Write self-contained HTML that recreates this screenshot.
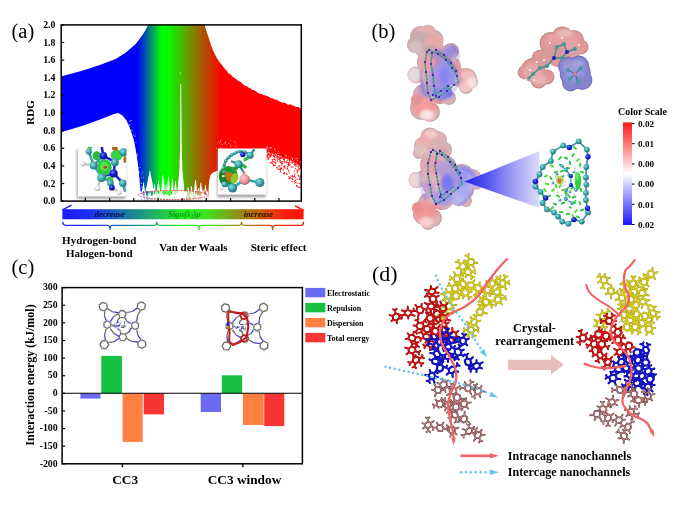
<!DOCTYPE html>
<html><head><meta charset="utf-8"><title>Figure</title>
<style>
html,body{margin:0;padding:0;background:#fff;}
body{width:680px;height:510px;overflow:hidden;font-family:"Liberation Serif",serif;}
svg{display:block;}
svg text{font-family:"Liberation Serif",serif;}
</style></head><body>
<svg width="680" height="510" viewBox="0 0 680 510">
<rect width="680" height="510" fill="#ffffff"/>
<g id="fig" filter="url(#b04)">
<defs>
<linearGradient id="gA" gradientUnits="userSpaceOnUse" x1="61" y1="0" x2="301" y2="0">
<stop offset="0" stop-color="#0000ff"/><stop offset="0.318" stop-color="#0000ff"/>
<stop offset="0.42" stop-color="#00ff00"/><stop offset="0.45" stop-color="#08f800"/>
<stop offset="0.56" stop-color="#8a7800"/><stop offset="0.67" stop-color="#ff0000"/><stop offset="1" stop-color="#ff0000"/>
</linearGradient>
<linearGradient id="gBar" gradientUnits="userSpaceOnUse" x1="62" y1="0" x2="304" y2="0">
<stop offset="0" stop-color="#1a1aff"/><stop offset="0.12" stop-color="#1a30f0"/>
<stop offset="0.5" stop-color="#22ee22"/><stop offset="0.6" stop-color="#40e020"/>
<stop offset="0.78" stop-color="#b07010"/><stop offset="0.92" stop-color="#ff2010"/><stop offset="1" stop-color="#ff1010"/>
</linearGradient>
<linearGradient id="gScale" x1="0" y1="0" x2="0" y2="1">
<stop offset="0" stop-color="#ff1818"/><stop offset="0.5" stop-color="#ffffff"/><stop offset="1" stop-color="#1818ff"/>
</linearGradient>
<linearGradient id="gCone" gradientUnits="userSpaceOnUse" x1="464" y1="0" x2="540" y2="0">
<stop offset="0" stop-color="#2020e8"/><stop offset="0.25" stop-color="#4848f0"/><stop offset="0.7" stop-color="#a8a8f6"/><stop offset="1" stop-color="#dcdcfb"/>
</linearGradient>
<radialGradient id="sT" cx="0.38" cy="0.35" r="0.7"><stop offset="0" stop-color="#8fe0e0"/><stop offset="0.5" stop-color="#3aa6aa"/><stop offset="1" stop-color="#1c6c74"/></radialGradient>
<radialGradient id="sB" cx="0.38" cy="0.35" r="0.7"><stop offset="0" stop-color="#6a78ff"/><stop offset="0.5" stop-color="#1020d8"/><stop offset="1" stop-color="#060a80"/></radialGradient>
<radialGradient id="sW" cx="0.38" cy="0.35" r="0.7"><stop offset="0" stop-color="#ffffff"/><stop offset="0.6" stop-color="#e4e4e4"/><stop offset="1" stop-color="#9a9a9a"/></radialGradient>
<radialGradient id="sP" cx="0.38" cy="0.35" r="0.7"><stop offset="0" stop-color="#ffd0d0"/><stop offset="0.6" stop-color="#e89098"/><stop offset="1" stop-color="#a85860"/></radialGradient>
<radialGradient id="sG" cx="0.4" cy="0.4" r="0.7"><stop offset="0" stop-color="#9cf08c"/><stop offset="0.6" stop-color="#2fc840"/><stop offset="1" stop-color="#1a8a30"/></radialGradient>
<filter id="b1" x="-20%" y="-20%" width="140%" height="140%"><feGaussianBlur stdDeviation="1"/></filter>
<filter id="b2" x="-20%" y="-20%" width="140%" height="140%"><feGaussianBlur stdDeviation="2.2"/></filter>
<filter id="b07" x="-20%" y="-20%" width="140%" height="140%"><feGaussianBlur stdDeviation="0.7"/></filter>
<filter id="b15" x="-20%" y="-20%" width="140%" height="140%"><feGaussianBlur stdDeviation="1.5"/></filter>
<filter id="b3" x="-30%" y="-30%" width="160%" height="160%"><feGaussianBlur stdDeviation="3.5"/></filter>
<filter id="b05" x="-10%" y="-10%" width="120%" height="120%"><feGaussianBlur stdDeviation="0.45"/></filter>
<filter id="sh" x="-20%" y="-20%" width="150%" height="150%"><feGaussianBlur stdDeviation="1.6"/></filter>
<clipPath id="cA"><rect x="61" y="24.5" width="240" height="177"/></clipPath>
</defs>
<text x="11.5" y="37.5" font-size="20.5" text-anchor="start" fill="#000" >(a)</text>
<g clip-path="url(#cA)">
<polygon points="61,76.6 82.9,70.4 100.5,64.8 115.6,59 125.6,52.8 135.7,44 143.2,33.9 148.5,24.5 204.5,24.5 204.9,25.9 205.3,27.3 205.8,28.8 206.2,30.2 206.6,31.6 207,32.5 207.4,34.2 207.8,34.8 208.2,36.5 208.6,37.3 209,38.5 209.4,40.1 209.8,41.8 210.2,42.1 210.6,43.5 211,45.2 211.5,46.8 212,47.6 212.5,48.6 213,50.6 213.5,50.7 214,52.9 214.5,53.5 215,54.6 215.6,55.5 216.2,56.8 216.9,58.4 217.5,58.6 218.1,60.1 218.8,61.2 219.4,61.8 220,63.1 220.8,63.4 221.6,64.4 222.4,65.5 223.2,67 224,67.7 224.8,68.5 225.6,69.8 226.4,70.5 227.2,71.3 228,72.9 228.9,73.5 229.8,73.7 230.7,74.8 231.6,75.5 232.5,76.7 233.4,77.3 234.3,77.5 235.2,79.1 236.1,78.8 237,79.9 238,81 239,80.9 240,82 241,82.1 242,83.6 243,84.4 244,84.8 245,85.9 246.1,85.8 247.2,86.8 248.2,87.3 249.3,87.9 250.4,88.3 251.5,89.4 252.6,90.1 253.7,90.1 254.8,90.9 255.8,90.8 256.9,92.2 258,92.7 259.1,93.6 260.3,93.9 261.4,93.7 262.5,94.4 263.7,95.2 264.8,94.9 266,96 267.1,96.1 268.2,96.5 269.4,97 270.5,98.3 271.7,98 272.9,98.5 274.1,99.1 275.3,100.1 276.5,99.6 277.7,100.5 278.8,101 280,101.8 281.2,102.2 282.4,102.7 283.6,102.4 284.8,103 286,103.3 287.3,104.4 288.5,104.9 289.8,104.3 291.1,104.8 292.3,105.3 293.6,105.7 294.9,106.4 296.1,106.9 297.4,107 298.7,107.1 299.9,108 301.2,108.5 301.2,166 290,160.5 280,156 267,151.5 255,152 240,156 228,163 219,170 213,172.5 210.5,175 209,182 208,201.5 208,201.5 206.7,191.5 205.7,185 205.2,185 204.2,191.5 203.6,191.5 203.2,189 202.8,189 202.4,191.5 202.2,191.5 201.1,182.4 200.6,182.4 199.4,191.5 199.1,191.5 198.6,188 198.1,188 197.6,191.5 197.1,191.5 195.8,179.8 195.2,179.8 193.9,191.5 192.4,191.5 191.8,186 191.2,186 190.6,191.5 189.3,191.5 188.4,187 187.9,187 187.1,191.5 176.8,191.5 175.8,181 175.3,181 174.3,191.5 173.7,191.5 172.6,178.5 172.1,178.5 170.9,191.5 169.9,191.5 168.7,176.5 168.2,176.5 166.9,191.5 166.9,191.5 166.2,184 165.8,184 165.1,191.5 165,191.5 163.2,175 162.8,175 161,191.5 160,191.5 158.7,180.4 158.2,180.4 156.8,191.5 155.5,191.5 154.8,184 154.2,184 153.5,191.5 154.1,191.5 150.1,171 149.6,171 145.6,191.5 145.1,191.5 143.8,183 143.2,183 141.9,191.5 140.5,191.5 140,186 138.8,172 137.4,160 135.7,149.4 133.8,140 131.6,133 129,126 126.5,120.6 122.5,115.5 118.2,113 114,114 100,119.5 85,125 72,129 61,132.2" fill="url(#gA)"/>
<rect x="140.5" y="191.5" width="67.5" height="10" fill="#fff"/>
<rect x="165.7" y="191.2" width="1.1" height="3.5" fill="url(#gA)" opacity="0.8"/>
<rect x="175.3" y="191.2" width="0.9" height="3.7" fill="url(#gA)" opacity="0.5"/>
<rect x="200.4" y="191.2" width="1" height="4.2" fill="url(#gA)" opacity="0.8"/>
<rect x="167.2" y="191.2" width="0.6" height="2.9" fill="url(#gA)" opacity="0.8"/>
<rect x="145.6" y="191.2" width="0.6" height="1.7" fill="url(#gA)" opacity="0.6"/>
<rect x="163.8" y="191.2" width="0.5" height="1.7" fill="url(#gA)" opacity="0.6"/>
<rect x="148.1" y="191.2" width="0.5" height="2.8" fill="url(#gA)" opacity="0.8"/>
<rect x="181.7" y="191.2" width="0.7" height="2" fill="url(#gA)" opacity="0.6"/>
<rect x="165.4" y="191.2" width="1" height="1.9" fill="url(#gA)" opacity="0.9"/>
<rect x="172" y="191.2" width="0.6" height="3.2" fill="url(#gA)" opacity="0.5"/>
<rect x="163.9" y="191.2" width="1" height="2.4" fill="url(#gA)" opacity="0.6"/>
<rect x="143" y="191.2" width="0.8" height="4.8" fill="url(#gA)" opacity="0.6"/>
<rect x="177.1" y="191.2" width="0.8" height="1.6" fill="url(#gA)" opacity="0.9"/>
<rect x="198" y="191.2" width="0.7" height="3.9" fill="url(#gA)" opacity="0.6"/>
<rect x="152.4" y="191.2" width="0.8" height="4.2" fill="url(#gA)" opacity="0.8"/>
<rect x="163.1" y="191.2" width="1" height="2.3" fill="url(#gA)" opacity="0.9"/>
<rect x="197.3" y="191.2" width="1" height="4.3" fill="url(#gA)" opacity="0.8"/>
<rect x="156.4" y="191.2" width="0.7" height="3.3" fill="url(#gA)" opacity="0.5"/>
<rect x="143.3" y="191.2" width="0.7" height="2.5" fill="url(#gA)" opacity="0.8"/>
<rect x="204.2" y="191.2" width="1.1" height="3.1" fill="url(#gA)" opacity="0.9"/>
<rect x="204.1" y="191.2" width="0.6" height="2.8" fill="url(#gA)" opacity="0.6"/>
<rect x="154.4" y="191.2" width="0.9" height="2.2" fill="url(#gA)" opacity="0.9"/>
<rect x="196.5" y="191.2" width="0.9" height="3.2" fill="url(#gA)" opacity="0.8"/>
<rect x="147.1" y="191.2" width="1" height="3.8" fill="url(#gA)" opacity="0.8"/>
<rect x="190.6" y="191.2" width="0.6" height="3.2" fill="url(#gA)" opacity="0.8"/>
<rect x="163.3" y="191.2" width="1.1" height="4.3" fill="url(#gA)" opacity="0.7"/>
<rect x="167.8" y="191.2" width="0.9" height="4.8" fill="url(#gA)" opacity="0.6"/>
<rect x="149.8" y="191.2" width="1" height="2" fill="url(#gA)" opacity="0.8"/>
<rect x="151.1" y="191.2" width="1.1" height="4.4" fill="url(#gA)" opacity="0.8"/>
<rect x="164.5" y="191.2" width="0.6" height="3.4" fill="url(#gA)" opacity="0.5"/>
<rect x="205.1" y="191.2" width="0.8" height="3.8" fill="url(#gA)" opacity="0.9"/>
<rect x="169.9" y="191.2" width="1" height="4.6" fill="url(#gA)" opacity="0.6"/>
<rect x="158" y="191.2" width="0.6" height="2.5" fill="url(#gA)" opacity="0.7"/>
<rect x="158.5" y="191.2" width="0.6" height="3" fill="url(#gA)" opacity="0.9"/>
<rect x="164.7" y="191.2" width="0.9" height="3.1" fill="url(#gA)" opacity="0.9"/>
<rect x="169.1" y="191.2" width="0.8" height="4.7" fill="url(#gA)" opacity="0.7"/>
<rect x="175.8" y="191.2" width="0.8" height="1.6" fill="url(#gA)" opacity="0.6"/>
<rect x="141.8" y="191.2" width="0.6" height="4.3" fill="url(#gA)" opacity="0.7"/>
<rect x="189" y="191.2" width="0.7" height="3.4" fill="url(#gA)" opacity="0.7"/>
<rect x="177.9" y="191.2" width="0.6" height="4.2" fill="url(#gA)" opacity="0.7"/>
<rect x="157.8" y="191.2" width="1" height="2.5" fill="url(#gA)" opacity="0.7"/>
<rect x="178.3" y="191.2" width="1" height="4.2" fill="url(#gA)" opacity="0.7"/>
<rect x="181.6" y="191.2" width="0.8" height="3.3" fill="url(#gA)" opacity="0.8"/>
<rect x="171.1" y="191.2" width="0.8" height="3.4" fill="url(#gA)" opacity="0.9"/>
<rect x="187.3" y="191.2" width="1.1" height="4.6" fill="url(#gA)" opacity="0.6"/>
<rect x="178.1" y="191.2" width="1" height="4.8" fill="url(#gA)" opacity="0.6"/>
<rect x="149.5" y="191.2" width="0.5" height="3" fill="url(#gA)" opacity="0.6"/>
<rect x="146.3" y="191.2" width="1" height="3.8" fill="url(#gA)" opacity="0.9"/>
<rect x="151.6" y="191.2" width="0.9" height="4" fill="url(#gA)" opacity="0.6"/>
<rect x="199.3" y="191.2" width="0.6" height="4.9" fill="url(#gA)" opacity="0.9"/>
<rect x="167.6" y="191.2" width="1.1" height="3.2" fill="url(#gA)" opacity="0.8"/>
<rect x="152.1" y="191.2" width="0.8" height="3" fill="url(#gA)" opacity="0.6"/>
<rect x="154.3" y="191.2" width="0.9" height="2.6" fill="url(#gA)" opacity="0.5"/>
<rect x="177.8" y="191.2" width="0.5" height="3" fill="url(#gA)" opacity="0.6"/>
<rect x="182.4" y="191.2" width="0.5" height="3.3" fill="url(#gA)" opacity="0.9"/>
<rect x="193.1" y="191.2" width="0.6" height="4.9" fill="url(#gA)" opacity="0.6"/>
<rect x="144.1" y="191.2" width="0.7" height="4.2" fill="url(#gA)" opacity="0.6"/>
<rect x="169.2" y="191.2" width="1" height="4.7" fill="url(#gA)" opacity="0.6"/>
<rect x="151.3" y="191.2" width="0.8" height="4.7" fill="url(#gA)" opacity="0.8"/>
<rect x="147.4" y="191.2" width="0.9" height="1.7" fill="url(#gA)" opacity="0.7"/>
<rect x="146.2" y="191.2" width="0.9" height="4.8" fill="url(#gA)" opacity="0.8"/>
<rect x="147" y="191.2" width="0.5" height="4.5" fill="url(#gA)" opacity="0.8"/>
<rect x="171.2" y="191.2" width="0.8" height="2.7" fill="url(#gA)" opacity="0.9"/>
<rect x="159" y="191.2" width="0.8" height="2" fill="url(#gA)" opacity="0.6"/>
<rect x="148.7" y="191.2" width="0.5" height="2.1" fill="url(#gA)" opacity="0.6"/>
<rect x="161.9" y="191.2" width="1" height="2.6" fill="url(#gA)" opacity="0.6"/>
<rect x="174.3" y="191.2" width="0.7" height="2.1" fill="url(#gA)" opacity="0.5"/>
<rect x="157.9" y="191.2" width="0.9" height="1.6" fill="url(#gA)" opacity="0.7"/>
<rect x="153.9" y="191.2" width="1.1" height="3.2" fill="url(#gA)" opacity="0.5"/>
<rect x="195.1" y="191.2" width="0.8" height="3" fill="url(#gA)" opacity="0.8"/>
<rect x="167.2" y="197.5" width="0.6" height="4" fill="url(#gA)" opacity="0.45"/>
<rect x="186.5" y="194.6" width="0.6" height="6.9" fill="url(#gA)" opacity="0.45"/>
<rect x="163.9" y="195.5" width="0.6" height="6" fill="url(#gA)" opacity="0.45"/>
<rect x="187.8" y="196.7" width="0.6" height="4.8" fill="url(#gA)" opacity="0.45"/>
<rect x="168" y="198.4" width="0.6" height="3.1" fill="url(#gA)" opacity="0.45"/>
<rect x="145.1" y="199.7" width="0.6" height="1.8" fill="url(#gA)" opacity="0.45"/>
<rect x="146.1" y="196.1" width="0.6" height="5.4" fill="url(#gA)" opacity="0.45"/>
<rect x="158.2" y="199.5" width="0.6" height="2" fill="url(#gA)" opacity="0.45"/>
<rect x="147" y="195.5" width="0.6" height="6" fill="url(#gA)" opacity="0.45"/>
<rect x="198.5" y="196.5" width="0.6" height="5" fill="url(#gA)" opacity="0.45"/>
<rect x="160" y="199" width="0.6" height="2.5" fill="url(#gA)" opacity="0.45"/>
<rect x="160.7" y="197.7" width="0.6" height="3.8" fill="url(#gA)" opacity="0.45"/>
<rect x="151.8" y="197.8" width="0.6" height="3.7" fill="url(#gA)" opacity="0.45"/>
<rect x="158.7" y="194.7" width="0.6" height="6.8" fill="url(#gA)" opacity="0.45"/>
<rect x="205.2" y="197.2" width="0.6" height="4.3" fill="url(#gA)" opacity="0.45"/>
<rect x="157.5" y="194.7" width="0.6" height="6.8" fill="url(#gA)" opacity="0.45"/>
<rect x="161.8" y="198.4" width="0.6" height="3.1" fill="url(#gA)" opacity="0.45"/>
<rect x="141.6" y="198.2" width="0.6" height="3.3" fill="url(#gA)" opacity="0.45"/>
<rect x="172.6" y="197.5" width="0.6" height="4" fill="url(#gA)" opacity="0.45"/>
<rect x="154.7" y="197.5" width="0.6" height="4" fill="url(#gA)" opacity="0.45"/>
<rect x="141.8" y="198.9" width="0.6" height="2.6" fill="url(#gA)" opacity="0.45"/>
<rect x="147.4" y="198.1" width="0.6" height="3.4" fill="url(#gA)" opacity="0.45"/>
<rect x="144.2" y="200.4" width="0.6" height="1.1" fill="url(#gA)" opacity="0.45"/>
<rect x="161.4" y="199.1" width="0.6" height="2.4" fill="url(#gA)" opacity="0.45"/>
<rect x="179.9" y="197.3" width="0.6" height="4.2" fill="url(#gA)" opacity="0.45"/>
<rect x="190.7" y="196.6" width="0.6" height="4.9" fill="url(#gA)" opacity="0.45"/>
<rect x="188.4" y="195.2" width="0.6" height="6.3" fill="url(#gA)" opacity="0.45"/>
<rect x="167" y="198.5" width="0.6" height="3" fill="url(#gA)" opacity="0.45"/>
<rect x="206" y="199.6" width="0.6" height="1.9" fill="url(#gA)" opacity="0.45"/>
<rect x="188.9" y="196.6" width="0.6" height="4.9" fill="url(#gA)" opacity="0.45"/>
<rect x="144.4" y="195.5" width="0.6" height="6" fill="url(#gA)" opacity="0.45"/>
<rect x="199.9" y="196.7" width="0.6" height="4.8" fill="url(#gA)" opacity="0.45"/>
<rect x="189.6" y="195.6" width="0.6" height="5.9" fill="url(#gA)" opacity="0.45"/>
<rect x="150.6" y="197.4" width="0.6" height="4.1" fill="url(#gA)" opacity="0.45"/>
<rect x="174.5" y="195.5" width="0.6" height="6" fill="url(#gA)" opacity="0.45"/>
<rect x="194.2" y="195.5" width="0.6" height="6" fill="url(#gA)" opacity="0.45"/>
<rect x="179.8" y="195.1" width="0.6" height="6.4" fill="url(#gA)" opacity="0.45"/>
<rect x="186.2" y="196.3" width="0.6" height="5.2" fill="url(#gA)" opacity="0.45"/>
<rect x="156.6" y="200.3" width="0.6" height="1.2" fill="url(#gA)" opacity="0.45"/>
<rect x="150.2" y="198.3" width="0.6" height="3.2" fill="url(#gA)" opacity="0.45"/>
<rect x="148.4" y="195.5" width="0.6" height="6" fill="url(#gA)" opacity="0.45"/>
<rect x="178.1" y="196.7" width="0.6" height="4.8" fill="url(#gA)" opacity="0.45"/>
<rect x="182.5" y="196.4" width="0.6" height="5.1" fill="url(#gA)" opacity="0.45"/>
<rect x="173.5" y="200.5" width="0.6" height="1" fill="url(#gA)" opacity="0.45"/>
<rect x="193.7" y="196" width="0.6" height="5.5" fill="url(#gA)" opacity="0.45"/>
<polygon points="180.4,84 181.2,84 181.5,120 181.8,150 182.4,170 184.3,190 185.4,201.5 176.4,201.5 177.5,190 179.4,170 180,150 180.2,120" fill="#fff"/>
<rect x="180.45" y="72" width="0.5" height="3" fill="#fff" opacity="0.7"/>
<rect x="136.7" y="155.2" width="0.8" height="0.8" fill="#fff" opacity="0.85"/>
<rect x="136.6" y="166.2" width="0.8" height="0.8" fill="#fff" opacity="0.85"/>
<rect x="138.6" y="171.6" width="0.8" height="0.8" fill="#fff" opacity="0.85"/>
<rect x="129.4" y="125.2" width="0.8" height="0.8" fill="#fff" opacity="0.85"/>
<rect x="138.2" y="171.1" width="0.8" height="0.8" fill="#fff" opacity="0.85"/>
<rect x="142.2" y="171.8" width="0.8" height="0.8" fill="#fff" opacity="0.85"/>
<rect x="135.8" y="154.6" width="0.8" height="0.8" fill="#fff" opacity="0.85"/>
<rect x="137.1" y="153.5" width="0.8" height="0.8" fill="#fff" opacity="0.85"/>
<rect x="140.8" y="173.7" width="0.8" height="0.8" fill="#fff" opacity="0.85"/>
<rect x="136.4" y="165" width="0.8" height="0.8" fill="#fff" opacity="0.85"/>
<rect x="130.3" y="130.3" width="0.8" height="0.8" fill="#fff" opacity="0.85"/>
<rect x="138.9" y="172" width="0.8" height="0.8" fill="#fff" opacity="0.85"/>
<rect x="135" y="159.7" width="0.8" height="0.8" fill="#fff" opacity="0.85"/>
<rect x="129.2" y="124.2" width="0.8" height="0.8" fill="#fff" opacity="0.85"/>
<rect x="139.9" y="167" width="0.8" height="0.8" fill="#fff" opacity="0.85"/>
<rect x="137.9" y="167.3" width="0.8" height="0.8" fill="#fff" opacity="0.85"/>
<rect x="136.6" y="156.2" width="0.8" height="0.8" fill="#fff" opacity="0.85"/>
<rect x="134.1" y="152.6" width="0.8" height="0.8" fill="#fff" opacity="0.85"/>
<rect x="140.5" y="182.6" width="0.8" height="0.8" fill="#fff" opacity="0.85"/>
<rect x="145.4" y="188.5" width="0.8" height="0.8" fill="#fff" opacity="0.85"/>
<rect x="129.5" y="121.2" width="0.8" height="0.8" fill="#fff" opacity="0.85"/>
<rect x="143.3" y="177.4" width="0.8" height="0.8" fill="#fff" opacity="0.85"/>
<rect x="134.6" y="151.5" width="0.8" height="0.8" fill="#fff" opacity="0.85"/>
<rect x="134.7" y="134.7" width="0.8" height="0.8" fill="#fff" opacity="0.85"/>
<rect x="132.9" y="134.7" width="0.8" height="0.8" fill="#fff" opacity="0.85"/>
<rect x="131.6" y="129.9" width="0.8" height="0.8" fill="#fff" opacity="0.85"/>
<rect x="141" y="186.7" width="0.8" height="0.8" fill="#fff" opacity="0.85"/>
<rect x="141" y="177.4" width="0.8" height="0.8" fill="#fff" opacity="0.85"/>
<rect x="142.9" y="182.1" width="0.8" height="0.8" fill="#fff" opacity="0.85"/>
<rect x="134.7" y="136.2" width="0.8" height="0.8" fill="#fff" opacity="0.85"/>
<rect x="133.9" y="154" width="0.8" height="0.8" fill="#fff" opacity="0.85"/>
<rect x="129.5" y="120.3" width="0.8" height="0.8" fill="#fff" opacity="0.85"/>
<rect x="134.8" y="151.6" width="0.8" height="0.8" fill="#fff" opacity="0.85"/>
<rect x="130.7" y="129.8" width="0.8" height="0.8" fill="#fff" opacity="0.85"/>
<rect x="135.6" y="142.1" width="0.8" height="0.8" fill="#fff" opacity="0.85"/>
<rect x="130.8" y="120.1" width="0.8" height="0.8" fill="#fff" opacity="0.85"/>
<rect x="139.3" y="178.7" width="0.8" height="0.8" fill="#fff" opacity="0.85"/>
<rect x="143.5" y="184.8" width="0.8" height="0.8" fill="#fff" opacity="0.85"/>
<rect x="141.1" y="183.1" width="0.8" height="0.8" fill="#fff" opacity="0.85"/>
<rect x="134.2" y="146.1" width="0.8" height="0.8" fill="#fff" opacity="0.85"/>
<rect x="236" y="145.9" width="0.8" height="0.8" fill="#fff" opacity="0.85"/>
<rect x="221.9" y="144.3" width="0.8" height="0.8" fill="#fff" opacity="0.85"/>
<rect x="220.1" y="140.5" width="0.8" height="0.8" fill="#fff" opacity="0.85"/>
<rect x="216.2" y="148.3" width="0.8" height="0.8" fill="#fff" opacity="0.85"/>
<rect x="220.3" y="149.4" width="0.8" height="0.8" fill="#fff" opacity="0.85"/>
<rect x="219.5" y="142.7" width="0.8" height="0.8" fill="#fff" opacity="0.85"/>
<rect x="225.2" y="141.9" width="0.8" height="0.8" fill="#fff" opacity="0.85"/>
<rect x="222.2" y="149.6" width="0.8" height="0.8" fill="#fff" opacity="0.85"/>
<rect x="233.5" y="148.1" width="0.8" height="0.8" fill="#fff" opacity="0.85"/>
<rect x="227.9" y="149.1" width="0.8" height="0.8" fill="#fff" opacity="0.85"/>
<rect x="234.7" y="145.5" width="0.8" height="0.8" fill="#fff" opacity="0.85"/>
<rect x="229.8" y="140.5" width="0.8" height="0.8" fill="#fff" opacity="0.85"/>
<rect x="230.1" y="144.5" width="0.8" height="0.8" fill="#fff" opacity="0.85"/>
<rect x="230.6" y="146.4" width="0.8" height="0.8" fill="#fff" opacity="0.85"/>
<rect x="220.3" y="140.5" width="0.8" height="0.8" fill="#fff" opacity="0.85"/>
<rect x="234.4" y="141.3" width="0.8" height="0.8" fill="#fff" opacity="0.85"/>
<rect x="224.4" y="143.4" width="0.8" height="0.8" fill="#fff" opacity="0.85"/>
<rect x="220.6" y="147.4" width="0.8" height="0.8" fill="#fff" opacity="0.85"/>
<rect x="235.5" y="142.6" width="0.8" height="0.8" fill="#fff" opacity="0.85"/>
<rect x="228.4" y="143" width="0.8" height="0.8" fill="#fff" opacity="0.85"/>
<rect x="226.3" y="143.9" width="0.8" height="0.8" fill="#fff" opacity="0.85"/>
<rect x="217.7" y="141.6" width="0.8" height="0.8" fill="#fff" opacity="0.85"/>
<rect x="218.6" y="149.1" width="0.8" height="0.8" fill="#fff" opacity="0.85"/>
<rect x="224.9" y="142.2" width="0.8" height="0.8" fill="#fff" opacity="0.85"/>
<rect x="297.7" y="186.6" width="1.1" height="1.1" fill="#ff0000"/>
<rect x="281.7" y="156.8" width="1.1" height="1.1" fill="#ff0000"/>
<rect x="272.7" y="152.4" width="1.1" height="1.1" fill="#ff0000"/>
<rect x="278" y="154.6" width="1.1" height="1.1" fill="#ff0000"/>
<rect x="274.4" y="154.7" width="1.1" height="1.1" fill="#ff0000"/>
<rect x="285.9" y="173.5" width="1.1" height="1.1" fill="#ff0000"/>
<rect x="292.2" y="166.4" width="1.1" height="1.1" fill="#ff0000"/>
<rect x="280.5" y="161.9" width="1.1" height="1.1" fill="#ff0000"/>
<rect x="279.2" y="158.1" width="1.1" height="1.1" fill="#ff0000"/>
<rect x="268.2" y="151.8" width="1.1" height="1.1" fill="#ff0000"/>
<rect x="299.9" y="164.7" width="1.1" height="1.1" fill="#ff0000"/>
<rect x="283.6" y="165.9" width="1.1" height="1.1" fill="#ff0000"/>
<rect x="296.2" y="164.5" width="1.1" height="1.1" fill="#ff0000"/>
<rect x="275.5" y="155.1" width="1.1" height="1.1" fill="#ff0000"/>
<rect x="280" y="160.2" width="1.1" height="1.1" fill="#ff0000"/>
<rect x="299.4" y="183" width="1.1" height="1.1" fill="#ff0000"/>
<rect x="296.6" y="162" width="1.1" height="1.1" fill="#ff0000"/>
<rect x="267.1" y="156.1" width="1.1" height="1.1" fill="#ff0000"/>
<rect x="297.3" y="170.7" width="1.1" height="1.1" fill="#ff0000"/>
<rect x="286.6" y="157.7" width="1.1" height="1.1" fill="#ff0000"/>
<rect x="279.7" y="169.4" width="1.1" height="1.1" fill="#ff0000"/>
<rect x="294.9" y="179.7" width="1.1" height="1.1" fill="#ff0000"/>
<rect x="300" y="167" width="1.1" height="1.1" fill="#ff0000"/>
<rect x="269.8" y="151.5" width="1.1" height="1.1" fill="#ff0000"/>
<rect x="284.3" y="167.4" width="1.1" height="1.1" fill="#ff0000"/>
<rect x="299" y="178.6" width="1.1" height="1.1" fill="#ff0000"/>
<rect x="288.7" y="172.5" width="1.1" height="1.1" fill="#ff0000"/>
<rect x="282" y="163.3" width="1.1" height="1.1" fill="#ff0000"/>
<rect x="267.4" y="157.2" width="1.1" height="1.1" fill="#ff0000"/>
<rect x="274.1" y="164.7" width="1.1" height="1.1" fill="#ff0000"/>
<rect x="288.6" y="162.4" width="1.1" height="1.1" fill="#ff0000"/>
<rect x="270.5" y="152.7" width="1.1" height="1.1" fill="#ff0000"/>
<rect x="288.3" y="170.6" width="1.1" height="1.1" fill="#ff0000"/>
<rect x="269.9" y="151" width="1.1" height="1.1" fill="#ff0000"/>
<rect x="284.4" y="165.4" width="1.1" height="1.1" fill="#ff0000"/>
<rect x="279.6" y="156.8" width="1.1" height="1.1" fill="#ff0000"/>
<rect x="287" y="157.9" width="1.1" height="1.1" fill="#ff0000"/>
<rect x="276.6" y="158.5" width="1.1" height="1.1" fill="#ff0000"/>
<rect x="299.6" y="176.8" width="1.1" height="1.1" fill="#ff0000"/>
<rect x="296.9" y="170.5" width="1.1" height="1.1" fill="#ff0000"/>
<rect x="274.2" y="154.5" width="1.1" height="1.1" fill="#ff0000"/>
<rect x="299.6" y="178.6" width="1.1" height="1.1" fill="#ff0000"/>
<rect x="276.8" y="153.7" width="1.1" height="1.1" fill="#ff0000"/>
<rect x="283.4" y="166.7" width="1.1" height="1.1" fill="#ff0000"/>
<rect x="280.7" y="157.7" width="1.1" height="1.1" fill="#ff0000"/>
<rect x="289.4" y="177.3" width="1.1" height="1.1" fill="#ff0000"/>
<rect x="273.9" y="152.5" width="1.1" height="1.1" fill="#ff0000"/>
<rect x="277.8" y="158.6" width="1.1" height="1.1" fill="#ff0000"/>
<rect x="289.9" y="161.3" width="1.1" height="1.1" fill="#ff0000"/>
<rect x="293.9" y="175.6" width="1.1" height="1.1" fill="#ff0000"/>
<rect x="283.7" y="158.5" width="1.1" height="1.1" fill="#ff0000"/>
<rect x="299.9" y="168.3" width="1.1" height="1.1" fill="#ff0000"/>
<rect x="294.7" y="164.1" width="1.1" height="1.1" fill="#ff0000"/>
<rect x="273.8" y="161.5" width="1.1" height="1.1" fill="#ff0000"/>
<rect x="276.3" y="167.1" width="1.1" height="1.1" fill="#ff0000"/>
<rect x="283.4" y="158.1" width="1.1" height="1.1" fill="#ff0000"/>
<rect x="273.8" y="156.3" width="1.1" height="1.1" fill="#ff0000"/>
<rect x="289.3" y="177.9" width="1.1" height="1.1" fill="#ff0000"/>
<rect x="271.1" y="154.6" width="1.1" height="1.1" fill="#ff0000"/>
<rect x="273.5" y="165.1" width="1.1" height="1.1" fill="#ff0000"/>
<rect x="271" y="151.4" width="1.1" height="1.1" fill="#ff0000"/>
<rect x="268.1" y="152.9" width="1.1" height="1.1" fill="#ff0000"/>
<rect x="297.4" y="182.6" width="1.1" height="1.1" fill="#ff0000"/>
<rect x="291.6" y="181.3" width="1.1" height="1.1" fill="#ff0000"/>
<rect x="298.6" y="168" width="1.1" height="1.1" fill="#ff0000"/>
<rect x="272.5" y="163.6" width="1.1" height="1.1" fill="#ff0000"/>
<rect x="292.1" y="160.2" width="1.1" height="1.1" fill="#ff0000"/>
<rect x="289.3" y="164.1" width="1.1" height="1.1" fill="#ff0000"/>
<rect x="279.1" y="158" width="1.1" height="1.1" fill="#ff0000"/>
<rect x="271.9" y="151.6" width="1.1" height="1.1" fill="#ff0000"/>
<rect x="275.8" y="156.5" width="1.1" height="1.1" fill="#ff0000"/>
<rect x="299.4" y="164.5" width="1.1" height="1.1" fill="#ff0000"/>
<rect x="299.7" y="166" width="1.1" height="1.1" fill="#ff0000"/>
<rect x="278.5" y="166.2" width="1.1" height="1.1" fill="#ff0000"/>
<rect x="294.8" y="168.3" width="1.1" height="1.1" fill="#ff0000"/>
<rect x="267.7" y="153.6" width="1.1" height="1.1" fill="#ff0000"/>
<rect x="279" y="168.7" width="1.1" height="1.1" fill="#ff0000"/>
<rect x="272.8" y="155.1" width="1.1" height="1.1" fill="#ff0000"/>
<rect x="297.4" y="162.4" width="1.1" height="1.1" fill="#ff0000"/>
<rect x="280.4" y="167.4" width="1.1" height="1.1" fill="#ff0000"/>
<rect x="292.8" y="160.6" width="1.1" height="1.1" fill="#ff0000"/>
<rect x="267.2" y="149.8" width="1.1" height="1.1" fill="#ff0000"/>
<rect x="298.2" y="166.3" width="1.1" height="1.1" fill="#ff0000"/>
<rect x="292.2" y="178.8" width="1.1" height="1.1" fill="#ff0000"/>
<rect x="277.9" y="156.5" width="1.1" height="1.1" fill="#ff0000"/>
<rect x="299.5" y="175.9" width="1.1" height="1.1" fill="#ff0000"/>
<rect x="275.2" y="161.8" width="1.1" height="1.1" fill="#ff0000"/>
<rect x="277.1" y="156.2" width="1.1" height="1.1" fill="#ff0000"/>
<rect x="266.1" y="155.9" width="1.1" height="1.1" fill="#ff0000"/>
<rect x="298.1" y="175.5" width="1.1" height="1.1" fill="#ff0000"/>
<rect x="299" y="163.1" width="1.1" height="1.1" fill="#ff0000"/>
<rect x="274.2" y="157.3" width="1.1" height="1.1" fill="#ff0000"/>
<rect x="299.5" y="186.6" width="1.1" height="1.1" fill="#ff0000"/>
<rect x="279.5" y="157.1" width="1.1" height="1.1" fill="#ff0000"/>
<rect x="281" y="161.6" width="1.1" height="1.1" fill="#ff0000"/>
<rect x="298.5" y="165" width="1.1" height="1.1" fill="#ff0000"/>
<rect x="294.1" y="175.7" width="1.1" height="1.1" fill="#ff0000"/>
<rect x="294.8" y="177.2" width="1.1" height="1.1" fill="#ff0000"/>
<rect x="287.3" y="162.1" width="1.1" height="1.1" fill="#ff0000"/>
<rect x="277.2" y="157.4" width="1.1" height="1.1" fill="#ff0000"/>
<rect x="293.4" y="161.2" width="1.1" height="1.1" fill="#ff0000"/>
<rect x="272.9" y="160.8" width="1.1" height="1.1" fill="#ff0000"/>
<rect x="274.7" y="153" width="1.1" height="1.1" fill="#ff0000"/>
<rect x="267.2" y="154.2" width="1.1" height="1.1" fill="#ff0000"/>
<rect x="277.4" y="168.6" width="1.1" height="1.1" fill="#ff0000"/>
<rect x="296.9" y="185.6" width="1.1" height="1.1" fill="#ff0000"/>
<rect x="275.3" y="153.4" width="1.1" height="1.1" fill="#ff0000"/>
<rect x="269.4" y="154.8" width="1.1" height="1.1" fill="#ff0000"/>
<rect x="290.8" y="166.4" width="1.1" height="1.1" fill="#ff0000"/>
<rect x="274.2" y="156.5" width="1.1" height="1.1" fill="#ff0000"/>
<rect x="287.7" y="169.6" width="1.1" height="1.1" fill="#ff0000"/>
<rect x="292.2" y="177.3" width="1.1" height="1.1" fill="#ff0000"/>
<rect x="289.3" y="159.9" width="1.1" height="1.1" fill="#ff0000"/>
<rect x="295.4" y="165.6" width="1.1" height="1.1" fill="#ff0000"/>
<rect x="285.8" y="162.2" width="1.1" height="1.1" fill="#ff0000"/>
<rect x="291.8" y="162.2" width="1.1" height="1.1" fill="#ff0000"/>
<rect x="274.7" y="154.7" width="1.1" height="1.1" fill="#ff0000"/>
<rect x="271.4" y="161.8" width="1.1" height="1.1" fill="#ff0000"/>
<rect x="286.2" y="161.6" width="1.1" height="1.1" fill="#ff0000"/>
<rect x="279.9" y="171" width="1.1" height="1.1" fill="#ff0000"/>
<rect x="283.8" y="158.9" width="1.1" height="1.1" fill="#ff0000"/>
<rect x="294.3" y="173.5" width="1.1" height="1.1" fill="#ff0000"/>
<rect x="300.7" y="164.7" width="1.1" height="1.1" fill="#ff0000"/>
<rect x="282.6" y="169.3" width="1.1" height="1.1" fill="#ff0000"/>
<rect x="295.4" y="181.9" width="1.1" height="1.1" fill="#ff0000"/>
<rect x="267.4" y="151.6" width="1.1" height="1.1" fill="#ff0000"/>
<rect x="270.2" y="152" width="1.1" height="1.1" fill="#ff0000"/>
<rect x="300.1" y="175.3" width="1.1" height="1.1" fill="#ff0000"/>
<rect x="298.6" y="168.9" width="1.1" height="1.1" fill="#ff0000"/>
<rect x="296.3" y="169.5" width="1.1" height="1.1" fill="#ff0000"/>
<rect x="275.1" y="162.8" width="1.1" height="1.1" fill="#ff0000"/>
<rect x="299.1" y="164.1" width="1.1" height="1.1" fill="#ff0000"/>
<rect x="286.9" y="167.8" width="1.1" height="1.1" fill="#ff0000"/>
<rect x="273.6" y="155.6" width="1.1" height="1.1" fill="#ff0000"/>
<rect x="270.9" y="152.5" width="1.1" height="1.1" fill="#ff0000"/>
<rect x="274.9" y="159.7" width="1.1" height="1.1" fill="#ff0000"/>
<rect x="288.8" y="160.8" width="1.1" height="1.1" fill="#ff0000"/>
<rect x="266.4" y="151.4" width="1.1" height="1.1" fill="#ff0000"/>
<rect x="289.7" y="161" width="1.1" height="1.1" fill="#ff0000"/>
<rect x="276.9" y="155.3" width="1.1" height="1.1" fill="#ff0000"/>
<rect x="293.8" y="170.5" width="1.1" height="1.1" fill="#ff0000"/>
<rect x="268.2" y="150.5" width="1.1" height="1.1" fill="#ff0000"/>
<rect x="279.8" y="161.9" width="1.1" height="1.1" fill="#ff0000"/>
<rect x="288.4" y="159.2" width="1.1" height="1.1" fill="#ff0000"/>
<rect x="271.7" y="159.1" width="1.1" height="1.1" fill="#ff0000"/>
<rect x="280.3" y="157.9" width="1.1" height="1.1" fill="#ff0000"/>
<rect x="276.8" y="167.5" width="1.1" height="1.1" fill="#ff0000"/>
<rect x="276.9" y="160.4" width="1.1" height="1.1" fill="#ff0000"/>
<rect x="278.5" y="158.9" width="1.1" height="1.1" fill="#ff0000"/>
<rect x="296.2" y="185.3" width="1.1" height="1.1" fill="#ff0000"/>
<rect x="278.7" y="156" width="1.1" height="1.1" fill="#ff0000"/>
<rect x="291.5" y="162.1" width="1.1" height="1.1" fill="#ff0000"/>
<rect x="266.2" y="157.9" width="1.1" height="1.1" fill="#ff0000"/>
<rect x="280.8" y="167.9" width="1.1" height="1.1" fill="#ff0000"/>
<rect x="280.2" y="168.8" width="1.1" height="1.1" fill="#ff0000"/>
<rect x="282.1" y="157.2" width="1.1" height="1.1" fill="#ff0000"/>
<rect x="266.5" y="153.7" width="1.1" height="1.1" fill="#ff0000"/>
<rect x="288.4" y="176.1" width="1.1" height="1.1" fill="#ff0000"/>
<rect x="269.1" y="156.3" width="1.1" height="1.1" fill="#ff0000"/>
<rect x="279" y="160.6" width="1.1" height="1.1" fill="#ff0000"/>
<rect x="271.1" y="153.3" width="1.1" height="1.1" fill="#ff0000"/>
<rect x="284.2" y="173.1" width="1.1" height="1.1" fill="#ff0000"/>
<rect x="269.8" y="155" width="1.1" height="1.1" fill="#ff0000"/>
<rect x="294.2" y="182.5" width="1.1" height="1.1" fill="#ff0000"/>
<rect x="272.9" y="152.7" width="1.1" height="1.1" fill="#ff0000"/>
<rect x="299" y="186.9" width="1.1" height="1.1" fill="#ff0000"/>
<rect x="282.9" y="156.5" width="1.1" height="1.1" fill="#ff0000"/>
<rect x="298.4" y="169.2" width="1.1" height="1.1" fill="#ff0000"/>
<rect x="297.6" y="174.8" width="1.1" height="1.1" fill="#ff0000"/>
<rect x="294.9" y="163" width="1.1" height="1.1" fill="#ff0000"/>
<rect x="293.5" y="163.4" width="1.1" height="1.1" fill="#ff0000"/>
<rect x="280.2" y="168" width="1.1" height="1.1" fill="#ff0000"/>
<rect x="295" y="163.4" width="1.1" height="1.1" fill="#ff0000"/>
<rect x="273.6" y="156" width="1.1" height="1.1" fill="#ff0000"/>
<rect x="284.1" y="161.4" width="1.1" height="1.1" fill="#ff0000"/>
<rect x="270.3" y="152.6" width="1.1" height="1.1" fill="#ff0000"/>
<rect x="291.4" y="178.1" width="1.1" height="1.1" fill="#ff0000"/>
<rect x="267.4" y="154.4" width="1.1" height="1.1" fill="#ff0000"/>
<rect x="292.5" y="160.4" width="1.1" height="1.1" fill="#ff0000"/>
<rect x="295.3" y="162.6" width="1.1" height="1.1" fill="#ff0000"/>
<rect x="287" y="166.3" width="1.1" height="1.1" fill="#ff0000"/>
<rect x="287.9" y="162.1" width="1.1" height="1.1" fill="#ff0000"/>
<rect x="280.7" y="163.1" width="1.1" height="1.1" fill="#ff0000"/>
<rect x="280.9" y="164.7" width="1.1" height="1.1" fill="#ff0000"/>
<rect x="281.6" y="161" width="1.1" height="1.1" fill="#ff0000"/>
<rect x="266.8" y="154.7" width="1.1" height="1.1" fill="#ff0000"/>
<rect x="283.1" y="158.6" width="1.1" height="1.1" fill="#ff0000"/>
<rect x="292.7" y="175.9" width="1.1" height="1.1" fill="#ff0000"/>
<rect x="282" y="157.4" width="1.1" height="1.1" fill="#ff0000"/>
<rect x="282.6" y="156.8" width="1.1" height="1.1" fill="#ff0000"/>
<rect x="270.5" y="154.7" width="1.1" height="1.1" fill="#ff0000"/>
<rect x="269.2" y="154.1" width="1.1" height="1.1" fill="#ff0000"/>
<rect x="283.9" y="156.8" width="1.1" height="1.1" fill="#ff0000"/>
<rect x="288.3" y="159" width="1.1" height="1.1" fill="#ff0000"/>
<rect x="291.7" y="175" width="1.1" height="1.1" fill="#ff0000"/>
<rect x="283.9" y="156.9" width="1.1" height="1.1" fill="#ff0000"/>
<rect x="283.6" y="161.1" width="1.1" height="1.1" fill="#ff0000"/>
<rect x="299.3" y="164.6" width="1.1" height="1.1" fill="#ff0000"/>
<rect x="296" y="185.1" width="1.1" height="1.1" fill="#ff0000"/>
<rect x="291.6" y="176" width="1.1" height="1.1" fill="#ff0000"/>
<rect x="272.8" y="164.6" width="1.1" height="1.1" fill="#ff0000"/>
<rect x="283.2" y="173" width="1.1" height="1.1" fill="#ff0000"/>
<rect x="298.1" y="164.5" width="1.1" height="1.1" fill="#ff0000"/>
<rect x="293.6" y="180.9" width="1.1" height="1.1" fill="#ff0000"/>
<rect x="268.3" y="152.6" width="1.1" height="1.1" fill="#ff0000"/>
<rect x="292.5" y="161.9" width="1.1" height="1.1" fill="#ff0000"/>
<rect x="297.4" y="166.2" width="1.1" height="1.1" fill="#ff0000"/>
<rect x="294.5" y="162.6" width="1.1" height="1.1" fill="#ff0000"/>
<rect x="283.6" y="172.4" width="1.1" height="1.1" fill="#ff0000"/>
<rect x="273.3" y="154.2" width="1.1" height="1.1" fill="#ff0000"/>
<rect x="283.7" y="160.1" width="1.1" height="1.1" fill="#ff0000"/>
<rect x="267.3" y="150.6" width="1.1" height="1.1" fill="#ff0000"/>
<rect x="271.6" y="162.9" width="1.1" height="1.1" fill="#ff0000"/>
<rect x="289.8" y="176.8" width="1.1" height="1.1" fill="#ff0000"/>
<rect x="271.9" y="160.6" width="1.1" height="1.1" fill="#ff0000"/>
<rect x="270" y="155.6" width="1.1" height="1.1" fill="#ff0000"/>
<rect x="288.3" y="163.2" width="1.1" height="1.1" fill="#ff0000"/>
<rect x="296.6" y="172.3" width="1.1" height="1.1" fill="#ff0000"/>
<rect x="286.3" y="173.7" width="1.1" height="1.1" fill="#ff0000"/>
<rect x="269.7" y="162.2" width="1.1" height="1.1" fill="#ff0000"/>
<rect x="288" y="163.7" width="1.1" height="1.1" fill="#ff0000"/>
<rect x="293.9" y="164.3" width="1.1" height="1.1" fill="#ff0000"/>
<rect x="300.7" y="175.5" width="1.1" height="1.1" fill="#ff0000"/>
<rect x="278.6" y="165.1" width="1.1" height="1.1" fill="#ff0000"/>
<rect x="281.5" y="157.1" width="1.1" height="1.1" fill="#ff0000"/>
<rect x="292" y="160.3" width="1.1" height="1.1" fill="#ff0000"/>
<rect x="294.7" y="164.5" width="1.1" height="1.1" fill="#ff0000"/>
<rect x="288.4" y="178.1" width="1.1" height="1.1" fill="#ff0000"/>
<rect x="286.5" y="168.5" width="1.1" height="1.1" fill="#ff0000"/>
<rect x="276.9" y="153.7" width="1.1" height="1.1" fill="#ff0000"/>
<rect x="267.2" y="150.3" width="1.1" height="1.1" fill="#ff0000"/>
<rect x="287.6" y="164.2" width="1.1" height="1.1" fill="#ff0000"/>
<rect x="283.9" y="172.1" width="1.1" height="1.1" fill="#ff0000"/>
<rect x="270.6" y="152.5" width="1.1" height="1.1" fill="#ff0000"/>
<rect x="288.9" y="158.8" width="1.1" height="1.1" fill="#ff0000"/>
<rect x="266.1" y="151.5" width="1.1" height="1.1" fill="#ff0000"/>
<rect x="269.7" y="153.4" width="1.1" height="1.1" fill="#ff0000"/>
<rect x="273.8" y="158.7" width="1.1" height="1.1" fill="#ff0000"/>
<rect x="286.6" y="159.8" width="1.1" height="1.1" fill="#ff0000"/>
<rect x="287.8" y="165.2" width="1.1" height="1.1" fill="#ff0000"/>
<rect x="270.7" y="162.1" width="1.1" height="1.1" fill="#ff0000"/>
<rect x="274.5" y="153.6" width="1.1" height="1.1" fill="#ff0000"/>
<rect x="269.4" y="156.6" width="1.1" height="1.1" fill="#ff0000"/>
<rect x="296.5" y="178.7" width="1.1" height="1.1" fill="#ff0000"/>
<rect x="280.1" y="157.5" width="1.1" height="1.1" fill="#ff0000"/>
<rect x="266.4" y="154.8" width="1.1" height="1.1" fill="#ff0000"/>
<rect x="285.7" y="161.7" width="1.1" height="1.1" fill="#ff0000"/>
<rect x="288.6" y="165" width="1.1" height="1.1" fill="#ff0000"/>
<rect x="298.8" y="178.9" width="1.1" height="1.1" fill="#ff0000"/>
<rect x="274.7" y="164.8" width="1.1" height="1.1" fill="#ff0000"/>
<rect x="267.5" y="154.1" width="1.1" height="1.1" fill="#ff0000"/>
<rect x="280.2" y="157.2" width="1.1" height="1.1" fill="#ff0000"/>
<rect x="268" y="157.6" width="1.1" height="1.1" fill="#ff0000"/>
<rect x="266.4" y="153.7" width="1.1" height="1.1" fill="#ff0000"/>
<rect x="298.9" y="164.5" width="1.1" height="1.1" fill="#ff0000"/>
<rect x="273" y="158.6" width="1.1" height="1.1" fill="#ff0000"/>
<rect x="283.7" y="166.2" width="1.1" height="1.1" fill="#ff0000"/>
<rect x="294.5" y="163" width="1.1" height="1.1" fill="#ff0000"/>
<rect x="276.8" y="156.4" width="1.1" height="1.1" fill="#ff0000"/>
<rect x="267.7" y="158.9" width="1.1" height="1.1" fill="#ff0000"/>
<rect x="293.4" y="161.6" width="0.8" height="0.8" fill="#fff" opacity="0.8"/>
<rect x="266.2" y="151.1" width="0.8" height="0.8" fill="#fff" opacity="0.8"/>
<rect x="292.1" y="159.3" width="0.8" height="0.8" fill="#fff" opacity="0.8"/>
<rect x="292" y="159.2" width="0.8" height="0.8" fill="#fff" opacity="0.8"/>
<rect x="273.9" y="149.1" width="0.8" height="0.8" fill="#fff" opacity="0.8"/>
<rect x="274.1" y="148.8" width="0.8" height="0.8" fill="#fff" opacity="0.8"/>
<rect x="277.7" y="155.3" width="0.8" height="0.8" fill="#fff" opacity="0.8"/>
<rect x="290.3" y="161.2" width="0.8" height="0.8" fill="#fff" opacity="0.8"/>
<rect x="290.9" y="157.4" width="0.8" height="0.8" fill="#fff" opacity="0.8"/>
<rect x="285.4" y="156.3" width="0.8" height="0.8" fill="#fff" opacity="0.8"/>
<rect x="293.6" y="160.3" width="0.8" height="0.8" fill="#fff" opacity="0.8"/>
<rect x="275.3" y="153.5" width="0.8" height="0.8" fill="#fff" opacity="0.8"/>
<rect x="299.8" y="160.8" width="0.8" height="0.8" fill="#fff" opacity="0.8"/>
<rect x="296.8" y="158.1" width="0.8" height="0.8" fill="#fff" opacity="0.8"/>
<rect x="275.1" y="150.6" width="0.8" height="0.8" fill="#fff" opacity="0.8"/>
<rect x="292" y="162.6" width="0.8" height="0.8" fill="#fff" opacity="0.8"/>
<rect x="292.1" y="158.3" width="0.8" height="0.8" fill="#fff" opacity="0.8"/>
<rect x="296.8" y="160.3" width="0.8" height="0.8" fill="#fff" opacity="0.8"/>
<rect x="274.4" y="154.9" width="0.8" height="0.8" fill="#fff" opacity="0.8"/>
<rect x="288.1" y="159.2" width="0.8" height="0.8" fill="#fff" opacity="0.8"/>
<rect x="289.3" y="161.7" width="0.8" height="0.8" fill="#fff" opacity="0.8"/>
<rect x="282.4" y="157.9" width="0.8" height="0.8" fill="#fff" opacity="0.8"/>
<rect x="290.4" y="161.3" width="0.8" height="0.8" fill="#fff" opacity="0.8"/>
<rect x="281.3" y="156.6" width="0.8" height="0.8" fill="#fff" opacity="0.8"/>
<rect x="286" y="155.6" width="0.8" height="0.8" fill="#fff" opacity="0.8"/>
<rect x="273.4" y="152.6" width="0.8" height="0.8" fill="#fff" opacity="0.8"/>
<rect x="268.7" y="152.6" width="0.8" height="0.8" fill="#fff" opacity="0.8"/>
<rect x="271.1" y="147.4" width="0.8" height="0.8" fill="#fff" opacity="0.8"/>
<rect x="269.7" y="153.2" width="0.8" height="0.8" fill="#fff" opacity="0.8"/>
<rect x="278.1" y="151.1" width="0.8" height="0.8" fill="#fff" opacity="0.8"/>
<rect x="267" y="145.8" width="0.8" height="0.8" fill="#fff" opacity="0.8"/>
<rect x="290.2" y="159.7" width="0.8" height="0.8" fill="#fff" opacity="0.8"/>
<rect x="290.4" y="160.5" width="0.8" height="0.8" fill="#fff" opacity="0.8"/>
<rect x="268.3" y="150.2" width="0.8" height="0.8" fill="#fff" opacity="0.8"/>
<rect x="278.7" y="156.1" width="0.8" height="0.8" fill="#fff" opacity="0.8"/>
<rect x="294.7" y="163.4" width="0.8" height="0.8" fill="#fff" opacity="0.8"/>
<rect x="268.3" y="152.1" width="0.8" height="0.8" fill="#fff" opacity="0.8"/>
<rect x="298" y="165.1" width="0.8" height="0.8" fill="#fff" opacity="0.8"/>
<rect x="269.7" y="148.1" width="0.8" height="0.8" fill="#fff" opacity="0.8"/>
<rect x="269.9" y="147" width="0.8" height="0.8" fill="#fff" opacity="0.8"/>
<rect x="295.7" y="163.2" width="0.8" height="0.8" fill="#fff" opacity="0.8"/>
<rect x="288.2" y="160.2" width="0.8" height="0.8" fill="#fff" opacity="0.8"/>
<rect x="288.1" y="156.4" width="0.8" height="0.8" fill="#fff" opacity="0.8"/>
<rect x="269.5" y="147.2" width="0.8" height="0.8" fill="#fff" opacity="0.8"/>
<rect x="292.5" y="157.6" width="0.8" height="0.8" fill="#fff" opacity="0.8"/>
<rect x="277.2" y="152.7" width="0.8" height="0.8" fill="#fff" opacity="0.8"/>
<rect x="266.7" y="147.2" width="0.8" height="0.8" fill="#fff" opacity="0.8"/>
<rect x="275.9" y="154.2" width="0.8" height="0.8" fill="#fff" opacity="0.8"/>
<rect x="278.9" y="152.7" width="0.8" height="0.8" fill="#fff" opacity="0.8"/>
<rect x="299.7" y="162.8" width="0.8" height="0.8" fill="#fff" opacity="0.8"/>
<rect x="295.8" y="161.9" width="0.8" height="0.8" fill="#fff" opacity="0.8"/>
<rect x="267.1" y="148.4" width="0.8" height="0.8" fill="#fff" opacity="0.8"/>
<rect x="281.3" y="156.9" width="0.8" height="0.8" fill="#fff" opacity="0.8"/>
<rect x="278.1" y="155.1" width="0.8" height="0.8" fill="#fff" opacity="0.8"/>
<rect x="284.8" y="154.5" width="0.8" height="0.8" fill="#fff" opacity="0.8"/>
<rect x="296.2" y="158.4" width="0.8" height="0.8" fill="#fff" opacity="0.8"/>
<rect x="294.7" y="158.3" width="0.8" height="0.8" fill="#fff" opacity="0.8"/>
<rect x="266" y="146.5" width="0.8" height="0.8" fill="#fff" opacity="0.8"/>
<rect x="292.7" y="163.1" width="0.8" height="0.8" fill="#fff" opacity="0.8"/>
<rect x="266.2" y="148.6" width="0.8" height="0.8" fill="#fff" opacity="0.8"/>
</g>
<ellipse cx="173" cy="195" rx="34.4" ry="4.6" fill="none" stroke="#f03048" stroke-width="1" stroke-dasharray="1.8 1.1"/>
<rect x="77" y="149" width="48.6" height="49.6" fill="#8a8a8a" filter="url(#sh)" opacity="0.85"/>
<rect x="77.9" y="146.7" width="48.6" height="49.8" fill="#fdfdfd"/>
<svg x="77.9" y="146.7" width="48.6" height="49.8" viewBox="0 0 48.6 49.8" overflow="hidden"><g filter="url(#b05)">
<line x1="10.9" y1="4.9" x2="15.8" y2="18.8" stroke="#3aa6aa" stroke-width="2.6" stroke-linecap="round"/>
<line x1="15.8" y1="18.8" x2="4.9" y2="17" stroke="#c8c8c8" stroke-width="2.6" stroke-linecap="round"/>
<line x1="15.8" y1="18.8" x2="23.7" y2="29.8" stroke="#3aa6aa" stroke-width="2.6" stroke-linecap="round"/>
<line x1="23.7" y1="29.8" x2="19.4" y2="41.3" stroke="#c8c8c8" stroke-width="2.6" stroke-linecap="round"/>
<line x1="23.7" y1="29.8" x2="35.8" y2="26.7" stroke="#1828d8" stroke-width="2.6" stroke-linecap="round"/>
<line x1="35.8" y1="26.7" x2="37" y2="15.2" stroke="#1828d8" stroke-width="2.6" stroke-linecap="round"/>
<line x1="37" y1="15.2" x2="25.5" y2="9.1" stroke="#1828d8" stroke-width="2.6" stroke-linecap="round"/>
<line x1="25.5" y1="9.1" x2="15.8" y2="18.8" stroke="#3aa6aa" stroke-width="2.6" stroke-linecap="round"/>
<line x1="37" y1="15.2" x2="45.6" y2="5.5" stroke="#3aa6aa" stroke-width="2.6" stroke-linecap="round"/>
<line x1="35.8" y1="26.7" x2="45" y2="36.5" stroke="#1828d8" stroke-width="2.6" stroke-linecap="round"/>
<line x1="32.2" y1="35.2" x2="34" y2="40.7" stroke="#1828d8" stroke-width="2.6" stroke-linecap="round"/>
<line x1="34" y1="40.7" x2="41.3" y2="45.6" stroke="#c8c8c8" stroke-width="2.6" stroke-linecap="round"/>
<line x1="23.7" y1="29.8" x2="32.2" y2="35.2" stroke="#3aa6aa" stroke-width="2.6" stroke-linecap="round"/>
<line x1="25.5" y1="9.1" x2="24" y2="1" stroke="#1828d8" stroke-width="2.6" stroke-linecap="round"/>
<line x1="45" y1="36.5" x2="47" y2="44" stroke="#3aa6aa" stroke-width="2.6" stroke-linecap="round"/>
<ellipse cx="18.8" cy="9.1" rx="4.2" ry="4.6" fill="#2fb838"/>
<ellipse cx="38.9" cy="8.5" rx="6.2" ry="5.4" fill="#38d048"/>
<ellipse cx="37" cy="1.8" rx="3" ry="2" fill="#a86a18"/>
<ellipse cx="47" cy="12.8" rx="1.6" ry="3.4" fill="#b87818"/>
<ellipse cx="26.7" cy="20.7" rx="7.2" ry="8.2" fill="#30c83c"/>
<ellipse cx="26.2" cy="19.5" rx="4" ry="4.6" fill="#58e050"/>
<ellipse cx="27.4" cy="20.6" rx="1.7" ry="1.4" fill="#c0401c"/>
<ellipse cx="32.2" cy="32.2" rx="3.2" ry="2.6" fill="#40cc48"/>
<ellipse cx="12" cy="1" rx="2.4" ry="1.2" fill="#48c048"/>
<circle cx="10.9" cy="4.9" r="3.1" fill="url(#sT)"/>
<circle cx="15.8" cy="18.8" r="4" fill="url(#sT)"/>
<circle cx="23.7" cy="31" r="4.4" fill="url(#sT)"/>
<circle cx="37" cy="15.6" r="3.9" fill="url(#sT)"/>
<circle cx="45.6" cy="5.5" r="4" fill="url(#sT)"/>
<circle cx="32.6" cy="36.2" r="3.3" fill="url(#sT)"/>
<circle cx="45" cy="36.5" r="3.8" fill="url(#sT)"/>
<circle cx="25.5" cy="9.1" r="3.8" fill="url(#sB)"/>
<circle cx="35.8" cy="26.7" r="4" fill="url(#sB)"/>
<circle cx="34" cy="41" r="2.9" fill="url(#sB)"/>
<circle cx="4.9" cy="17" r="2.5" fill="url(#sW)"/>
<circle cx="19.4" cy="41.3" r="2.9" fill="url(#sW)"/>
<circle cx="41.3" cy="45.6" r="2.6" fill="url(#sW)"/>
</g></svg>
<rect x="217.4" y="150.5" width="48.6" height="46.6" fill="#8a8a8a" filter="url(#sh)" opacity="0.85"/>
<rect x="217.9" y="148.5" width="48.6" height="46.2" fill="#fdfdfd"/>
<svg x="217.9" y="148.5" width="48.6" height="46.2" viewBox="0 0 48.6 46.2" overflow="hidden"><g filter="url(#b05)">
<line x1="32.2" y1="6.7" x2="27" y2="3.4" stroke="#2f8f96" stroke-width="2.4" stroke-linecap="round"/>
<line x1="27" y1="3.4" x2="21.3" y2="3" stroke="#2f8f96" stroke-width="2.4" stroke-linecap="round"/>
<line x1="21.3" y1="3" x2="17" y2="4.6" stroke="#2f8f96" stroke-width="2.4" stroke-linecap="round"/>
<line x1="17" y1="4.6" x2="14" y2="6.2" stroke="#2f8f96" stroke-width="2.4" stroke-linecap="round"/>
<line x1="14" y1="6.2" x2="10.6" y2="9" stroke="#2f8f96" stroke-width="2.4" stroke-linecap="round"/>
<line x1="10.6" y1="9" x2="7.9" y2="12.2" stroke="#2f8f96" stroke-width="2.4" stroke-linecap="round"/>
<line x1="7.9" y1="12.2" x2="6.4" y2="16" stroke="#2f8f96" stroke-width="2.4" stroke-linecap="round"/>
<line x1="6.4" y1="16" x2="5.5" y2="19.6" stroke="#2f8f96" stroke-width="2.4" stroke-linecap="round"/>
<line x1="5.5" y1="19.6" x2="6.2" y2="23.5" stroke="#2f8f96" stroke-width="2.4" stroke-linecap="round"/>
<line x1="32.2" y1="6.7" x2="36" y2="1.5" stroke="#2f8f96" stroke-width="2.2" stroke-linecap="round"/>
<line x1="20.7" y1="15.8" x2="14" y2="13" stroke="#2f8f96" stroke-width="2.2" stroke-linecap="round"/>
<line x1="20.7" y1="15.8" x2="26" y2="24" stroke="#2f8f96" stroke-width="2.2" stroke-linecap="round"/>
<line x1="26.7" y1="31" x2="26" y2="24" stroke="#d08890" stroke-width="2.4" stroke-linecap="round"/>
<line x1="26.7" y1="31" x2="41.9" y2="34" stroke="#3aa6aa" stroke-width="2.8" stroke-linecap="round"/>
<line x1="26.7" y1="31" x2="14.6" y2="39.5" stroke="#3aa6aa" stroke-width="2.8" stroke-linecap="round"/>
<line x1="14.6" y1="39.5" x2="6.7" y2="35.8" stroke="#3aa6aa" stroke-width="2.4" stroke-linecap="round"/>
<ellipse cx="10.3" cy="27" rx="9.5" ry="9.5" fill="#1e9a30"/>
<ellipse cx="6" cy="30" rx="4.5" ry="6" fill="#168028"/>
<polygon points="6,22 16,25 12,34 8,30" fill="#c07418"/>
<ellipse cx="16.5" cy="30" rx="3.6" ry="5.5" fill="#8cc828" transform="rotate(20 16.5 30)"/>
<ellipse cx="5.4" cy="27.6" rx="1.6" ry="1.2" fill="#e8f0a0"/>
<ellipse cx="28.5" cy="10.3" rx="3.4" ry="1.8" fill="#38c040" transform="rotate(-35 28.5 10.3)"/>
<ellipse cx="26.1" cy="17.6" rx="3.2" ry="1.8" fill="#30b838" transform="rotate(30 26.1 17.6)"/>
<ellipse cx="17" cy="20" rx="3" ry="2" fill="#2a9a38"/>
<circle cx="27" cy="3.4" r="1.7" fill="url(#sT)"/>
<circle cx="21.3" cy="3" r="1.7" fill="url(#sT)"/>
<circle cx="17" cy="4.6" r="1.7" fill="url(#sT)"/>
<circle cx="14" cy="6.2" r="1.7" fill="url(#sT)"/>
<circle cx="10.6" cy="9" r="1.7" fill="url(#sT)"/>
<circle cx="7.9" cy="12.2" r="1.7" fill="url(#sT)"/>
<circle cx="6.4" cy="16" r="1.7" fill="url(#sT)"/>
<circle cx="5.5" cy="19.6" r="1.7" fill="url(#sT)"/>
<circle cx="6.2" cy="23.5" r="1.7" fill="url(#sT)"/>
<circle cx="24.9" cy="6.1" r="2.7" fill="url(#sB)"/>
<circle cx="32.2" cy="6.7" r="3.5" fill="url(#sT)"/>
<circle cx="20.7" cy="15.8" r="4" fill="url(#sT)"/>
<circle cx="26.7" cy="31" r="5.4" fill="url(#sP)"/>
<circle cx="41.9" cy="34" r="4.6" fill="url(#sT)"/>
<circle cx="14.6" cy="39.5" r="4.6" fill="url(#sT)"/>
<circle cx="6.7" cy="35.8" r="3" fill="url(#sT)"/>
<circle cx="3.6" cy="40" r="2" fill="url(#sW)"/>
</g></svg>
<rect x="61.2" y="24.9" width="240.1" height="176.2" fill="none" stroke="#000" stroke-width="1.5"/>
<line x1="61.2" y1="24.9" x2="64.2" y2="24.9" stroke="#000" stroke-width="1.2"/>
<text x="55.4" y="27.9" font-size="9.8" font-weight="bold" text-anchor="end" fill="#000" >2.0</text>
<line x1="61.2" y1="42.5" x2="64.2" y2="42.5" stroke="#000" stroke-width="1.2"/>
<text x="55.4" y="45.5" font-size="9.8" font-weight="bold" text-anchor="end" fill="#000" >1.8</text>
<line x1="61.2" y1="60.1" x2="64.2" y2="60.1" stroke="#000" stroke-width="1.2"/>
<text x="55.4" y="63.1" font-size="9.8" font-weight="bold" text-anchor="end" fill="#000" >1.6</text>
<line x1="61.2" y1="77.8" x2="64.2" y2="77.8" stroke="#000" stroke-width="1.2"/>
<text x="55.4" y="80.8" font-size="9.8" font-weight="bold" text-anchor="end" fill="#000" >1.4</text>
<line x1="61.2" y1="95.4" x2="64.2" y2="95.4" stroke="#000" stroke-width="1.2"/>
<text x="55.4" y="98.4" font-size="9.8" font-weight="bold" text-anchor="end" fill="#000" >1.2</text>
<line x1="61.2" y1="113" x2="64.2" y2="113" stroke="#000" stroke-width="1.2"/>
<text x="55.4" y="116" font-size="9.8" font-weight="bold" text-anchor="end" fill="#000" >1.0</text>
<line x1="61.2" y1="130.6" x2="64.2" y2="130.6" stroke="#000" stroke-width="1.2"/>
<text x="55.4" y="133.6" font-size="9.8" font-weight="bold" text-anchor="end" fill="#000" >0.8</text>
<line x1="61.2" y1="148.2" x2="64.2" y2="148.2" stroke="#000" stroke-width="1.2"/>
<text x="55.4" y="151.2" font-size="9.8" font-weight="bold" text-anchor="end" fill="#000" >0.6</text>
<line x1="61.2" y1="165.9" x2="64.2" y2="165.9" stroke="#000" stroke-width="1.2"/>
<text x="55.4" y="168.9" font-size="9.8" font-weight="bold" text-anchor="end" fill="#000" >0.4</text>
<line x1="61.2" y1="183.5" x2="64.2" y2="183.5" stroke="#000" stroke-width="1.2"/>
<text x="55.4" y="186.5" font-size="9.8" font-weight="bold" text-anchor="end" fill="#000" >0.2</text>
<line x1="61.2" y1="201.1" x2="64.2" y2="201.1" stroke="#000" stroke-width="1.2"/>
<text x="55.4" y="204.1" font-size="9.8" font-weight="bold" text-anchor="end" fill="#000" >0.0</text>
<line x1="85.4" y1="201.1" x2="85.4" y2="198.1" stroke="#000" stroke-width="1.2"/>
<line x1="109.6" y1="201.1" x2="109.6" y2="198.1" stroke="#000" stroke-width="1.2"/>
<line x1="133.8" y1="201.1" x2="133.8" y2="198.1" stroke="#000" stroke-width="1.2"/>
<line x1="158" y1="201.1" x2="158" y2="198.1" stroke="#000" stroke-width="1.2"/>
<line x1="182.2" y1="201.1" x2="182.2" y2="198.1" stroke="#000" stroke-width="1.2"/>
<line x1="206.4" y1="201.1" x2="206.4" y2="198.1" stroke="#000" stroke-width="1.2"/>
<line x1="230.6" y1="201.1" x2="230.6" y2="198.1" stroke="#000" stroke-width="1.2"/>
<line x1="254.8" y1="201.1" x2="254.8" y2="198.1" stroke="#000" stroke-width="1.2"/>
<line x1="279" y1="201.1" x2="279" y2="198.1" stroke="#000" stroke-width="1.2"/>
<text transform="translate(33.5 112.5) rotate(-90)" font-size="11" font-weight="bold" text-anchor="middle">RDG</text>
<rect x="62.4" y="209.2" width="241.2" height="10.1" fill="url(#gBar)"/>
<line x1="63" y1="209.6" x2="71" y2="205.4" stroke="#1a1aff" stroke-width="1.5" stroke-linecap="round"/>
<line x1="303.2" y1="210.2" x2="295.5" y2="206" stroke="#ff1a10" stroke-width="1.5" stroke-linecap="round"/>
<text x="109.8" y="216.8" font-size="8.5" font-weight="bold" font-style="italic" text-anchor="middle" fill="#0a0a58" >decrease</text>
<text x="184.3" y="216.8" font-size="8.5" font-weight="bold" font-style="italic" text-anchor="middle" fill="#0c9c0c" >Sign(λ<tspan font-size="5.5" dy="1.2">2</tspan><tspan dy="-1.2">)ρ</tspan></text>
<text x="258.4" y="216.8" font-size="8.5" font-weight="bold" font-style="italic" text-anchor="middle" fill="#2a1400" >increase</text>
<path d="M62.8 221.7 Q62.8 225.4 66.3 225.4 L107.5 225.4 Q110 225.4 110 229.9 Q110 225.4 112.5 225.4 L153.3 225.4 Q156.8 225.4 156.8 221.7" fill="none" stroke="url(#gBar)" stroke-width="1.25"/>
<path d="M156.8 221.7 Q156.8 225.4 160.3 225.4 L196.5 225.4 Q199 225.4 199 229.9 Q199 225.4 201.5 225.4 L238 225.4 Q241.5 225.4 241.5 221.7" fill="none" stroke="url(#gBar)" stroke-width="1.25"/>
<path d="M241.5 221.7 Q241.5 225.4 245 225.4 L270.1 225.4 Q272.6 225.4 272.6 229.9 Q272.6 225.4 275.1 225.4 L300.1 225.4 Q303.6 225.4 303.6 221.7" fill="none" stroke="url(#gBar)" stroke-width="1.25"/>
<text x="99.3" y="244.3" font-size="11" font-weight="bold" text-anchor="middle" fill="#000" >Hydrogen-bond</text>
<text x="99.3" y="256.7" font-size="11" font-weight="bold" text-anchor="middle" fill="#000" >Halogen-bond</text>
<text x="193.4" y="250.6" font-size="11" font-weight="bold" text-anchor="middle" fill="#000" >Van der Waals</text>
<text x="278.6" y="250.6" font-size="11" font-weight="bold" text-anchor="middle" fill="#000" >Steric effect</text>
<text x="371.5" y="38.3" font-size="20.5" text-anchor="start" fill="#000" >(b)</text>
<clipPath id="sc1">
<circle cx="421" cy="37" r="11"/>
<circle cx="428" cy="33" r="8"/>
<circle cx="433" cy="40" r="10.5"/>
<circle cx="415" cy="45" r="8"/>
<circle cx="424" cy="48" r="10"/>
<circle cx="436" cy="49" r="8"/>
<circle cx="430" cy="62" r="13"/>
<circle cx="442" cy="58" r="12"/>
<circle cx="451" cy="51" r="8"/>
<circle cx="448" cy="68" r="13"/>
<circle cx="416" cy="75" r="8.5"/>
<circle cx="436" cy="78" r="16"/>
<circle cx="455" cy="76" r="10"/>
<circle cx="466" cy="79" r="11"/>
<circle cx="471.5" cy="82" r="6.5"/>
<circle cx="466" cy="87" r="7"/>
<circle cx="424" cy="95" r="11"/>
<circle cx="440" cy="92" r="12"/>
<circle cx="449" cy="98" r="7"/>
<circle cx="422" cy="108" r="12"/>
<circle cx="430" cy="112" r="10"/>
<circle cx="417" cy="100" r="6"/>
</clipPath>
<g filter="url(#b07)">
<g>
<circle cx="421" cy="37" r="11" fill="#c4a4a8"/>
<circle cx="428" cy="33" r="8" fill="#c4a4a8"/>
<circle cx="433" cy="40" r="10.5" fill="#c4a4a8"/>
<circle cx="415" cy="45" r="8" fill="#c4a4a8"/>
<circle cx="424" cy="48" r="10" fill="#c4a4a8"/>
<circle cx="436" cy="49" r="8" fill="#c4a4a8"/>
<circle cx="430" cy="62" r="13" fill="#c4a4a8"/>
<circle cx="442" cy="58" r="12" fill="#c4a4a8"/>
<circle cx="451" cy="51" r="8" fill="#c4a4a8"/>
<circle cx="448" cy="68" r="13" fill="#c4a4a8"/>
<circle cx="416" cy="75" r="8.5" fill="#c4a4a8"/>
<circle cx="436" cy="78" r="16" fill="#c4a4a8"/>
<circle cx="455" cy="76" r="10" fill="#c4a4a8"/>
<circle cx="466" cy="79" r="11" fill="#c4a4a8"/>
<circle cx="471.5" cy="82" r="6.5" fill="#c4a4a8"/>
<circle cx="466" cy="87" r="7" fill="#c4a4a8"/>
<circle cx="424" cy="95" r="11" fill="#c4a4a8"/>
<circle cx="440" cy="92" r="12" fill="#c4a4a8"/>
<circle cx="449" cy="98" r="7" fill="#c4a4a8"/>
<circle cx="422" cy="108" r="12" fill="#c4a4a8"/>
<circle cx="430" cy="112" r="10" fill="#c4a4a8"/>
<circle cx="417" cy="100" r="6" fill="#c4a4a8"/>
</g>
<g clip-path="url(#sc1)">
<circle cx="421" cy="37" r="9.8" fill="#dcb0b6"/>
<circle cx="428" cy="33" r="6.8" fill="#dcb0b6"/>
<circle cx="433" cy="40" r="9.3" fill="#dcb0b6"/>
<circle cx="415" cy="45" r="6.8" fill="#dcb0b6"/>
<circle cx="424" cy="48" r="8.8" fill="#dcb0b6"/>
<circle cx="436" cy="49" r="6.8" fill="#dcb0b6"/>
<circle cx="430" cy="62" r="11.8" fill="#dcb0b6"/>
<circle cx="442" cy="58" r="10.8" fill="#dcb0b6"/>
<circle cx="451" cy="51" r="6.8" fill="#dcb0b6"/>
<circle cx="448" cy="68" r="11.8" fill="#dcb0b6"/>
<circle cx="416" cy="75" r="7.3" fill="#dcb0b6"/>
<circle cx="436" cy="78" r="14.8" fill="#dcb0b6"/>
<circle cx="455" cy="76" r="8.8" fill="#dcb0b6"/>
<circle cx="466" cy="79" r="9.8" fill="#dcb0b6"/>
<circle cx="471.5" cy="82" r="5.3" fill="#dcb0b6"/>
<circle cx="466" cy="87" r="5.8" fill="#dcb0b6"/>
<circle cx="424" cy="95" r="9.8" fill="#dcb0b6"/>
<circle cx="440" cy="92" r="10.8" fill="#dcb0b6"/>
<circle cx="449" cy="98" r="5.8" fill="#dcb0b6"/>
<circle cx="422" cy="108" r="10.8" fill="#dcb0b6"/>
<circle cx="430" cy="112" r="8.8" fill="#dcb0b6"/>
<circle cx="417" cy="100" r="4.8" fill="#dcb0b6"/>
<g filter="url(#b15)">
<ellipse cx="421" cy="38" rx="12" ry="9" fill="#c6acaa" opacity="1"/>
<ellipse cx="433" cy="42" rx="8" ry="8" fill="#eba8aa" opacity="1"/>
<ellipse cx="416" cy="48" rx="7" ry="8" fill="#d2bebc" opacity="1"/>
<ellipse cx="427" cy="29" rx="8" ry="4" fill="#e6b0b0" opacity="1"/>
<ellipse cx="430" cy="50" rx="7" ry="5" fill="#c8a4a8" opacity="1"/>
<ellipse cx="440" cy="58" rx="12" ry="9" fill="#b48cc4" opacity="1"/>
<ellipse cx="451" cy="51" rx="7" ry="6" fill="#9c8cdc" opacity="1"/>
<ellipse cx="429" cy="64" rx="7" ry="8" fill="#e6a0a8" opacity="1"/>
<ellipse cx="448" cy="74" rx="10" ry="14" fill="#9494ee" opacity="1"/>
<ellipse cx="437" cy="78" rx="8" ry="14" fill="#a894e0" opacity="1"/>
<ellipse cx="444" cy="76" rx="5" ry="9" fill="#8484f4" opacity="1"/>
<ellipse cx="466" cy="79" rx="10" ry="9" fill="#f2bcbc" opacity="1"/>
<ellipse cx="472" cy="83" rx="5" ry="6" fill="#f8e2e2" opacity="1"/>
<ellipse cx="458" cy="67" rx="6" ry="6" fill="#e69aa4" opacity="1"/>
<ellipse cx="464" cy="88" rx="6" ry="4" fill="#f0c8c8" opacity="1"/>
<ellipse cx="414" cy="75" rx="7" ry="8" fill="#e6dada" opacity="1"/>
<ellipse cx="425" cy="90" rx="7" ry="9" fill="#ba9ac8" opacity="1"/>
<ellipse cx="441" cy="93" rx="10" ry="7" fill="#9490ea" opacity="1"/>
<ellipse cx="449" cy="92" rx="5" ry="6" fill="#8484ec" opacity="1"/>
<ellipse cx="423" cy="107" rx="11" ry="10" fill="#f29c9c" opacity="1"/>
<ellipse cx="427" cy="115" rx="7" ry="5" fill="#fae4e4" opacity="1"/>
<ellipse cx="416" cy="100" rx="6" ry="6" fill="#e89298" opacity="1"/>
<ellipse cx="436" cy="104" rx="6" ry="6" fill="#e8969c" opacity="1"/>
</g></g></g>
<g filter="url(#b1)" opacity="0.55" fill="none" stroke="#6458c0" stroke-width="1.6">
<path d="M439 54 Q456 62 461 80 Q452 96 438 101"/><path d="M452 45 Q460 52 458 62"/><path d="M421 70 Q420 84 426 96"/>
</g>
<g opacity="0.85">
<line x1="427" y1="52" x2="426.3" y2="55.3" stroke="#5a6a78" stroke-width="0.9" stroke-linecap="round"/>
<line x1="426.3" y1="55.3" x2="425.7" y2="58.7" stroke="#5a6a78" stroke-width="0.9" stroke-linecap="round"/>
<line x1="425.7" y1="58.7" x2="425" y2="62" stroke="#5a6a78" stroke-width="0.9" stroke-linecap="round"/>
<line x1="425" y1="62" x2="425.3" y2="65.3" stroke="#5a6a78" stroke-width="0.9" stroke-linecap="round"/>
<line x1="425.3" y1="65.3" x2="425.7" y2="68.7" stroke="#5a6a78" stroke-width="0.9" stroke-linecap="round"/>
<line x1="425.7" y1="68.7" x2="426" y2="72" stroke="#5a6a78" stroke-width="0.9" stroke-linecap="round"/>
<line x1="426" y1="72" x2="426.3" y2="75.7" stroke="#5a6a78" stroke-width="0.9" stroke-linecap="round"/>
<line x1="426.3" y1="75.7" x2="426.7" y2="79.3" stroke="#5a6a78" stroke-width="0.9" stroke-linecap="round"/>
<line x1="426.7" y1="79.3" x2="427" y2="83" stroke="#5a6a78" stroke-width="0.9" stroke-linecap="round"/>
<line x1="427" y1="83" x2="427.3" y2="86.3" stroke="#5a6a78" stroke-width="0.9" stroke-linecap="round"/>
<line x1="427.3" y1="86.3" x2="427.7" y2="89.7" stroke="#5a6a78" stroke-width="0.9" stroke-linecap="round"/>
<line x1="427.7" y1="89.7" x2="428" y2="93" stroke="#5a6a78" stroke-width="0.9" stroke-linecap="round"/>
<line x1="428" y1="93" x2="429.5" y2="96.5" stroke="#5a6a78" stroke-width="0.9" stroke-linecap="round"/>
<line x1="429.5" y1="96.5" x2="431" y2="100" stroke="#5a6a78" stroke-width="0.9" stroke-linecap="round"/>
<circle cx="427" cy="52" r="1.15" fill="#2a1aa0"/>
<circle cx="426.3" cy="55.3" r="1.15" fill="#3f9f8f"/>
<circle cx="425.7" cy="58.7" r="1.15" fill="#3f9f8f"/>
<circle cx="425" cy="62" r="1.15" fill="#2a1aa0"/>
<circle cx="425.3" cy="65.3" r="1.15" fill="#3f9f8f"/>
<circle cx="425.7" cy="68.7" r="1.15" fill="#3f9f8f"/>
<circle cx="426" cy="72" r="1.15" fill="#2a1aa0"/>
<circle cx="426.3" cy="75.7" r="1.15" fill="#3f9f8f"/>
<circle cx="426.7" cy="79.3" r="1.15" fill="#3f9f8f"/>
<circle cx="427" cy="83" r="1.15" fill="#2a1aa0"/>
<circle cx="427.3" cy="86.3" r="1.15" fill="#3f9f8f"/>
<circle cx="427.7" cy="89.7" r="1.15" fill="#3f9f8f"/>
<circle cx="428" cy="93" r="1.15" fill="#2a1aa0"/>
<circle cx="429.5" cy="96.5" r="1.15" fill="#3f9f8f"/>
<circle cx="431" cy="100" r="1.15" fill="#3f9f8f"/>
<line x1="432" y1="53" x2="431.7" y2="56.7" stroke="#5a6a78" stroke-width="0.9" stroke-linecap="round"/>
<line x1="431.7" y1="56.7" x2="431.3" y2="60.3" stroke="#5a6a78" stroke-width="0.9" stroke-linecap="round"/>
<line x1="431.3" y1="60.3" x2="431" y2="64" stroke="#5a6a78" stroke-width="0.9" stroke-linecap="round"/>
<line x1="431" y1="64" x2="431.7" y2="67.7" stroke="#5a6a78" stroke-width="0.9" stroke-linecap="round"/>
<line x1="431.7" y1="67.7" x2="432.3" y2="71.3" stroke="#5a6a78" stroke-width="0.9" stroke-linecap="round"/>
<line x1="432.3" y1="71.3" x2="433" y2="75" stroke="#5a6a78" stroke-width="0.9" stroke-linecap="round"/>
<line x1="433" y1="75" x2="433.3" y2="78.7" stroke="#5a6a78" stroke-width="0.9" stroke-linecap="round"/>
<line x1="433.3" y1="78.7" x2="433.7" y2="82.3" stroke="#5a6a78" stroke-width="0.9" stroke-linecap="round"/>
<line x1="433.7" y1="82.3" x2="434" y2="86" stroke="#5a6a78" stroke-width="0.9" stroke-linecap="round"/>
<line x1="434" y1="86" x2="434.7" y2="89.3" stroke="#5a6a78" stroke-width="0.9" stroke-linecap="round"/>
<line x1="434.7" y1="89.3" x2="435.3" y2="92.7" stroke="#5a6a78" stroke-width="0.9" stroke-linecap="round"/>
<line x1="435.3" y1="92.7" x2="436" y2="96" stroke="#5a6a78" stroke-width="0.9" stroke-linecap="round"/>
<circle cx="432" cy="53" r="1.15" fill="#2a1aa0"/>
<circle cx="431.7" cy="56.7" r="1.15" fill="#3f9f8f"/>
<circle cx="431.3" cy="60.3" r="1.15" fill="#3f9f8f"/>
<circle cx="431" cy="64" r="1.15" fill="#2a1aa0"/>
<circle cx="431.7" cy="67.7" r="1.15" fill="#3f9f8f"/>
<circle cx="432.3" cy="71.3" r="1.15" fill="#3f9f8f"/>
<circle cx="433" cy="75" r="1.15" fill="#2a1aa0"/>
<circle cx="433.3" cy="78.7" r="1.15" fill="#3f9f8f"/>
<circle cx="433.7" cy="82.3" r="1.15" fill="#3f9f8f"/>
<circle cx="434" cy="86" r="1.15" fill="#2a1aa0"/>
<circle cx="434.7" cy="89.3" r="1.15" fill="#3f9f8f"/>
<circle cx="435.3" cy="92.7" r="1.15" fill="#3f9f8f"/>
<circle cx="436" cy="96" r="1.15" fill="#2a1aa0"/>
<line x1="429" y1="50" x2="432" y2="51.3" stroke="#5a6a78" stroke-width="0.9" stroke-linecap="round"/>
<line x1="432" y1="51.3" x2="435" y2="52.7" stroke="#5a6a78" stroke-width="0.9" stroke-linecap="round"/>
<line x1="435" y1="52.7" x2="438" y2="54" stroke="#5a6a78" stroke-width="0.9" stroke-linecap="round"/>
<line x1="438" y1="54" x2="440.7" y2="56" stroke="#5a6a78" stroke-width="0.9" stroke-linecap="round"/>
<line x1="440.7" y1="56" x2="443.3" y2="58" stroke="#5a6a78" stroke-width="0.9" stroke-linecap="round"/>
<line x1="443.3" y1="58" x2="446" y2="60" stroke="#5a6a78" stroke-width="0.9" stroke-linecap="round"/>
<line x1="446" y1="60" x2="448" y2="62.7" stroke="#5a6a78" stroke-width="0.9" stroke-linecap="round"/>
<line x1="448" y1="62.7" x2="450" y2="65.3" stroke="#5a6a78" stroke-width="0.9" stroke-linecap="round"/>
<line x1="450" y1="65.3" x2="452" y2="68" stroke="#5a6a78" stroke-width="0.9" stroke-linecap="round"/>
<line x1="452" y1="68" x2="453.7" y2="70.7" stroke="#5a6a78" stroke-width="0.9" stroke-linecap="round"/>
<line x1="453.7" y1="70.7" x2="455.3" y2="73.3" stroke="#5a6a78" stroke-width="0.9" stroke-linecap="round"/>
<line x1="455.3" y1="73.3" x2="457" y2="76" stroke="#5a6a78" stroke-width="0.9" stroke-linecap="round"/>
<line x1="457" y1="76" x2="457.5" y2="79" stroke="#5a6a78" stroke-width="0.9" stroke-linecap="round"/>
<line x1="457.5" y1="79" x2="458" y2="82" stroke="#5a6a78" stroke-width="0.9" stroke-linecap="round"/>
<circle cx="429" cy="50" r="1.15" fill="#2a1aa0"/>
<circle cx="432" cy="51.3" r="1.15" fill="#3f9f8f"/>
<circle cx="435" cy="52.7" r="1.15" fill="#3f9f8f"/>
<circle cx="438" cy="54" r="1.15" fill="#2a1aa0"/>
<circle cx="440.7" cy="56" r="1.15" fill="#3f9f8f"/>
<circle cx="443.3" cy="58" r="1.15" fill="#3f9f8f"/>
<circle cx="446" cy="60" r="1.15" fill="#2a1aa0"/>
<circle cx="448" cy="62.7" r="1.15" fill="#3f9f8f"/>
<circle cx="450" cy="65.3" r="1.15" fill="#3f9f8f"/>
<circle cx="452" cy="68" r="1.15" fill="#2a1aa0"/>
<circle cx="453.7" cy="70.7" r="1.15" fill="#3f9f8f"/>
<circle cx="455.3" cy="73.3" r="1.15" fill="#3f9f8f"/>
<circle cx="457" cy="76" r="1.15" fill="#2a1aa0"/>
<circle cx="457.5" cy="79" r="1.15" fill="#3f9f8f"/>
<circle cx="458" cy="82" r="1.15" fill="#3f9f8f"/>
<line x1="436" y1="50" x2="438.7" y2="51.7" stroke="#5a6a78" stroke-width="0.9" stroke-linecap="round"/>
<line x1="438.7" y1="51.7" x2="441.3" y2="53.3" stroke="#5a6a78" stroke-width="0.9" stroke-linecap="round"/>
<line x1="441.3" y1="53.3" x2="444" y2="55" stroke="#5a6a78" stroke-width="0.9" stroke-linecap="round"/>
<line x1="444" y1="55" x2="446.3" y2="57.7" stroke="#5a6a78" stroke-width="0.9" stroke-linecap="round"/>
<line x1="446.3" y1="57.7" x2="448.7" y2="60.3" stroke="#5a6a78" stroke-width="0.9" stroke-linecap="round"/>
<line x1="448.7" y1="60.3" x2="451" y2="63" stroke="#5a6a78" stroke-width="0.9" stroke-linecap="round"/>
<line x1="451" y1="63" x2="452.7" y2="65.7" stroke="#5a6a78" stroke-width="0.9" stroke-linecap="round"/>
<line x1="452.7" y1="65.7" x2="454.3" y2="68.3" stroke="#5a6a78" stroke-width="0.9" stroke-linecap="round"/>
<line x1="454.3" y1="68.3" x2="456" y2="71" stroke="#5a6a78" stroke-width="0.9" stroke-linecap="round"/>
<circle cx="436" cy="50" r="1.15" fill="#2a1aa0"/>
<circle cx="438.7" cy="51.7" r="1.15" fill="#3f9f8f"/>
<circle cx="441.3" cy="53.3" r="1.15" fill="#3f9f8f"/>
<circle cx="444" cy="55" r="1.15" fill="#2a1aa0"/>
<circle cx="446.3" cy="57.7" r="1.15" fill="#3f9f8f"/>
<circle cx="448.7" cy="60.3" r="1.15" fill="#3f9f8f"/>
<circle cx="451" cy="63" r="1.15" fill="#2a1aa0"/>
<circle cx="452.7" cy="65.7" r="1.15" fill="#3f9f8f"/>
<circle cx="454.3" cy="68.3" r="1.15" fill="#3f9f8f"/>
<circle cx="456" cy="71" r="1.15" fill="#2a1aa0"/>
<line x1="431" y1="100" x2="433.7" y2="99" stroke="#5a6a78" stroke-width="0.9" stroke-linecap="round"/>
<line x1="433.7" y1="99" x2="436.3" y2="98" stroke="#5a6a78" stroke-width="0.9" stroke-linecap="round"/>
<line x1="436.3" y1="98" x2="439" y2="97" stroke="#5a6a78" stroke-width="0.9" stroke-linecap="round"/>
<line x1="439" y1="97" x2="441.7" y2="95" stroke="#5a6a78" stroke-width="0.9" stroke-linecap="round"/>
<line x1="441.7" y1="95" x2="444.3" y2="93" stroke="#5a6a78" stroke-width="0.9" stroke-linecap="round"/>
<line x1="444.3" y1="93" x2="447" y2="91" stroke="#5a6a78" stroke-width="0.9" stroke-linecap="round"/>
<line x1="447" y1="91" x2="449.3" y2="89" stroke="#5a6a78" stroke-width="0.9" stroke-linecap="round"/>
<line x1="449.3" y1="89" x2="451.7" y2="87" stroke="#5a6a78" stroke-width="0.9" stroke-linecap="round"/>
<line x1="451.7" y1="87" x2="454" y2="85" stroke="#5a6a78" stroke-width="0.9" stroke-linecap="round"/>
<line x1="454" y1="85" x2="458" y2="82" stroke="#5a6a78" stroke-width="0.9" stroke-linecap="round"/>
<circle cx="431" cy="100" r="1.15" fill="#2a1aa0"/>
<circle cx="433.7" cy="99" r="1.15" fill="#3f9f8f"/>
<circle cx="436.3" cy="98" r="1.15" fill="#3f9f8f"/>
<circle cx="439" cy="97" r="1.15" fill="#2a1aa0"/>
<circle cx="441.7" cy="95" r="1.15" fill="#3f9f8f"/>
<circle cx="444.3" cy="93" r="1.15" fill="#3f9f8f"/>
<circle cx="447" cy="91" r="1.15" fill="#2a1aa0"/>
<circle cx="449.3" cy="89" r="1.15" fill="#3f9f8f"/>
<circle cx="451.7" cy="87" r="1.15" fill="#3f9f8f"/>
<circle cx="454" cy="85" r="1.15" fill="#2a1aa0"/>
<circle cx="458" cy="82" r="1.15" fill="#3f9f8f"/>
<line x1="433" y1="95" x2="435.7" y2="93.7" stroke="#5a6a78" stroke-width="0.9" stroke-linecap="round"/>
<line x1="435.7" y1="93.7" x2="438.3" y2="92.3" stroke="#5a6a78" stroke-width="0.9" stroke-linecap="round"/>
<line x1="438.3" y1="92.3" x2="441" y2="91" stroke="#5a6a78" stroke-width="0.9" stroke-linecap="round"/>
<line x1="441" y1="91" x2="443.3" y2="89.3" stroke="#5a6a78" stroke-width="0.9" stroke-linecap="round"/>
<line x1="443.3" y1="89.3" x2="445.7" y2="87.7" stroke="#5a6a78" stroke-width="0.9" stroke-linecap="round"/>
<line x1="445.7" y1="87.7" x2="448" y2="86" stroke="#5a6a78" stroke-width="0.9" stroke-linecap="round"/>
<circle cx="433" cy="95" r="1.15" fill="#2a1aa0"/>
<circle cx="435.7" cy="93.7" r="1.15" fill="#3f9f8f"/>
<circle cx="438.3" cy="92.3" r="1.15" fill="#3f9f8f"/>
<circle cx="441" cy="91" r="1.15" fill="#2a1aa0"/>
<circle cx="443.3" cy="89.3" r="1.15" fill="#3f9f8f"/>
<circle cx="445.7" cy="87.7" r="1.15" fill="#3f9f8f"/>
<circle cx="448" cy="86" r="1.15" fill="#2a1aa0"/>
</g>
<clipPath id="sc2">
<circle cx="550.6" cy="43" r="11"/>
<circle cx="562.4" cy="37.5" r="11"/>
<circle cx="574" cy="40" r="10"/>
<circle cx="581" cy="47" r="7.5"/>
<circle cx="541.2" cy="59.4" r="10"/>
<circle cx="533" cy="70" r="12"/>
<circle cx="524.7" cy="72.4" r="7"/>
<circle cx="538.8" cy="80.6" r="8"/>
<circle cx="547" cy="77" r="7.5"/>
<circle cx="558.8" cy="55" r="12"/>
<circle cx="570.6" cy="53" r="9"/>
</clipPath>
<g filter="url(#b07)">
<g>
<circle cx="550.6" cy="43" r="11" fill="#c48c8c"/>
<circle cx="562.4" cy="37.5" r="11" fill="#c48c8c"/>
<circle cx="574" cy="40" r="10" fill="#c48c8c"/>
<circle cx="581" cy="47" r="7.5" fill="#c48c8c"/>
<circle cx="541.2" cy="59.4" r="10" fill="#c48c8c"/>
<circle cx="533" cy="70" r="12" fill="#c48c8c"/>
<circle cx="524.7" cy="72.4" r="7" fill="#c48c8c"/>
<circle cx="538.8" cy="80.6" r="8" fill="#c48c8c"/>
<circle cx="547" cy="77" r="7.5" fill="#c48c8c"/>
<circle cx="558.8" cy="55" r="12" fill="#c48c8c"/>
<circle cx="570.6" cy="53" r="9" fill="#c48c8c"/>
</g>
<g clip-path="url(#sc2)">
<circle cx="550.6" cy="43" r="9.8" fill="#e09898"/>
<circle cx="562.4" cy="37.5" r="9.8" fill="#e09898"/>
<circle cx="574" cy="40" r="8.8" fill="#e09898"/>
<circle cx="581" cy="47" r="6.3" fill="#e09898"/>
<circle cx="541.2" cy="59.4" r="8.8" fill="#e09898"/>
<circle cx="533" cy="70" r="10.8" fill="#e09898"/>
<circle cx="524.7" cy="72.4" r="5.8" fill="#e09898"/>
<circle cx="538.8" cy="80.6" r="6.8" fill="#e09898"/>
<circle cx="547" cy="77" r="6.3" fill="#e09898"/>
<circle cx="558.8" cy="55" r="10.8" fill="#e09898"/>
<circle cx="570.6" cy="53" r="7.8" fill="#e09898"/>
<g filter="url(#b15)">
<ellipse cx="562" cy="42" rx="16" ry="10" fill="#e8a0a0" opacity="1"/>
<ellipse cx="545" cy="62" rx="10" ry="9" fill="#d99a9a" opacity="1"/>
<ellipse cx="533" cy="72" rx="10" ry="9" fill="#e4a8a8" opacity="1"/>
<ellipse cx="556" cy="50" rx="8" ry="7" fill="#d49a9e" opacity="1"/>
<ellipse cx="572" cy="52" rx="8" ry="6" fill="#d8a4aa" opacity="1"/>
<ellipse cx="540" cy="80" rx="7" ry="5" fill="#e8b4b4" opacity="1"/>
<ellipse cx="565" cy="33" rx="8" ry="4" fill="#eab8b8" opacity="1"/>
</g></g></g>
<clipPath id="sc3">
<circle cx="575.3" cy="73.5" r="15.5"/>
<circle cx="582.4" cy="80" r="10"/>
<circle cx="568" cy="66.5" r="10"/>
<circle cx="579" cy="65.5" r="10"/>
<circle cx="570.6" cy="83" r="8.5"/>
</clipPath>
<g filter="url(#b07)">
<g>
<circle cx="575.3" cy="73.5" r="15.5" fill="#7474b8"/>
<circle cx="582.4" cy="80" r="10" fill="#7474b8"/>
<circle cx="568" cy="66.5" r="10" fill="#7474b8"/>
<circle cx="579" cy="65.5" r="10" fill="#7474b8"/>
<circle cx="570.6" cy="83" r="8.5" fill="#7474b8"/>
</g>
<g clip-path="url(#sc3)">
<circle cx="575.3" cy="73.5" r="14.3" fill="#8686d0"/>
<circle cx="582.4" cy="80" r="8.8" fill="#8686d0"/>
<circle cx="568" cy="66.5" r="8.8" fill="#8686d0"/>
<circle cx="579" cy="65.5" r="8.8" fill="#8686d0"/>
<circle cx="570.6" cy="83" r="7.3" fill="#8686d0"/>
<g filter="url(#b15)">
<ellipse cx="575" cy="73" rx="10" ry="10" fill="#9696e0" opacity="1"/>
<ellipse cx="582" cy="82" rx="7" ry="6" fill="#8484ca" opacity="1"/>
<ellipse cx="569" cy="66" rx="7" ry="6" fill="#9c96d6" opacity="1"/>
<ellipse cx="578" cy="64" rx="6" ry="4" fill="#a4a0dc" opacity="1"/>
</g></g></g>
<g filter="url(#b05)">
<line x1="547" y1="66" x2="554" y2="58" stroke="#4a8a8a" stroke-width="1.4" stroke-linecap="round"/>
<line x1="554" y1="58" x2="557" y2="47" stroke="#4a8a8a" stroke-width="1.4" stroke-linecap="round"/>
<line x1="557" y1="47" x2="564" y2="44" stroke="#4a8a8a" stroke-width="1.4" stroke-linecap="round"/>
<line x1="564" y1="44" x2="567" y2="52" stroke="#4a8a8a" stroke-width="1.4" stroke-linecap="round"/>
<line x1="567" y1="52" x2="562" y2="58" stroke="#4a8a8a" stroke-width="1.4" stroke-linecap="round"/>
<line x1="562" y1="58" x2="554" y2="58" stroke="#4a8a8a" stroke-width="1.4" stroke-linecap="round"/>
<line x1="567" y1="52" x2="575" y2="49" stroke="#4a8a8a" stroke-width="1.4" stroke-linecap="round"/>
<line x1="547" y1="66" x2="540" y2="68" stroke="#4a8a8a" stroke-width="1.4" stroke-linecap="round"/>
<line x1="540" y1="68" x2="533" y2="74" stroke="#4a8a8a" stroke-width="1.4" stroke-linecap="round"/>
<line x1="533" y1="74" x2="529" y2="78" stroke="#4a8a8a" stroke-width="1.4" stroke-linecap="round"/>
<circle cx="547" cy="66" r="2.0" fill="#3f9a9a"/>
<circle cx="554" cy="58" r="2.1" fill="#2020c0"/>
<circle cx="557" cy="47" r="2.0" fill="#3f9a9a"/>
<circle cx="564" cy="44" r="2.0" fill="#3f9a9a"/>
<circle cx="567" cy="52" r="2.1" fill="#2020c0"/>
<circle cx="562" cy="58" r="2.0" fill="#3f9a9a"/>
<circle cx="575" cy="49" r="2.0" fill="#3f9a9a"/>
<circle cx="540" cy="68" r="2.0" fill="#3f9a9a"/>
<circle cx="533" cy="74" r="2.0" fill="#3f9a9a"/>
<circle cx="529" cy="78" r="1.7" fill="#3f9a9a"/>
<circle cx="550" cy="43" r="1.1" fill="#f4f4f4"/>
<circle cx="562" cy="38" r="1.1" fill="#f4f4f4"/>
<circle cx="579" cy="45" r="1.1" fill="#f4f4f4"/>
<circle cx="544" cy="60" r="1.1" fill="#f4f4f4"/>
<circle cx="537" cy="62" r="1.1" fill="#f4f4f4"/>
<circle cx="530" cy="70" r="1.1" fill="#f4f4f4"/>
<circle cx="526" cy="80" r="1.1" fill="#f4f4f4"/>
<circle cx="534" cy="80" r="1.1" fill="#f4f4f4"/>
<line x1="575" y1="74" x2="568" y2="70" stroke="#3a7c90" stroke-width="1.2" stroke-linecap="round"/>
<circle cx="568" cy="70" r="1.9" fill="#3f9aa8"/>
<line x1="575" y1="74" x2="581" y2="68" stroke="#3a7c90" stroke-width="1.2" stroke-linecap="round"/>
<circle cx="581" cy="68" r="1.9" fill="#3f9aa8"/>
<line x1="575" y1="74" x2="578" y2="82" stroke="#3a7c90" stroke-width="1.2" stroke-linecap="round"/>
<circle cx="578" cy="82" r="1.9" fill="#3f9aa8"/>
<line x1="575" y1="74" x2="570" y2="79" stroke="#3a7c90" stroke-width="1.2" stroke-linecap="round"/>
<circle cx="570" cy="79" r="1.9" fill="#3f9aa8"/>
<circle cx="575" cy="74" r="2" fill="#c88098"/>
</g>
<clipPath id="sc4">
<circle cx="423" cy="146" r="9"/>
<circle cx="430" cy="137" r="9.5"/>
<circle cx="438" cy="140" r="9"/>
<circle cx="444" cy="150" r="8"/>
<circle cx="433" cy="150" r="10"/>
<circle cx="419" cy="153" r="6"/>
<circle cx="432" cy="165" r="12"/>
<circle cx="444" cy="168" r="13"/>
<circle cx="416.5" cy="180" r="8"/>
<circle cx="425" cy="178" r="9"/>
<circle cx="437" cy="183" r="15"/>
<circle cx="450" cy="180" r="12"/>
<circle cx="462" cy="176" r="12"/>
<circle cx="472" cy="179" r="10"/>
<circle cx="477" cy="183" r="6.5"/>
<circle cx="465" cy="190" r="9"/>
<circle cx="458" cy="197" r="9"/>
<circle cx="466" cy="201" r="6"/>
<circle cx="442" cy="198" r="12"/>
<circle cx="428" cy="203" r="10"/>
<circle cx="424" cy="214" r="11"/>
<circle cx="433" cy="218" r="9"/>
<circle cx="428" cy="223" r="7"/>
<circle cx="418" cy="208" r="6"/>
</clipPath>
<g filter="url(#b07)">
<g>
<circle cx="423" cy="146" r="9" fill="#c4a4a8"/>
<circle cx="430" cy="137" r="9.5" fill="#c4a4a8"/>
<circle cx="438" cy="140" r="9" fill="#c4a4a8"/>
<circle cx="444" cy="150" r="8" fill="#c4a4a8"/>
<circle cx="433" cy="150" r="10" fill="#c4a4a8"/>
<circle cx="419" cy="153" r="6" fill="#c4a4a8"/>
<circle cx="432" cy="165" r="12" fill="#c4a4a8"/>
<circle cx="444" cy="168" r="13" fill="#c4a4a8"/>
<circle cx="416.5" cy="180" r="8" fill="#c4a4a8"/>
<circle cx="425" cy="178" r="9" fill="#c4a4a8"/>
<circle cx="437" cy="183" r="15" fill="#c4a4a8"/>
<circle cx="450" cy="180" r="12" fill="#c4a4a8"/>
<circle cx="462" cy="176" r="12" fill="#c4a4a8"/>
<circle cx="472" cy="179" r="10" fill="#c4a4a8"/>
<circle cx="477" cy="183" r="6.5" fill="#c4a4a8"/>
<circle cx="465" cy="190" r="9" fill="#c4a4a8"/>
<circle cx="458" cy="197" r="9" fill="#c4a4a8"/>
<circle cx="466" cy="201" r="6" fill="#c4a4a8"/>
<circle cx="442" cy="198" r="12" fill="#c4a4a8"/>
<circle cx="428" cy="203" r="10" fill="#c4a4a8"/>
<circle cx="424" cy="214" r="11" fill="#c4a4a8"/>
<circle cx="433" cy="218" r="9" fill="#c4a4a8"/>
<circle cx="428" cy="223" r="7" fill="#c4a4a8"/>
<circle cx="418" cy="208" r="6" fill="#c4a4a8"/>
</g>
<g clip-path="url(#sc4)">
<circle cx="423" cy="146" r="7.8" fill="#e0b2b8"/>
<circle cx="430" cy="137" r="8.3" fill="#e0b2b8"/>
<circle cx="438" cy="140" r="7.8" fill="#e0b2b8"/>
<circle cx="444" cy="150" r="6.8" fill="#e0b2b8"/>
<circle cx="433" cy="150" r="8.8" fill="#e0b2b8"/>
<circle cx="419" cy="153" r="4.8" fill="#e0b2b8"/>
<circle cx="432" cy="165" r="10.8" fill="#e0b2b8"/>
<circle cx="444" cy="168" r="11.8" fill="#e0b2b8"/>
<circle cx="416.5" cy="180" r="6.8" fill="#e0b2b8"/>
<circle cx="425" cy="178" r="7.8" fill="#e0b2b8"/>
<circle cx="437" cy="183" r="13.8" fill="#e0b2b8"/>
<circle cx="450" cy="180" r="10.8" fill="#e0b2b8"/>
<circle cx="462" cy="176" r="10.8" fill="#e0b2b8"/>
<circle cx="472" cy="179" r="8.8" fill="#e0b2b8"/>
<circle cx="477" cy="183" r="5.3" fill="#e0b2b8"/>
<circle cx="465" cy="190" r="7.8" fill="#e0b2b8"/>
<circle cx="458" cy="197" r="7.8" fill="#e0b2b8"/>
<circle cx="466" cy="201" r="4.8" fill="#e0b2b8"/>
<circle cx="442" cy="198" r="10.8" fill="#e0b2b8"/>
<circle cx="428" cy="203" r="8.8" fill="#e0b2b8"/>
<circle cx="424" cy="214" r="9.8" fill="#e0b2b8"/>
<circle cx="433" cy="218" r="7.8" fill="#e0b2b8"/>
<circle cx="428" cy="223" r="5.8" fill="#e0b2b8"/>
<circle cx="418" cy="208" r="4.8" fill="#e0b2b8"/>
<g filter="url(#b15)">
<ellipse cx="427" cy="140" rx="12" ry="8" fill="#eeacac" opacity="1"/>
<ellipse cx="438" cy="146" rx="8" ry="8" fill="#d6b2b2" opacity="1"/>
<ellipse cx="421" cy="150" rx="7" ry="6" fill="#e0c0be" opacity="1"/>
<ellipse cx="431" cy="134" rx="6" ry="4" fill="#f4cccc" opacity="1"/>
<ellipse cx="443" cy="152" rx="5" ry="5" fill="#d0a8ac" opacity="1"/>
<ellipse cx="433" cy="165" rx="11" ry="9" fill="#e4a2ae" opacity="1"/>
<ellipse cx="445" cy="169" rx="9" ry="9" fill="#b49cd6" opacity="1"/>
<ellipse cx="464" cy="177" rx="11" ry="11" fill="#9c9cf2" opacity="1"/>
<ellipse cx="473" cy="182" rx="6" ry="7" fill="#b4b0f4" opacity="1"/>
<ellipse cx="455" cy="181" rx="8" ry="11" fill="#a494e2" opacity="1"/>
<ellipse cx="447" cy="183" rx="6" ry="9" fill="#7878ee" opacity="1"/>
<ellipse cx="463" cy="193" rx="8" ry="8" fill="#aaaaf4" opacity="1"/>
<ellipse cx="458" cy="200" rx="7" ry="6" fill="#b4b4f2" opacity="1"/>
<ellipse cx="415" cy="180" rx="7" ry="8" fill="#ead8d8" opacity="1"/>
<ellipse cx="427" cy="190" rx="8" ry="9" fill="#c4a0cc" opacity="1"/>
<ellipse cx="443" cy="198" rx="10" ry="8" fill="#a49ae6" opacity="1"/>
<ellipse cx="424" cy="212" rx="11" ry="11" fill="#f29696" opacity="1"/>
<ellipse cx="426" cy="222" rx="7" ry="5" fill="#fad0d0" opacity="1"/>
<ellipse cx="417" cy="207" rx="6" ry="6" fill="#e88e94" opacity="1"/>
<ellipse cx="436" cy="209" rx="6" ry="6" fill="#e8969c" opacity="1"/>
</g></g></g>
<g filter="url(#b1)" opacity="0.5" fill="none" stroke="#6458c0" stroke-width="1.5">
<path d="M452 166 Q468 166 476 178"/><path d="M474 188 Q470 200 458 206"/><path d="M421 172 Q419 188 426 200"/>
</g>
<g opacity="0.9">
<line x1="431" y1="152" x2="430" y2="155.7" stroke="#5a6a78" stroke-width="0.9" stroke-linecap="round"/>
<line x1="430" y1="155.7" x2="429" y2="159.3" stroke="#5a6a78" stroke-width="0.9" stroke-linecap="round"/>
<line x1="429" y1="159.3" x2="428" y2="163" stroke="#5a6a78" stroke-width="0.9" stroke-linecap="round"/>
<line x1="428" y1="163" x2="428" y2="166.7" stroke="#5a6a78" stroke-width="0.9" stroke-linecap="round"/>
<line x1="428" y1="166.7" x2="428" y2="170.3" stroke="#5a6a78" stroke-width="0.9" stroke-linecap="round"/>
<line x1="428" y1="170.3" x2="428" y2="174" stroke="#5a6a78" stroke-width="0.9" stroke-linecap="round"/>
<line x1="428" y1="174" x2="428.7" y2="177.7" stroke="#5a6a78" stroke-width="0.9" stroke-linecap="round"/>
<line x1="428.7" y1="177.7" x2="429.3" y2="181.3" stroke="#5a6a78" stroke-width="0.9" stroke-linecap="round"/>
<line x1="429.3" y1="181.3" x2="430" y2="185" stroke="#5a6a78" stroke-width="0.9" stroke-linecap="round"/>
<line x1="430" y1="185" x2="430.7" y2="188.7" stroke="#5a6a78" stroke-width="0.9" stroke-linecap="round"/>
<line x1="430.7" y1="188.7" x2="431.3" y2="192.3" stroke="#5a6a78" stroke-width="0.9" stroke-linecap="round"/>
<line x1="431.3" y1="192.3" x2="432" y2="196" stroke="#5a6a78" stroke-width="0.9" stroke-linecap="round"/>
<line x1="432" y1="196" x2="433.3" y2="198.7" stroke="#5a6a78" stroke-width="0.9" stroke-linecap="round"/>
<line x1="433.3" y1="198.7" x2="434.7" y2="201.3" stroke="#5a6a78" stroke-width="0.9" stroke-linecap="round"/>
<line x1="434.7" y1="201.3" x2="436" y2="204" stroke="#5a6a78" stroke-width="0.9" stroke-linecap="round"/>
<circle cx="431" cy="152" r="1.15" fill="#2a1aa0"/>
<circle cx="430" cy="155.7" r="1.15" fill="#3f9f9f"/>
<circle cx="429" cy="159.3" r="1.15" fill="#3f9f9f"/>
<circle cx="428" cy="163" r="1.15" fill="#2a1aa0"/>
<circle cx="428" cy="166.7" r="1.15" fill="#3f9f9f"/>
<circle cx="428" cy="170.3" r="1.15" fill="#3f9f9f"/>
<circle cx="428" cy="174" r="1.15" fill="#2a1aa0"/>
<circle cx="428.7" cy="177.7" r="1.15" fill="#3f9f9f"/>
<circle cx="429.3" cy="181.3" r="1.15" fill="#3f9f9f"/>
<circle cx="430" cy="185" r="1.15" fill="#2a1aa0"/>
<circle cx="430.7" cy="188.7" r="1.15" fill="#3f9f9f"/>
<circle cx="431.3" cy="192.3" r="1.15" fill="#3f9f9f"/>
<circle cx="432" cy="196" r="1.15" fill="#2a1aa0"/>
<circle cx="433.3" cy="198.7" r="1.15" fill="#3f9f9f"/>
<circle cx="434.7" cy="201.3" r="1.15" fill="#3f9f9f"/>
<circle cx="436" cy="204" r="1.15" fill="#2a1aa0"/>
<line x1="437" y1="154" x2="436.5" y2="157" stroke="#5a6a78" stroke-width="0.9" stroke-linecap="round"/>
<line x1="436.5" y1="157" x2="436" y2="160" stroke="#5a6a78" stroke-width="0.9" stroke-linecap="round"/>
<line x1="436" y1="160" x2="435.5" y2="163" stroke="#5a6a78" stroke-width="0.9" stroke-linecap="round"/>
<line x1="435.5" y1="163" x2="435" y2="166" stroke="#5a6a78" stroke-width="0.9" stroke-linecap="round"/>
<line x1="435" y1="166" x2="435.7" y2="169.7" stroke="#5a6a78" stroke-width="0.9" stroke-linecap="round"/>
<line x1="435.7" y1="169.7" x2="436.3" y2="173.3" stroke="#5a6a78" stroke-width="0.9" stroke-linecap="round"/>
<line x1="436.3" y1="173.3" x2="437" y2="177" stroke="#5a6a78" stroke-width="0.9" stroke-linecap="round"/>
<line x1="437" y1="177" x2="437.7" y2="180.7" stroke="#5a6a78" stroke-width="0.9" stroke-linecap="round"/>
<line x1="437.7" y1="180.7" x2="438.3" y2="184.3" stroke="#5a6a78" stroke-width="0.9" stroke-linecap="round"/>
<line x1="438.3" y1="184.3" x2="439" y2="188" stroke="#5a6a78" stroke-width="0.9" stroke-linecap="round"/>
<line x1="439" y1="188" x2="440" y2="191.3" stroke="#5a6a78" stroke-width="0.9" stroke-linecap="round"/>
<line x1="440" y1="191.3" x2="441" y2="194.7" stroke="#5a6a78" stroke-width="0.9" stroke-linecap="round"/>
<line x1="441" y1="194.7" x2="442" y2="198" stroke="#5a6a78" stroke-width="0.9" stroke-linecap="round"/>
<circle cx="437" cy="154" r="1.15" fill="#2a1aa0"/>
<circle cx="436.5" cy="157" r="1.15" fill="#3f9f9f"/>
<circle cx="436" cy="160" r="1.15" fill="#3f9f9f"/>
<circle cx="435.5" cy="163" r="1.15" fill="#2a1aa0"/>
<circle cx="435" cy="166" r="1.15" fill="#3f9f9f"/>
<circle cx="435.7" cy="169.7" r="1.15" fill="#3f9f9f"/>
<circle cx="436.3" cy="173.3" r="1.15" fill="#2a1aa0"/>
<circle cx="437" cy="177" r="1.15" fill="#3f9f9f"/>
<circle cx="437.7" cy="180.7" r="1.15" fill="#3f9f9f"/>
<circle cx="438.3" cy="184.3" r="1.15" fill="#2a1aa0"/>
<circle cx="439" cy="188" r="1.15" fill="#3f9f9f"/>
<circle cx="440" cy="191.3" r="1.15" fill="#3f9f9f"/>
<circle cx="441" cy="194.7" r="1.15" fill="#2a1aa0"/>
<circle cx="442" cy="198" r="1.15" fill="#3f9f9f"/>
<line x1="433" y1="150" x2="436" y2="151.7" stroke="#5a6a78" stroke-width="0.9" stroke-linecap="round"/>
<line x1="436" y1="151.7" x2="439" y2="153.3" stroke="#5a6a78" stroke-width="0.9" stroke-linecap="round"/>
<line x1="439" y1="153.3" x2="442" y2="155" stroke="#5a6a78" stroke-width="0.9" stroke-linecap="round"/>
<line x1="442" y1="155" x2="444.7" y2="157.3" stroke="#5a6a78" stroke-width="0.9" stroke-linecap="round"/>
<line x1="444.7" y1="157.3" x2="447.3" y2="159.7" stroke="#5a6a78" stroke-width="0.9" stroke-linecap="round"/>
<line x1="447.3" y1="159.7" x2="450" y2="162" stroke="#5a6a78" stroke-width="0.9" stroke-linecap="round"/>
<line x1="450" y1="162" x2="452" y2="164.7" stroke="#5a6a78" stroke-width="0.9" stroke-linecap="round"/>
<line x1="452" y1="164.7" x2="454" y2="167.3" stroke="#5a6a78" stroke-width="0.9" stroke-linecap="round"/>
<line x1="454" y1="167.3" x2="456" y2="170" stroke="#5a6a78" stroke-width="0.9" stroke-linecap="round"/>
<line x1="456" y1="170" x2="457.7" y2="172.7" stroke="#5a6a78" stroke-width="0.9" stroke-linecap="round"/>
<line x1="457.7" y1="172.7" x2="459.3" y2="175.3" stroke="#5a6a78" stroke-width="0.9" stroke-linecap="round"/>
<line x1="459.3" y1="175.3" x2="461" y2="178" stroke="#5a6a78" stroke-width="0.9" stroke-linecap="round"/>
<line x1="461" y1="178" x2="461.5" y2="181" stroke="#5a6a78" stroke-width="0.9" stroke-linecap="round"/>
<line x1="461.5" y1="181" x2="462" y2="184" stroke="#5a6a78" stroke-width="0.9" stroke-linecap="round"/>
<circle cx="433" cy="150" r="1.15" fill="#2a1aa0"/>
<circle cx="436" cy="151.7" r="1.15" fill="#3f9f9f"/>
<circle cx="439" cy="153.3" r="1.15" fill="#3f9f9f"/>
<circle cx="442" cy="155" r="1.15" fill="#2a1aa0"/>
<circle cx="444.7" cy="157.3" r="1.15" fill="#3f9f9f"/>
<circle cx="447.3" cy="159.7" r="1.15" fill="#3f9f9f"/>
<circle cx="450" cy="162" r="1.15" fill="#2a1aa0"/>
<circle cx="452" cy="164.7" r="1.15" fill="#3f9f9f"/>
<circle cx="454" cy="167.3" r="1.15" fill="#3f9f9f"/>
<circle cx="456" cy="170" r="1.15" fill="#2a1aa0"/>
<circle cx="457.7" cy="172.7" r="1.15" fill="#3f9f9f"/>
<circle cx="459.3" cy="175.3" r="1.15" fill="#3f9f9f"/>
<circle cx="461" cy="178" r="1.15" fill="#2a1aa0"/>
<circle cx="461.5" cy="181" r="1.15" fill="#3f9f9f"/>
<circle cx="462" cy="184" r="1.15" fill="#3f9f9f"/>
<line x1="440" y1="151" x2="442.7" y2="153" stroke="#5a6a78" stroke-width="0.9" stroke-linecap="round"/>
<line x1="442.7" y1="153" x2="445.3" y2="155" stroke="#5a6a78" stroke-width="0.9" stroke-linecap="round"/>
<line x1="445.3" y1="155" x2="448" y2="157" stroke="#5a6a78" stroke-width="0.9" stroke-linecap="round"/>
<line x1="448" y1="157" x2="450.3" y2="159.7" stroke="#5a6a78" stroke-width="0.9" stroke-linecap="round"/>
<line x1="450.3" y1="159.7" x2="452.7" y2="162.3" stroke="#5a6a78" stroke-width="0.9" stroke-linecap="round"/>
<line x1="452.7" y1="162.3" x2="455" y2="165" stroke="#5a6a78" stroke-width="0.9" stroke-linecap="round"/>
<line x1="455" y1="165" x2="456.7" y2="167.7" stroke="#5a6a78" stroke-width="0.9" stroke-linecap="round"/>
<line x1="456.7" y1="167.7" x2="458.3" y2="170.3" stroke="#5a6a78" stroke-width="0.9" stroke-linecap="round"/>
<line x1="458.3" y1="170.3" x2="460" y2="173" stroke="#5a6a78" stroke-width="0.9" stroke-linecap="round"/>
<circle cx="440" cy="151" r="1.15" fill="#2a1aa0"/>
<circle cx="442.7" cy="153" r="1.15" fill="#3f9f9f"/>
<circle cx="445.3" cy="155" r="1.15" fill="#3f9f9f"/>
<circle cx="448" cy="157" r="1.15" fill="#2a1aa0"/>
<circle cx="450.3" cy="159.7" r="1.15" fill="#3f9f9f"/>
<circle cx="452.7" cy="162.3" r="1.15" fill="#3f9f9f"/>
<circle cx="455" cy="165" r="1.15" fill="#2a1aa0"/>
<circle cx="456.7" cy="167.7" r="1.15" fill="#3f9f9f"/>
<circle cx="458.3" cy="170.3" r="1.15" fill="#3f9f9f"/>
<circle cx="460" cy="173" r="1.15" fill="#2a1aa0"/>
<line x1="436" y1="204" x2="438.7" y2="202.7" stroke="#5a6a78" stroke-width="0.9" stroke-linecap="round"/>
<line x1="438.7" y1="202.7" x2="441.3" y2="201.3" stroke="#5a6a78" stroke-width="0.9" stroke-linecap="round"/>
<line x1="441.3" y1="201.3" x2="444" y2="200" stroke="#5a6a78" stroke-width="0.9" stroke-linecap="round"/>
<line x1="444" y1="200" x2="446.3" y2="198" stroke="#5a6a78" stroke-width="0.9" stroke-linecap="round"/>
<line x1="446.3" y1="198" x2="448.7" y2="196" stroke="#5a6a78" stroke-width="0.9" stroke-linecap="round"/>
<line x1="448.7" y1="196" x2="451" y2="194" stroke="#5a6a78" stroke-width="0.9" stroke-linecap="round"/>
<line x1="451" y1="194" x2="453.3" y2="192" stroke="#5a6a78" stroke-width="0.9" stroke-linecap="round"/>
<line x1="453.3" y1="192" x2="455.7" y2="190" stroke="#5a6a78" stroke-width="0.9" stroke-linecap="round"/>
<line x1="455.7" y1="190" x2="458" y2="188" stroke="#5a6a78" stroke-width="0.9" stroke-linecap="round"/>
<line x1="458" y1="188" x2="460" y2="186" stroke="#5a6a78" stroke-width="0.9" stroke-linecap="round"/>
<line x1="460" y1="186" x2="462" y2="184" stroke="#5a6a78" stroke-width="0.9" stroke-linecap="round"/>
<circle cx="436" cy="204" r="1.15" fill="#2a1aa0"/>
<circle cx="438.7" cy="202.7" r="1.15" fill="#3f9f9f"/>
<circle cx="441.3" cy="201.3" r="1.15" fill="#3f9f9f"/>
<circle cx="444" cy="200" r="1.15" fill="#2a1aa0"/>
<circle cx="446.3" cy="198" r="1.15" fill="#3f9f9f"/>
<circle cx="448.7" cy="196" r="1.15" fill="#3f9f9f"/>
<circle cx="451" cy="194" r="1.15" fill="#2a1aa0"/>
<circle cx="453.3" cy="192" r="1.15" fill="#3f9f9f"/>
<circle cx="455.7" cy="190" r="1.15" fill="#3f9f9f"/>
<circle cx="458" cy="188" r="1.15" fill="#2a1aa0"/>
<circle cx="460" cy="186" r="1.15" fill="#3f9f9f"/>
<circle cx="462" cy="184" r="1.15" fill="#3f9f9f"/>
<line x1="440" y1="197" x2="442.3" y2="195.3" stroke="#5a6a78" stroke-width="0.9" stroke-linecap="round"/>
<line x1="442.3" y1="195.3" x2="444.7" y2="193.7" stroke="#5a6a78" stroke-width="0.9" stroke-linecap="round"/>
<line x1="444.7" y1="193.7" x2="447" y2="192" stroke="#5a6a78" stroke-width="0.9" stroke-linecap="round"/>
<line x1="447" y1="192" x2="450" y2="189.5" stroke="#5a6a78" stroke-width="0.9" stroke-linecap="round"/>
<line x1="450" y1="189.5" x2="453" y2="187" stroke="#5a6a78" stroke-width="0.9" stroke-linecap="round"/>
<circle cx="440" cy="197" r="1.15" fill="#2a1aa0"/>
<circle cx="442.3" cy="195.3" r="1.15" fill="#3f9f9f"/>
<circle cx="444.7" cy="193.7" r="1.15" fill="#3f9f9f"/>
<circle cx="447" cy="192" r="1.15" fill="#2a1aa0"/>
<circle cx="450" cy="189.5" r="1.15" fill="#3f9f9f"/>
<circle cx="453" cy="187" r="1.15" fill="#3f9f9f"/>
</g>
<polygon points="464.5,181.5 539.5,151 539.5,208" fill="url(#gCone)" filter="url(#b05)"/>
<g filter="url(#b05)">
<line x1="578.7" y1="141.3" x2="569.4" y2="147.5" stroke="#2f8f96" stroke-width="1.6" stroke-linecap="round"/>
<line x1="569.4" y1="147.5" x2="563.2" y2="145.4" stroke="#2f8f96" stroke-width="1.6" stroke-linecap="round"/>
<line x1="563.2" y1="145.4" x2="553" y2="151.6" stroke="#2f8f96" stroke-width="1.6" stroke-linecap="round"/>
<line x1="553" y1="151.6" x2="550.9" y2="160.9" stroke="#2f8f96" stroke-width="1.6" stroke-linecap="round"/>
<line x1="550.9" y1="160.9" x2="542.7" y2="167" stroke="#2f8f96" stroke-width="1.6" stroke-linecap="round"/>
<line x1="542.7" y1="167" x2="539.6" y2="174.3" stroke="#2f8f96" stroke-width="1.6" stroke-linecap="round"/>
<line x1="539.6" y1="174.3" x2="535.4" y2="181.5" stroke="#2f8f96" stroke-width="1.6" stroke-linecap="round"/>
<line x1="535.4" y1="181.5" x2="535.4" y2="186.6" stroke="#2f8f96" stroke-width="1.6" stroke-linecap="round"/>
<line x1="535.4" y1="186.6" x2="540.6" y2="191.8" stroke="#2f8f96" stroke-width="1.6" stroke-linecap="round"/>
<line x1="540.6" y1="191.8" x2="545.7" y2="198" stroke="#2f8f96" stroke-width="1.6" stroke-linecap="round"/>
<line x1="545.7" y1="198" x2="542.6" y2="203" stroke="#2f8f96" stroke-width="1.6" stroke-linecap="round"/>
<line x1="542.6" y1="203" x2="546.8" y2="209.3" stroke="#2f8f96" stroke-width="1.6" stroke-linecap="round"/>
<line x1="546.8" y1="209.3" x2="554" y2="212.4" stroke="#2f8f96" stroke-width="1.6" stroke-linecap="round"/>
<line x1="554" y1="212.4" x2="558" y2="216.5" stroke="#2f8f96" stroke-width="1.6" stroke-linecap="round"/>
<line x1="558" y1="216.5" x2="562.2" y2="221.6" stroke="#2f8f96" stroke-width="1.6" stroke-linecap="round"/>
<line x1="562.2" y1="221.6" x2="568.4" y2="223.7" stroke="#2f8f96" stroke-width="1.6" stroke-linecap="round"/>
<line x1="568.4" y1="223.7" x2="574" y2="219.6" stroke="#2f8f96" stroke-width="1.6" stroke-linecap="round"/>
<line x1="574" y1="219.6" x2="581.8" y2="221.6" stroke="#2f8f96" stroke-width="1.6" stroke-linecap="round"/>
<line x1="581.8" y1="221.6" x2="588" y2="212.4" stroke="#2f8f96" stroke-width="1.6" stroke-linecap="round"/>
<line x1="588" y1="212.4" x2="587.5" y2="208.3" stroke="#2f8f96" stroke-width="1.6" stroke-linecap="round"/>
<line x1="587.5" y1="208.3" x2="585.9" y2="200" stroke="#2f8f96" stroke-width="1.6" stroke-linecap="round"/>
<line x1="585.9" y1="200" x2="585.9" y2="192.8" stroke="#2f8f96" stroke-width="1.6" stroke-linecap="round"/>
<line x1="585.9" y1="192.8" x2="586.3" y2="184.6" stroke="#2f8f96" stroke-width="1.6" stroke-linecap="round"/>
<line x1="586.3" y1="184.6" x2="585.9" y2="177.4" stroke="#2f8f96" stroke-width="1.6" stroke-linecap="round"/>
<line x1="585.9" y1="177.4" x2="586.3" y2="167" stroke="#2f8f96" stroke-width="1.6" stroke-linecap="round"/>
<line x1="586.3" y1="167" x2="588" y2="156.8" stroke="#2f8f96" stroke-width="1.6" stroke-linecap="round"/>
<line x1="588" y1="156.8" x2="586.9" y2="149.6" stroke="#2f8f96" stroke-width="1.6" stroke-linecap="round"/>
<line x1="586.9" y1="149.6" x2="578.7" y2="141.3" stroke="#2f8f96" stroke-width="1.6" stroke-linecap="round"/>
<rect x="563.8" y="157.1" width="4.4" height="1.9" rx="0.9" fill="#28c040" transform="rotate(30 566 158)"/>
<rect x="570.8" y="154.1" width="4.4" height="1.9" rx="0.9" fill="#38c838" transform="rotate(-60 573 155)"/>
<rect x="567.8" y="162.1" width="4.4" height="1.9" rx="0.9" fill="#28c040" transform="rotate(80 570 163)"/>
<rect x="558.8" y="164.1" width="4.4" height="1.9" rx="0.9" fill="#28c040" transform="rotate(20 561 165)"/>
<rect x="553.8" y="171.1" width="4.4" height="1.9" rx="0.9" fill="#38c838" transform="rotate(-30 556 172)"/>
<rect x="548.8" y="177.1" width="4.4" height="1.9" rx="0.9" fill="#38c838" transform="rotate(60 551 178)"/>
<rect x="544.8" y="183.1" width="4.4" height="1.9" rx="0.9" fill="#50dc38" transform="rotate(10 547 184)"/>
<rect x="550.8" y="189.1" width="4.4" height="1.9" rx="0.9" fill="#50dc38" transform="rotate(-40 553 190)"/>
<rect x="555.8" y="195.1" width="4.4" height="1.9" rx="0.9" fill="#38c838" transform="rotate(30 558 196)"/>
<rect x="560.8" y="202.1" width="4.4" height="1.9" rx="0.9" fill="#28c040" transform="rotate(-20 563 203)"/>
<rect x="567.8" y="206.1" width="4.4" height="1.9" rx="0.9" fill="#38c838" transform="rotate(40 570 207)"/>
<rect x="573.8" y="210.1" width="4.4" height="1.9" rx="0.9" fill="#50dc38" transform="rotate(-50 576 211)"/>
<rect x="577.8" y="202.1" width="4.4" height="1.9" rx="0.9" fill="#30d030" transform="rotate(70 580 203)"/>
<rect x="571.8" y="196.1" width="4.4" height="1.9" rx="0.9" fill="#28c040" transform="rotate(-30 574 197)"/>
<rect x="563.8" y="192.1" width="4.4" height="1.9" rx="0.9" fill="#80d428" transform="rotate(20 566 193)"/>
<rect x="557.8" y="185.1" width="4.4" height="1.9" rx="0.9" fill="#50dc38" transform="rotate(-60 560 186)"/>
<rect x="554.8" y="177.1" width="4.4" height="1.9" rx="0.9" fill="#30d030" transform="rotate(40 557 178)"/>
<rect x="559.8" y="170.1" width="4.4" height="1.9" rx="0.9" fill="#38c838" transform="rotate(-20 562 171)"/>
<rect x="566.8" y="175.1" width="4.4" height="1.9" rx="0.9" fill="#30d030" transform="rotate(60 569 176)"/>
<rect x="569.8" y="187.1" width="4.4" height="1.9" rx="0.9" fill="#38c838" transform="rotate(-40 572 188)"/>
<rect x="562.8" y="198.1" width="4.4" height="1.9" rx="0.9" fill="#28c040" transform="rotate(70 565 199)"/>
<rect x="552.8" y="203.1" width="4.4" height="1.9" rx="0.9" fill="#28c040" transform="rotate(20 555 204)"/>
<rect x="546.8" y="195.1" width="4.4" height="1.9" rx="0.9" fill="#38c838" transform="rotate(-30 549 196)"/>
<rect x="542.8" y="189.1" width="4.4" height="1.9" rx="0.9" fill="#50dc38" transform="rotate(50 545 190)"/>
<rect x="565.8" y="213.1" width="4.4" height="1.9" rx="0.9" fill="#38c838" transform="rotate(-10 568 214)"/>
<rect x="575.8" y="216.1" width="4.4" height="1.9" rx="0.9" fill="#30d030" transform="rotate(30 578 217)"/>
<rect x="578.8" y="189.1" width="4.4" height="1.9" rx="0.9" fill="#38c838" transform="rotate(80 581 190)"/>
<rect x="577.8" y="164.1" width="4.4" height="1.9" rx="0.9" fill="#30d030" transform="rotate(-70 580 165)"/>
<rect x="572.8" y="147.1" width="4.4" height="1.9" rx="0.9" fill="#30d030" transform="rotate(40 575 148)"/>
<rect x="557.8" y="157.1" width="4.4" height="1.9" rx="0.9" fill="#30d030" transform="rotate(-50 560 158)"/>
<rect x="549.8" y="165.1" width="4.4" height="1.9" rx="0.9" fill="#50dc38" transform="rotate(30 552 166)"/>
<rect x="543.8" y="175.1" width="4.4" height="1.9" rx="0.9" fill="#50dc38" transform="rotate(-20 546 176)"/>
<rect x="540.8" y="195.1" width="4.4" height="1.9" rx="0.9" fill="#38c838" transform="rotate(70 543 196)"/>
<rect x="549.8" y="207.1" width="4.4" height="1.9" rx="0.9" fill="#30d030" transform="rotate(-40 552 208)"/>
<rect x="558.8" y="211.1" width="4.4" height="1.9" rx="0.9" fill="#28c040" transform="rotate(10 561 212)"/>
<rect x="570.8" y="215.1" width="4.4" height="1.9" rx="0.9" fill="#80d428" transform="rotate(60 573 216)"/>
<rect x="579.8" y="209.1" width="4.4" height="1.9" rx="0.9" fill="#28c040" transform="rotate(-30 582 210)"/>
<rect x="579.8" y="171.1" width="4.4" height="1.9" rx="0.9" fill="#38c838" transform="rotate(20 582 172)"/>
<rect x="575.8" y="159.1" width="4.4" height="1.9" rx="0.9" fill="#50dc38" transform="rotate(-40 578 160)"/>
<rect x="565.8" y="167.1" width="4.4" height="1.9" rx="0.9" fill="#38c838" transform="rotate(10 568 168)"/>
<rect x="553.8" y="185.1" width="4.4" height="1.9" rx="0.9" fill="#50dc38" transform="rotate(80 556 186)"/>
<rect x="560.8" y="189.1" width="4.4" height="1.9" rx="0.9" fill="#80d428" transform="rotate(-10 563 190)"/>
<rect x="566.8" y="195.1" width="4.4" height="1.9" rx="0.9" fill="#28c040" transform="rotate(50 569 196)"/>
<rect x="572.8" y="201.1" width="4.4" height="1.9" rx="0.9" fill="#30d030" transform="rotate(-70 575 202)"/>
<ellipse cx="578" cy="181" rx="3.2" ry="9" fill="#30d040"/>
<ellipse cx="577" cy="176" rx="2.2" ry="4" fill="#60e860"/>
<ellipse cx="560" cy="180" rx="4" ry="4.5" fill="#b8d048" opacity="0.9"/>
<ellipse cx="559.5" cy="181" rx="2" ry="2.4" fill="#c87030"/>
<line x1="566" y1="170" x2="571" y2="176" stroke="#3a9aa0" stroke-width="1.2" stroke-linecap="round"/>
<line x1="571" y1="176" x2="571" y2="185" stroke="#3a9aa0" stroke-width="1.2" stroke-linecap="round"/>
<line x1="571" y1="185" x2="566" y2="190" stroke="#3a9aa0" stroke-width="1.2" stroke-linecap="round"/>
<line x1="566" y1="190" x2="566" y2="199" stroke="#3a9aa0" stroke-width="1.2" stroke-linecap="round"/>
<line x1="566" y1="199" x2="572" y2="203" stroke="#3a9aa0" stroke-width="1.2" stroke-linecap="round"/>
<line x1="571" y1="185" x2="576" y2="190" stroke="#3a9aa0" stroke-width="1.2" stroke-linecap="round"/>
<line x1="566" y1="170" x2="562" y2="166" stroke="#3a9aa0" stroke-width="1.2" stroke-linecap="round"/>
<circle cx="566" cy="170" r="1.9" fill="url(#sT)"/>
<circle cx="571" cy="176" r="2.1" fill="url(#sB)"/>
<circle cx="571" cy="185" r="2.1" fill="url(#sB)"/>
<circle cx="566" cy="190" r="1.9" fill="url(#sT)"/>
<circle cx="566" cy="199" r="1.9" fill="url(#sT)"/>
<circle cx="572" cy="203" r="1.9" fill="url(#sT)"/>
<circle cx="576" cy="190" r="1.7" fill="url(#sT)"/>
<circle cx="562" cy="166" r="1.6" fill="url(#sT)"/>
<circle cx="563" cy="185" r="1.4" fill="url(#sW)"/>
<circle cx="569" cy="206" r="1.3" fill="url(#sW)"/>
<circle cx="561" cy="195" r="1.3" fill="url(#sW)"/>
<circle cx="575" cy="168" r="1.2" fill="url(#sW)"/>
<circle cx="557" cy="174" r="1.5" fill="url(#sT)"/>
<circle cx="553" cy="183" r="1.4" fill="url(#sT)"/>
<circle cx="560" cy="200" r="1.5" fill="url(#sT)"/>
<circle cx="570" cy="192" r="1.4" fill="url(#sT)"/>
<circle cx="574" cy="172" r="1.3" fill="url(#sT)"/>
<circle cx="563" cy="176" r="1.2" fill="url(#sT)"/>
<circle cx="556" cy="178" r="1.1" fill="url(#sW)"/>
<circle cx="565" cy="182" r="1.1" fill="url(#sW)"/>
<circle cx="568" cy="201" r="1" fill="url(#sW)"/>
<circle cx="574" cy="194" r="1" fill="url(#sW)"/>
<circle cx="558" cy="192" r="1" fill="url(#sW)"/>
<circle cx="578.7" cy="141.3" r="2.9" fill="url(#sT)"/>
<circle cx="569.4" cy="147.5" r="2.7" fill="url(#sB)"/>
<circle cx="563.2" cy="145.4" r="2.9" fill="url(#sT)"/>
<circle cx="553" cy="151.6" r="2.9" fill="url(#sT)"/>
<circle cx="550.9" cy="160.9" r="2.9" fill="url(#sT)"/>
<circle cx="542.7" cy="167" r="2.9" fill="url(#sT)"/>
<circle cx="539.6" cy="174.3" r="2.9" fill="url(#sT)"/>
<circle cx="535.4" cy="181.5" r="2.7" fill="url(#sB)"/>
<circle cx="535.4" cy="186.6" r="2.9" fill="url(#sT)"/>
<circle cx="540.6" cy="191.8" r="2.9" fill="url(#sT)"/>
<circle cx="545.7" cy="198" r="2.7" fill="url(#sB)"/>
<circle cx="542.6" cy="203" r="2.9" fill="url(#sT)"/>
<circle cx="546.8" cy="209.3" r="2.9" fill="url(#sT)"/>
<circle cx="554" cy="212.4" r="2.9" fill="url(#sT)"/>
<circle cx="558" cy="216.5" r="2.9" fill="url(#sT)"/>
<circle cx="562.2" cy="221.6" r="2.9" fill="url(#sT)"/>
<circle cx="568.4" cy="223.7" r="2.9" fill="url(#sT)"/>
<circle cx="574" cy="219.6" r="2.7" fill="url(#sB)"/>
<circle cx="581.8" cy="221.6" r="2.9" fill="url(#sT)"/>
<circle cx="588" cy="212.4" r="2.9" fill="url(#sT)"/>
<circle cx="587.5" cy="208.3" r="2.7" fill="url(#sB)"/>
<circle cx="585.9" cy="200" r="2.9" fill="url(#sT)"/>
<circle cx="585.9" cy="192.8" r="2.9" fill="url(#sT)"/>
<circle cx="586.3" cy="184.6" r="2.9" fill="url(#sT)"/>
<circle cx="585.9" cy="177.4" r="2.9" fill="url(#sT)"/>
<circle cx="586.3" cy="167" r="2.9" fill="url(#sT)"/>
<circle cx="588" cy="156.8" r="2.7" fill="url(#sB)"/>
<circle cx="586.9" cy="149.6" r="2.9" fill="url(#sT)"/>
</g>
<text x="642.5" y="115" font-size="10" font-weight="bold" text-anchor="middle" fill="#000" >Color Scale</text>
<rect x="623" y="122.4" width="9" height="102.6" fill="url(#gScale)"/>
<line x1="632" y1="123.5" x2="634.6" y2="123.5" stroke="#000" stroke-width="1"/>
<text x="638" y="126.7" font-size="9.2" font-weight="bold" text-anchor="start" fill="#000" >0.02</text>
<line x1="632" y1="143.7" x2="634.6" y2="143.7" stroke="#000" stroke-width="1"/>
<text x="638" y="146.9" font-size="9.2" font-weight="bold" text-anchor="start" fill="#000" >0.01</text>
<line x1="632" y1="163.9" x2="634.6" y2="163.9" stroke="#000" stroke-width="1"/>
<text x="638" y="167.1" font-size="9.2" font-weight="bold" text-anchor="start" fill="#000" >0.00</text>
<line x1="632" y1="184.1" x2="634.6" y2="184.1" stroke="#000" stroke-width="1"/>
<text x="638" y="187.3" font-size="9.2" font-weight="bold" text-anchor="start" fill="#000" >0.00</text>
<line x1="632" y1="204.3" x2="634.6" y2="204.3" stroke="#000" stroke-width="1"/>
<text x="638" y="207.5" font-size="9.2" font-weight="bold" text-anchor="start" fill="#000" >0.01</text>
<line x1="632" y1="224.5" x2="634.6" y2="224.5" stroke="#000" stroke-width="1"/>
<text x="638" y="227.7" font-size="9.2" font-weight="bold" text-anchor="start" fill="#000" >0.02</text>
<text x="11.5" y="273.6" font-size="20.5" text-anchor="start" fill="#000" >(c)</text>
<rect x="80.4" y="393.3" width="20.1" height="5.3" fill="#6a6af2"/>
<rect x="101.3" y="355.9" width="20.6" height="37.4" fill="#12c040"/>
<rect x="122.6" y="393.3" width="20.1" height="48.6" fill="#ff8040"/>
<rect x="143.7" y="393.3" width="20.3" height="21.1" fill="#f83434"/>
<rect x="200.7" y="393.3" width="20.3" height="18.7" fill="#6a6af2"/>
<rect x="221.8" y="375.3" width="20.3" height="18" fill="#12c040"/>
<rect x="242.9" y="393.3" width="20.8" height="31.7" fill="#ff8040"/>
<rect x="264.2" y="393.3" width="20.1" height="32.8" fill="#f83434"/>
<line x1="62.1" y1="393.3" x2="302.4" y2="393.3" stroke="#000" stroke-width="1.1"/>
<rect x="62.1" y="287.6" width="240.3" height="176.2" fill="none" stroke="#000" stroke-width="1.5"/>
<line x1="62.1" y1="287.6" x2="65.1" y2="287.6" stroke="#000" stroke-width="1.2"/>
<text x="57.6" y="290.3" font-size="9.8" font-weight="bold" text-anchor="end" fill="#000" >300</text>
<line x1="62.1" y1="305.2" x2="65.1" y2="305.2" stroke="#000" stroke-width="1.2"/>
<text x="57.6" y="307.9" font-size="9.8" font-weight="bold" text-anchor="end" fill="#000" >250</text>
<line x1="62.1" y1="322.8" x2="65.1" y2="322.8" stroke="#000" stroke-width="1.2"/>
<text x="57.6" y="325.5" font-size="9.8" font-weight="bold" text-anchor="end" fill="#000" >200</text>
<line x1="62.1" y1="340.5" x2="65.1" y2="340.5" stroke="#000" stroke-width="1.2"/>
<text x="57.6" y="343.2" font-size="9.8" font-weight="bold" text-anchor="end" fill="#000" >150</text>
<line x1="62.1" y1="358.1" x2="65.1" y2="358.1" stroke="#000" stroke-width="1.2"/>
<text x="57.6" y="360.8" font-size="9.8" font-weight="bold" text-anchor="end" fill="#000" >100</text>
<line x1="62.1" y1="375.7" x2="65.1" y2="375.7" stroke="#000" stroke-width="1.2"/>
<text x="57.6" y="378.4" font-size="9.8" font-weight="bold" text-anchor="end" fill="#000" >50</text>
<line x1="62.1" y1="393.3" x2="65.1" y2="393.3" stroke="#000" stroke-width="1.2"/>
<text x="57.6" y="396" font-size="9.8" font-weight="bold" text-anchor="end" fill="#000" >0</text>
<line x1="62.1" y1="410.9" x2="65.1" y2="410.9" stroke="#000" stroke-width="1.2"/>
<text x="57.6" y="413.6" font-size="9.8" font-weight="bold" text-anchor="end" fill="#000" >-50</text>
<line x1="62.1" y1="428.6" x2="65.1" y2="428.6" stroke="#000" stroke-width="1.2"/>
<text x="57.6" y="431.3" font-size="9.8" font-weight="bold" text-anchor="end" fill="#000" >-100</text>
<line x1="62.1" y1="446.2" x2="65.1" y2="446.2" stroke="#000" stroke-width="1.2"/>
<text x="57.6" y="448.9" font-size="9.8" font-weight="bold" text-anchor="end" fill="#000" >-150</text>
<line x1="62.1" y1="463.8" x2="65.1" y2="463.8" stroke="#000" stroke-width="1.2"/>
<text x="57.6" y="466.5" font-size="9.8" font-weight="bold" text-anchor="end" fill="#000" >-200</text>
<line x1="122.4" y1="463.8" x2="122.4" y2="467.3" stroke="#000" stroke-width="1.4"/>
<line x1="242.9" y1="463.8" x2="242.9" y2="467.3" stroke="#000" stroke-width="1.4"/>
<text transform="translate(34.4 375) rotate(-90)" font-size="12" font-weight="bold" text-anchor="middle">Interaction energy (kJ/mol)</text>
<text x="125.2" y="484.4" font-size="13.3" font-weight="bold" text-anchor="middle" fill="#000" >CC3</text>
<text x="244.5" y="484.4" font-size="13.3" font-weight="bold" text-anchor="middle" fill="#000" >CC3 window</text>
<rect x="305.3" y="287.9" width="20" height="9.4" fill="#6a6af2"/>
<text x="327" y="296.2" font-size="8" font-weight="bold" text-anchor="start" fill="#000" >Electrostatic</text>
<rect x="305.3" y="302.9" width="20" height="9.4" fill="#12c040"/>
<text x="327" y="311.2" font-size="8" font-weight="bold" text-anchor="start" fill="#000" >Repulsion</text>
<rect x="305.3" y="317.9" width="20" height="9.4" fill="#ff8040"/>
<text x="327" y="326.2" font-size="8" font-weight="bold" text-anchor="start" fill="#000" >Dispersion</text>
<rect x="305.3" y="332.9" width="20" height="9.4" fill="#f83434"/>
<text x="327" y="341.2" font-size="8" font-weight="bold" text-anchor="start" fill="#000" >Total energy</text>
<g filter="url(#b05)">
<polygon points="107.5,307.9 104.3,310.9 100.1,309.6 99.1,305.3 102.3,302.3 106.5,303.6" fill="none" stroke="#6c6c6c" stroke-width="1.35" stroke-linejoin="round"/>
<path d="M107.5 307.9L109.6 308.6M104.3 310.9L104.8 313M100.1 309.6L98.5 311.1M99.1 305.3L97 304.6M102.3 302.3L101.8 300.2M106.5 303.6L108.1 302.1" stroke="#dcdcd0" stroke-width="0.9" fill="none"/>
<polygon points="144.7,308.9 140.5,310.4 137.2,307.6 137.9,303.3 142.1,301.8 145.4,304.6" fill="none" stroke="#6c6c6c" stroke-width="1.35" stroke-linejoin="round"/>
<path d="M144.7 308.9L146.3 310.4M140.5 310.4L140.1 312.6M137.2 307.6L135.1 308.3M137.9 303.3L136.3 301.8M142.1 301.8L142.5 299.6M145.4 304.6L147.5 303.9" stroke="#dcdcd0" stroke-width="0.9" fill="none"/>
<polygon points="106.3,348.5 101.9,348.3 99.9,344.4 102.3,340.7 106.7,340.9 108.7,344.8" fill="none" stroke="#6c6c6c" stroke-width="1.35" stroke-linejoin="round"/>
<path d="M106.3 348.5L107.3 350.5M101.9 348.3L100.7 350.1M99.9 344.4L97.7 344.3M102.3 340.7L101.3 338.7M106.7 340.9L107.9 339.1M108.7 344.8L110.9 344.9" stroke="#dcdcd0" stroke-width="0.9" fill="none"/>
<polygon points="142.1,348.5 138.2,346.6 137.8,342.2 141.5,339.7 145.4,341.6 145.8,346" fill="none" stroke="#6c6c6c" stroke-width="1.35" stroke-linejoin="round"/>
<path d="M142.1 348.5L142.3 350.7M138.2 346.6L136.3 347.8M137.8 342.2L135.9 341.2M141.5 339.7L141.3 337.5M145.4 341.6L147.3 340.4M145.8 346L147.7 347" stroke="#dcdcd0" stroke-width="0.9" fill="none"/>
<polygon points="126.2,314.5 123.9,317.7 120,317.3 118.4,313.7 120.7,310.5 124.6,310.9" fill="none" stroke="#6c6c6c" stroke-width="1.3" stroke-linejoin="round"/>
<path d="M126.2 314.5L128.4 314.7M123.9 317.7L124.8 319.7M120 317.3L118.7 319.1M118.4 313.7L116.2 313.5M120.7 310.5L119.8 308.5M124.6 310.9L125.9 309.1" stroke="#dcdcd0" stroke-width="0.9" fill="none"/>
<polygon points="138.3,327.8 134.8,329.5 131.6,327.3 131.9,323.4 135.4,321.7 138.6,323.9" fill="none" stroke="#6c6c6c" stroke-width="1.3" stroke-linejoin="round"/>
<path d="M138.3 327.8L140.1 329M134.8 329.5L134.6 331.7M131.6 327.3L129.6 328.2M131.9 323.4L130.1 322.2M135.4 321.7L135.6 319.5M138.6 323.9L140.6 323" stroke="#dcdcd0" stroke-width="0.9" fill="none"/>
<polygon points="124.6,340.6 120.7,340.4 118.9,336.9 121,333.6 124.9,333.8 126.7,337.3" fill="none" stroke="#6c6c6c" stroke-width="1.3" stroke-linejoin="round"/>
<path d="M124.6 340.6L125.6 342.5M120.7 340.4L119.5 342.2M118.9 336.9L116.7 336.8M121 333.6L120 331.7M124.9 333.8L126.1 332M126.7 337.3L128.9 337.4" stroke="#dcdcd0" stroke-width="0.9" fill="none"/>
<polygon points="107.2,328.5 103.9,326.5 104,322.6 107.4,320.7 110.7,322.7 110.6,326.6" fill="none" stroke="#6c6c6c" stroke-width="1.3" stroke-linejoin="round"/>
<path d="M107.2 328.5L107.1 330.7M103.9 326.5L101.9 327.5M104 322.6L102.1 321.4M107.4 320.7L107.5 318.5M110.7 322.7L112.7 321.7M110.6 326.6L112.5 327.8" stroke="#dcdcd0" stroke-width="0.9" fill="none"/>
<polyline points="107.3,308.6 112.4,311.7" fill="none" stroke="#6c6c6c" stroke-width="1.25"/>
<polyline points="112.4,311.7 118.3,312.6" fill="none" stroke="#3434c4" stroke-width="1.15"/>
<polyline points="126.3,312.6 132.3,311.5" fill="none" stroke="#6c6c6c" stroke-width="1.25"/>
<polyline points="132.3,311.5 137.3,308.1" fill="none" stroke="#3434c4" stroke-width="1.15"/>
<polyline points="108.3,342.6 114,341.7" fill="none" stroke="#6c6c6c" stroke-width="1.25"/>
<polyline points="114,341.7 118.8,338.6" fill="none" stroke="#3434c4" stroke-width="1.15"/>
<polyline points="126.8,338.6 131.9,341.5" fill="none" stroke="#6c6c6c" stroke-width="1.25"/>
<polyline points="131.9,341.5 137.8,342.1" fill="none" stroke="#3434c4" stroke-width="1.15"/>
<polyline points="104.8,311.1 104.4,316" fill="none" stroke="#6c6c6c" stroke-width="1.25"/>
<polyline points="104.4,316 106.3,320.6" fill="none" stroke="#3434c4" stroke-width="1.15"/>
<polyline points="106.3,328.6 104.6,334.2" fill="none" stroke="#6c6c6c" stroke-width="1.25"/>
<polyline points="104.6,334.2 105.3,340.1" fill="none" stroke="#3434c4" stroke-width="1.15"/>
<polyline points="140.3,310.6 137.4,315.7" fill="none" stroke="#6c6c6c" stroke-width="1.25"/>
<polyline points="137.4,315.7 136.8,321.6" fill="none" stroke="#3434c4" stroke-width="1.15"/>
<polyline points="136.8,329.6 137.7,335" fill="none" stroke="#6c6c6c" stroke-width="1.25"/>
<polyline points="137.7,335 140.8,339.6" fill="none" stroke="#3434c4" stroke-width="1.15"/>
<polyline points="120.3,317.6 117.8,319.5" fill="none" stroke="#6c6c6c" stroke-width="1.25"/>
<polyline points="117.8,319.5 117.3,322.6" fill="none" stroke="#3434c4" stroke-width="1.15"/>
<polyline points="124.8,317.6 127,321.4" fill="none" stroke="#6c6c6c" stroke-width="1.25"/>
<polyline points="127,321.4 130.8,323.6" fill="none" stroke="#3434c4" stroke-width="1.15"/>
<polyline points="120.8,333.6 120,330.4" fill="none" stroke="#6c6c6c" stroke-width="1.25"/>
<polyline points="120,330.4 117.3,328.6" fill="none" stroke="#3434c4" stroke-width="1.15"/>
<polyline points="125.3,334.1 129.1,331.9" fill="none" stroke="#6c6c6c" stroke-width="1.25"/>
<polyline points="129.1,331.9 131.3,328.1" fill="none" stroke="#3434c4" stroke-width="1.15"/>
<polyline points="111.3,324.6 114.1,326.3" fill="none" stroke="#6c6c6c" stroke-width="1.25"/>
<polyline points="114.1,326.3 117.3,325.6" fill="none" stroke="#3434c4" stroke-width="1.15"/>
<polyline points="118.3,313.6 113.5,316.8" fill="none" stroke="#6c6c6c" stroke-width="1.25"/>
<polyline points="113.5,316.8 110.3,321.6" fill="none" stroke="#3434c4" stroke-width="1.15"/>
<polyline points="110.3,328.6 114,333.5" fill="none" stroke="#6c6c6c" stroke-width="1.25"/>
<polyline points="114,333.5 119.3,336.6" fill="none" stroke="#3434c4" stroke-width="1.15"/>
<line x1="116.4" y1="325.4" x2="115.7" y2="327.7" stroke="#3838c0" stroke-width="0.9" stroke-linecap="round"/>
<line x1="124.6" y1="323.8" x2="124.7" y2="321.4" stroke="#707070" stroke-width="0.9" stroke-linecap="round"/>
<line x1="115.1" y1="326.9" x2="114.8" y2="324.5" stroke="#a8a8a8" stroke-width="0.9" stroke-linecap="round"/>
<line x1="119.7" y1="325.3" x2="117.4" y2="326" stroke="#283060" stroke-width="0.9" stroke-linecap="round"/>
<line x1="123.9" y1="325" x2="122.1" y2="326.6" stroke="#c8c8c8" stroke-width="0.9" stroke-linecap="round"/>
<line x1="119.7" y1="325" x2="118.5" y2="327.1" stroke="#3838c0" stroke-width="0.9" stroke-linecap="round"/>
<line x1="120.9" y1="322.9" x2="119" y2="324.5" stroke="#707070" stroke-width="0.9" stroke-linecap="round"/>
<line x1="123.6" y1="325.1" x2="121.4" y2="325.8" stroke="#a8a8a8" stroke-width="0.9" stroke-linecap="round"/>
<line x1="123.7" y1="327.3" x2="121.3" y2="327.4" stroke="#283060" stroke-width="0.9" stroke-linecap="round"/>
<line x1="119.1" y1="330.9" x2="117.4" y2="329.3" stroke="#c8c8c8" stroke-width="0.9" stroke-linecap="round"/>
<line x1="114.9" y1="324.4" x2="113" y2="325.8" stroke="#3838c0" stroke-width="0.9" stroke-linecap="round"/>
<line x1="124.7" y1="325" x2="122.9" y2="326.6" stroke="#707070" stroke-width="0.9" stroke-linecap="round"/>
<line x1="114.3" y1="327.2" x2="112.4" y2="325.7" stroke="#a8a8a8" stroke-width="0.9" stroke-linecap="round"/>
<line x1="125.8" y1="326" x2="123.8" y2="327.3" stroke="#283060" stroke-width="0.9" stroke-linecap="round"/>
<line x1="119.3" y1="328.3" x2="120" y2="330.6" stroke="#c8c8c8" stroke-width="0.9" stroke-linecap="round"/>
<line x1="118.3" y1="322.5" x2="115.9" y2="323.1" stroke="#3838c0" stroke-width="0.9" stroke-linecap="round"/>
</g>
<g filter="url(#b05)">
<polygon points="229.7,309.3 226.5,312.3 222.3,311 221.3,306.7 224.5,303.7 228.7,305" fill="none" stroke="#6c6c6c" stroke-width="1.35" stroke-linejoin="round"/>
<path d="M229.7 309.3L231.8 310M226.5 312.3L227 314.4M222.3 311L220.7 312.5M221.3 306.7L219.2 306M224.5 303.7L224 301.6M228.7 305L230.3 303.5" stroke="#dcdcd0" stroke-width="0.9" fill="none"/>
<polygon points="266.9,310.3 262.7,311.8 259.4,309 260.1,304.7 264.3,303.2 267.6,306" fill="none" stroke="#6c6c6c" stroke-width="1.35" stroke-linejoin="round"/>
<path d="M266.9 310.3L268.5 311.8M262.7 311.8L262.3 314M259.4 309L257.3 309.7M260.1 304.7L258.5 303.2M264.3 303.2L264.7 301M267.6 306L269.7 305.3" stroke="#dcdcd0" stroke-width="0.9" fill="none"/>
<polygon points="228.5,349.9 224.1,349.7 222.1,345.8 224.5,342.1 228.9,342.3 230.9,346.2" fill="none" stroke="#6c6c6c" stroke-width="1.35" stroke-linejoin="round"/>
<path d="M228.5 349.9L229.5 351.9M224.1 349.7L222.9 351.5M222.1 345.8L219.9 345.7M224.5 342.1L223.5 340.1M228.9 342.3L230.1 340.5M230.9 346.2L233.1 346.3" stroke="#dcdcd0" stroke-width="0.9" fill="none"/>
<polygon points="264.3,349.9 260.4,348 260,343.6 263.7,341.1 267.6,343 268,347.4" fill="none" stroke="#6c6c6c" stroke-width="1.35" stroke-linejoin="round"/>
<path d="M264.3 349.9L264.5 352.1M260.4 348L258.5 349.2M260 343.6L258.1 342.6M263.7 341.1L263.5 338.9M267.6 343L269.5 341.8M268 347.4L269.9 348.4" stroke="#dcdcd0" stroke-width="0.9" fill="none"/>
<polygon points="248.4,315.9 246.1,319.1 242.2,318.7 240.6,315.1 242.9,311.9 246.8,312.3" fill="none" stroke="#6c6c6c" stroke-width="1.3" stroke-linejoin="round"/>
<path d="M248.4 315.9L250.6 316.1M246.1 319.1L247 321.1M242.2 318.7L240.9 320.5M240.6 315.1L238.4 314.9M242.9 311.9L242 309.9M246.8 312.3L248.1 310.5" stroke="#dcdcd0" stroke-width="0.9" fill="none"/>
<polygon points="260.5,329.2 257,330.9 253.8,328.7 254.1,324.8 257.6,323.1 260.8,325.3" fill="none" stroke="#6c6c6c" stroke-width="1.3" stroke-linejoin="round"/>
<path d="M260.5 329.2L262.3 330.4M257 330.9L256.8 333.1M253.8 328.7L251.8 329.6M254.1 324.8L252.3 323.6M257.6 323.1L257.8 320.9M260.8 325.3L262.8 324.4" stroke="#dcdcd0" stroke-width="0.9" fill="none"/>
<polygon points="246.8,342 242.9,341.8 241.1,338.3 243.2,335 247.1,335.2 248.9,338.7" fill="none" stroke="#6c6c6c" stroke-width="1.3" stroke-linejoin="round"/>
<path d="M246.8 342L247.8 343.9M242.9 341.8L241.7 343.6M241.1 338.3L238.9 338.2M243.2 335L242.2 333.1M247.1 335.2L248.3 333.4M248.9 338.7L251.1 338.8" stroke="#dcdcd0" stroke-width="0.9" fill="none"/>
<polygon points="229.4,329.9 226.1,327.9 226.2,324 229.6,322.1 232.9,324.1 232.8,328" fill="none" stroke="#6c6c6c" stroke-width="1.3" stroke-linejoin="round"/>
<path d="M229.4 329.9L229.3 332.1M226.1 327.9L224.1 328.9M226.2 324L224.3 322.8M229.6 322.1L229.7 319.9M232.9 324.1L234.9 323.1M232.8 328L234.7 329.2" stroke="#dcdcd0" stroke-width="0.9" fill="none"/>
<polyline points="229.5,310 234.6,313.1" fill="none" stroke="#6c6c6c" stroke-width="1.25"/>
<polyline points="234.6,313.1 240.5,314" fill="none" stroke="#3434c4" stroke-width="1.15"/>
<polyline points="248.5,314 254.5,312.9" fill="none" stroke="#6c6c6c" stroke-width="1.25"/>
<polyline points="254.5,312.9 259.5,309.5" fill="none" stroke="#3434c4" stroke-width="1.15"/>
<polyline points="230.5,344 236.2,343.1" fill="none" stroke="#6c6c6c" stroke-width="1.25"/>
<polyline points="236.2,343.1 241,340" fill="none" stroke="#3434c4" stroke-width="1.15"/>
<polyline points="249,340 254.1,342.9" fill="none" stroke="#6c6c6c" stroke-width="1.25"/>
<polyline points="254.1,342.9 260,343.5" fill="none" stroke="#3434c4" stroke-width="1.15"/>
<polyline points="227,312.5 226.6,317.4" fill="none" stroke="#6c6c6c" stroke-width="1.25"/>
<polyline points="226.6,317.4 228.5,322" fill="none" stroke="#3434c4" stroke-width="1.15"/>
<polyline points="228.5,330 226.8,335.6" fill="none" stroke="#6c6c6c" stroke-width="1.25"/>
<polyline points="226.8,335.6 227.5,341.5" fill="none" stroke="#3434c4" stroke-width="1.15"/>
<polyline points="262.5,312 259.6,317.1" fill="none" stroke="#6c6c6c" stroke-width="1.25"/>
<polyline points="259.6,317.1 259,323" fill="none" stroke="#3434c4" stroke-width="1.15"/>
<polyline points="259,331 259.9,336.4" fill="none" stroke="#6c6c6c" stroke-width="1.25"/>
<polyline points="259.9,336.4 263,341" fill="none" stroke="#3434c4" stroke-width="1.15"/>
<polyline points="242.5,319 240,320.9" fill="none" stroke="#6c6c6c" stroke-width="1.25"/>
<polyline points="240,320.9 239.5,324" fill="none" stroke="#3434c4" stroke-width="1.15"/>
<polyline points="247,319 249.2,322.8" fill="none" stroke="#6c6c6c" stroke-width="1.25"/>
<polyline points="249.2,322.8 253,325" fill="none" stroke="#3434c4" stroke-width="1.15"/>
<polyline points="243,335 242.2,331.8" fill="none" stroke="#6c6c6c" stroke-width="1.25"/>
<polyline points="242.2,331.8 239.5,330" fill="none" stroke="#3434c4" stroke-width="1.15"/>
<polyline points="247.5,335.5 251.3,333.3" fill="none" stroke="#6c6c6c" stroke-width="1.25"/>
<polyline points="251.3,333.3 253.5,329.5" fill="none" stroke="#3434c4" stroke-width="1.15"/>
<polyline points="233.5,326 236.3,327.7" fill="none" stroke="#6c6c6c" stroke-width="1.25"/>
<polyline points="236.3,327.7 239.5,327" fill="none" stroke="#3434c4" stroke-width="1.15"/>
<polyline points="240.5,315 235.7,318.2" fill="none" stroke="#6c6c6c" stroke-width="1.25"/>
<polyline points="235.7,318.2 232.5,323" fill="none" stroke="#3434c4" stroke-width="1.15"/>
<polyline points="232.5,330 236.2,334.9" fill="none" stroke="#6c6c6c" stroke-width="1.25"/>
<polyline points="236.2,334.9 241.5,338" fill="none" stroke="#3434c4" stroke-width="1.15"/>
<line x1="247.3" y1="325.5" x2="246.3" y2="323.3" stroke="#3838c0" stroke-width="0.9" stroke-linecap="round"/>
<line x1="239.7" y1="329.3" x2="241.9" y2="330.2" stroke="#707070" stroke-width="0.9" stroke-linecap="round"/>
<line x1="246.3" y1="329.5" x2="247.5" y2="327.4" stroke="#a8a8a8" stroke-width="0.9" stroke-linecap="round"/>
<line x1="241.7" y1="331.7" x2="239.9" y2="330.1" stroke="#283060" stroke-width="0.9" stroke-linecap="round"/>
<line x1="243.5" y1="328" x2="241.3" y2="329" stroke="#c8c8c8" stroke-width="0.9" stroke-linecap="round"/>
<line x1="242.5" y1="327" x2="241.1" y2="328.9" stroke="#3838c0" stroke-width="0.9" stroke-linecap="round"/>
<line x1="243.7" y1="326.3" x2="241.3" y2="326.9" stroke="#707070" stroke-width="0.9" stroke-linecap="round"/>
<line x1="243.6" y1="324.9" x2="245.9" y2="324.1" stroke="#a8a8a8" stroke-width="0.9" stroke-linecap="round"/>
<line x1="240.7" y1="324.5" x2="243.1" y2="324.5" stroke="#283060" stroke-width="0.9" stroke-linecap="round"/>
<line x1="236.9" y1="326.9" x2="237" y2="329.3" stroke="#c8c8c8" stroke-width="0.9" stroke-linecap="round"/>
<line x1="236.7" y1="328.6" x2="237.9" y2="326.4" stroke="#3838c0" stroke-width="0.9" stroke-linecap="round"/>
<line x1="245.2" y1="330.2" x2="245.4" y2="327.8" stroke="#707070" stroke-width="0.9" stroke-linecap="round"/>
<line x1="239.7" y1="331.5" x2="241.6" y2="330.1" stroke="#a8a8a8" stroke-width="0.9" stroke-linecap="round"/>
<line x1="241.2" y1="328.1" x2="243.5" y2="328.6" stroke="#283060" stroke-width="0.9" stroke-linecap="round"/>
<line x1="243.2" y1="328.4" x2="243.1" y2="330.8" stroke="#c8c8c8" stroke-width="0.9" stroke-linecap="round"/>
<line x1="243" y1="327.2" x2="244" y2="329.4" stroke="#3838c0" stroke-width="0.9" stroke-linecap="round"/>
<polygon points="228.3,311.4 235.5,312.4 241.9,313.3 247.1,317.9 248.4,326.9 246.5,337.3 240.6,341.8 232.9,345 229,341.2 229.6,332.1 228.3,321.8" fill="none" stroke="#c81a1a" stroke-width="2.0" stroke-linejoin="round"/>
<polygon points="246.8,316.7 244.6,319.2 241.2,318.5 240.2,315.3 242.4,312.8 245.8,313.5" fill="none" stroke="#c81a1a" stroke-width="1.4" stroke-linejoin="round"/>
<polygon points="247,340.1 244.1,341.9 241.1,340.3 241,336.9 243.9,335.1 246.9,336.7" fill="none" stroke="#c81a1a" stroke-width="1.4" stroke-linejoin="round"/>
<rect x="227" y="322" width="2.2" height="4" fill="#2424c8"/>
<rect x="227.5" y="326.5" width="2.2" height="2.4" fill="#c86418"/>
</g>
<text x="372" y="281.2" font-size="22" text-anchor="start" fill="#000" >(d)</text>
<g filter="url(#b05)">
<path d="M474.6 262.5L472.7 265.3L469.1 264.8L467.4 261.5L469.3 258.7L472.9 259.2ZM470.3 274.9L466.7 275.1L464.4 272.2L465.7 269.1L469.3 268.9L471.6 271.8ZM465.7 286.7L462.5 287.3L459.8 284.7L460.3 281.3L463.5 280.7L466.2 283.3ZM458.7 298.5L455 299.4L452.3 296.9L453.3 293.5L457 292.6L459.7 295.1ZM451.3 309L447.6 309.5L445.3 306.5L446.7 303L450.4 302.5L452.7 305.5ZM445.9 316.9L442.6 317.5L440.7 314.7L442.1 311.1L445.4 310.5L447.3 313.3ZM480.5 290.9L476.9 291.5L474.5 288.6L475.5 285.1L479.1 284.5L481.5 287.4ZM491.7 290.7L489.1 293.5L485.5 292.8L484.3 289.3L486.9 286.5L490.5 287.2ZM500 293.8L496.6 295.1L493.5 293.3L494 290.2L497.4 288.9L500.5 290.7ZM489 304L486.2 305.7L483.2 303.8L483 300L485.8 298.3L488.8 300.2ZM483.5 312.7L481.4 315.5L477.8 314.8L476.5 311.3L478.6 308.5L482.2 309.2ZM475.8 324.7L472.4 325.4L470.6 322.8L472.2 319.3L475.6 318.6L477.4 321.2ZM474.4 330L472.6 333.3L469.2 333.3L467.6 330L469.4 326.7L472.8 326.7ZM460.7 279L458.6 282.1L454.9 281.8L453.3 278.4L455.5 275.2L459.2 275.6ZM504.4 286.4L501.2 286.8L499.4 283.8L500.8 280.3L504.1 279.9L505.9 282.9ZM451.5 296.4L448.9 299L445.2 298L444.2 294.5L446.8 292L450.5 292.9ZM474.6 285.4L472.5 288.2L468.7 288L467 285L469.1 282.2L472.9 282.4ZM495 284.7L492.4 287.2L489.6 286.1L489.3 282.4L491.8 279.9L494.7 281.1ZM467.7 295.3L464 295.7L461.7 292.7L463 289.3L466.7 288.9L469.1 291.9ZM484.7 297.6L481.1 298.2L478.5 295.6L479.4 292.2L483 291.5L485.6 294.2ZM500.1 302.3L496.5 303.1L494.2 300.4L495.5 296.9L499.1 296.1L501.5 298.8ZM465.2 269L461.6 270.1L459.1 267.5L460.2 263.9L463.8 262.9L466.3 265.5ZM458.4 290.1L455.6 292.1L452.4 290.3L452.1 286.5L454.9 284.6L458 286.4ZM469.1 264.8L468.8 266.9L469.3 268.9M469.1 264.8L467.6 264.5L466.3 265.5M464.4 272.2L462 274.3L459.2 275.6M459.8 284.7L458.2 284.7L458 286.4M455 299.4L452.2 300.2L450.4 302.5M459.7 295.1L460.9 294.1L461.7 292.7M447.6 309.5L446.2 309.4L445.4 310.5M450.4 302.5L450.4 300.4L448.9 299M481.5 287.4L482.8 288.6L484.3 289.3M491.7 290.7L492.8 290.3L494 290.2M485.5 292.8L485.5 295.5L485.8 298.3M500.5 290.7L499.9 288.6L501.2 286.8M494 290.2L492.5 289.1L492.4 287.2M486.2 305.7L484.1 307.3L482.2 309.2M488.8 300.2L491.5 300.7L494.2 300.4M477.8 314.8L475.7 316.1L475.6 318.6M454.9 281.8L454.9 283.2L454.9 284.6M499.4 283.8L497 283.5L495 284.7M450.5 292.9L451.9 291.9L452.4 290.3M468.7 288L467.6 288.2L466.7 288.9M461.7 292.7L460.6 290.6L458.4 290.1M468.8 266.9L466.4 267M467.6 264.5L467 262.1M462 274.3L463.3 276.3M458.2 284.7L456.5 283M452.2 300.2L450.9 298.2M460.9 294.1L462.8 295.6M446.2 309.4L445.3 307.2M450.4 300.4L452.6 299.5M482.8 288.6L481.4 290.5M492.8 290.3L492.3 287.9M485.5 295.5L483.2 295.7M499.9 288.6L497.5 288.1M492.5 289.1L490.4 290.2M484.1 307.3L482.5 305.5M491.5 300.7L491.4 303.1M475.7 316.1L473.7 314.9M454.9 283.2L457.3 283.2M497 283.5L496.5 281.1M451.9 291.9L453.8 293.3M467.6 288.2L466.6 286M460.6 290.6L462.1 288.7M474.6 262.5L477.3 262.9M472.7 265.3L473.9 267.5M467.4 261.5L463.9 261M469.3 258.7L467.7 255.7M467.7 255.7L468.8 254M467.7 255.7L465.6 255.6M470.3 274.9L472 277.1M472 277.1L471.2 279M472 277.1L474 276.7M466.7 275.1L465.8 277.2M471.6 271.8L474 271.7M474 271.7L475.1 273.5M474 271.7L474.9 269.9M465.7 286.7L467.7 288.6M467.7 288.6L467.1 290.6M467.7 288.6L469.7 288.1M453.3 293.5L451.5 291.8M451.5 291.8L452 289.8M451.5 291.8L449.6 292.4M451.3 309L453.5 311.7M453.5 311.7L452.7 313.6M453.5 311.7L455.5 311.4M445.3 306.5L442.5 306.9M446.7 303L444.6 300.3M452.7 305.5L456.3 305M442.6 317.5L441.4 320.7M440.7 314.7L437.9 315.2M442.1 311.1L440.5 308.8M447.3 313.3L450.1 312.8M476.9 291.5L475.9 294.8M475.9 294.8L473.9 295.2M475.9 294.8L477.3 296.3M474.5 288.6L471.7 289.1M471.7 289.1L470.4 287.5M471.7 289.1L471.1 291M479.1 284.5L479.8 282.2M489.1 293.5L489.9 296.1M486.9 286.5L486.1 284.1M500 293.8L502.9 295.4M493.5 293.3L490.6 294.4M497.4 288.9L497.9 285.8M489 304L491.6 305.7M491.6 305.7L491.5 307.7M491.6 305.7L493.4 304.7M483.2 303.8L480.1 305.7M480.1 305.7L478.3 304.7M480.1 305.7L480.3 307.7M483 300L480.3 298.2M483.5 312.7L487 313.5M475.8 324.7L477.4 326.9M470.6 322.8L468.4 323.2M468.4 323.2L467 321.7M468.4 323.2L467.8 325.2M472.2 319.3L470.6 317.1M477.4 321.2L480.3 320.6M474.4 330L477.4 330M477.4 330L478.4 331.8M477.4 330L478.4 328.2M472.6 333.3L473.8 335.7M473.8 335.7L472.6 337.4M473.8 335.7L475.8 335.8M469.2 333.3L467.9 335.5M467.9 335.5L465.9 335.5M467.9 335.5L469 337.3M467.6 330L465 330M465 330L464 328.2M465 330L464 331.8M469.4 326.7L468.4 324.6M460.7 279L463.2 279.2M453.3 278.4L451 278.2M451 278.2L450.2 276.3M451 278.2L449.9 279.9M455.5 275.2L454.1 272.2M504.4 286.4L506.3 289.4M500.8 280.3L499.3 277.8M499.3 277.8L500.3 276M499.3 277.8L497.2 277.9M504.1 279.9L505.3 276.8M505.3 276.8L507.3 276.6M505.3 276.8L504 275.2M505.9 282.9L508.1 282.6M508.1 282.6L509.4 284.2M508.1 282.6L508.9 280.7M445.2 298L442.9 300.3M444.2 294.5L441 293.7M446.8 292L445.9 288.9M472.9 282.4L474.3 280.4M489.3 282.4L486.2 281.2M491.8 279.9L491.6 277.1M494.7 281.1L497.2 278.6M497.2 278.6L499.2 279.2M497.2 278.6L496.6 276.6M467.7 295.3L469.5 297.6M469.5 297.6L468.7 299.5M469.5 297.6L471.5 297.3M464 295.7L463 298.1M469.1 291.9L471.6 291.7M481.1 298.2L480.3 301.2M480.3 301.2L478.3 301.7M480.3 301.2L481.8 302.6M478.5 295.6L475.1 296.2M483 291.5L483.7 289M500.1 302.3L501.9 304.4M496.5 303.1L495.6 305.6M499.1 296.1L500.1 293.4M501.5 298.8L504.9 298M504.9 298L506.3 299.6M504.9 298L505.5 296.1M461.6 270.1L460.8 272.7M459.1 267.5L456.6 268.2M460.2 263.9L458 261.7M458 261.7L458.6 259.7M458 261.7L456 262.2M463.8 262.9L464.6 260.5M452.1 286.5L449.3 284.9M449.3 284.9L449.3 282.9M449.3 284.9L447.5 286" fill="none" stroke="#9c940c" stroke-width="2" stroke-linecap="round" stroke-linejoin="round"/>
<path d="M474.6 262.5L472.7 265.3L469.1 264.8L467.4 261.5L469.3 258.7L472.9 259.2ZM470.3 274.9L466.7 275.1L464.4 272.2L465.7 269.1L469.3 268.9L471.6 271.8ZM465.7 286.7L462.5 287.3L459.8 284.7L460.3 281.3L463.5 280.7L466.2 283.3ZM458.7 298.5L455 299.4L452.3 296.9L453.3 293.5L457 292.6L459.7 295.1ZM451.3 309L447.6 309.5L445.3 306.5L446.7 303L450.4 302.5L452.7 305.5ZM445.9 316.9L442.6 317.5L440.7 314.7L442.1 311.1L445.4 310.5L447.3 313.3ZM480.5 290.9L476.9 291.5L474.5 288.6L475.5 285.1L479.1 284.5L481.5 287.4ZM491.7 290.7L489.1 293.5L485.5 292.8L484.3 289.3L486.9 286.5L490.5 287.2ZM500 293.8L496.6 295.1L493.5 293.3L494 290.2L497.4 288.9L500.5 290.7ZM489 304L486.2 305.7L483.2 303.8L483 300L485.8 298.3L488.8 300.2ZM483.5 312.7L481.4 315.5L477.8 314.8L476.5 311.3L478.6 308.5L482.2 309.2ZM475.8 324.7L472.4 325.4L470.6 322.8L472.2 319.3L475.6 318.6L477.4 321.2ZM474.4 330L472.6 333.3L469.2 333.3L467.6 330L469.4 326.7L472.8 326.7ZM460.7 279L458.6 282.1L454.9 281.8L453.3 278.4L455.5 275.2L459.2 275.6ZM504.4 286.4L501.2 286.8L499.4 283.8L500.8 280.3L504.1 279.9L505.9 282.9ZM451.5 296.4L448.9 299L445.2 298L444.2 294.5L446.8 292L450.5 292.9ZM474.6 285.4L472.5 288.2L468.7 288L467 285L469.1 282.2L472.9 282.4ZM495 284.7L492.4 287.2L489.6 286.1L489.3 282.4L491.8 279.9L494.7 281.1ZM467.7 295.3L464 295.7L461.7 292.7L463 289.3L466.7 288.9L469.1 291.9ZM484.7 297.6L481.1 298.2L478.5 295.6L479.4 292.2L483 291.5L485.6 294.2ZM500.1 302.3L496.5 303.1L494.2 300.4L495.5 296.9L499.1 296.1L501.5 298.8ZM465.2 269L461.6 270.1L459.1 267.5L460.2 263.9L463.8 262.9L466.3 265.5ZM458.4 290.1L455.6 292.1L452.4 290.3L452.1 286.5L454.9 284.6L458 286.4ZM469.1 264.8L468.8 266.9L469.3 268.9M469.1 264.8L467.6 264.5L466.3 265.5M464.4 272.2L462 274.3L459.2 275.6M459.8 284.7L458.2 284.7L458 286.4M455 299.4L452.2 300.2L450.4 302.5M459.7 295.1L460.9 294.1L461.7 292.7M447.6 309.5L446.2 309.4L445.4 310.5M450.4 302.5L450.4 300.4L448.9 299M481.5 287.4L482.8 288.6L484.3 289.3M491.7 290.7L492.8 290.3L494 290.2M485.5 292.8L485.5 295.5L485.8 298.3M500.5 290.7L499.9 288.6L501.2 286.8M494 290.2L492.5 289.1L492.4 287.2M486.2 305.7L484.1 307.3L482.2 309.2M488.8 300.2L491.5 300.7L494.2 300.4M477.8 314.8L475.7 316.1L475.6 318.6M454.9 281.8L454.9 283.2L454.9 284.6M499.4 283.8L497 283.5L495 284.7M450.5 292.9L451.9 291.9L452.4 290.3M468.7 288L467.6 288.2L466.7 288.9M461.7 292.7L460.6 290.6L458.4 290.1M468.8 266.9L466.4 267M467.6 264.5L467 262.1M462 274.3L463.3 276.3M458.2 284.7L456.5 283M452.2 300.2L450.9 298.2M460.9 294.1L462.8 295.6M446.2 309.4L445.3 307.2M450.4 300.4L452.6 299.5M482.8 288.6L481.4 290.5M492.8 290.3L492.3 287.9M485.5 295.5L483.2 295.7M499.9 288.6L497.5 288.1M492.5 289.1L490.4 290.2M484.1 307.3L482.5 305.5M491.5 300.7L491.4 303.1M475.7 316.1L473.7 314.9M454.9 283.2L457.3 283.2M497 283.5L496.5 281.1M451.9 291.9L453.8 293.3M467.6 288.2L466.6 286M460.6 290.6L462.1 288.7M474.6 262.5L477.3 262.9M472.7 265.3L473.9 267.5M467.4 261.5L463.9 261M469.3 258.7L467.7 255.7M467.7 255.7L468.8 254M467.7 255.7L465.6 255.6M470.3 274.9L472 277.1M472 277.1L471.2 279M472 277.1L474 276.7M466.7 275.1L465.8 277.2M471.6 271.8L474 271.7M474 271.7L475.1 273.5M474 271.7L474.9 269.9M465.7 286.7L467.7 288.6M467.7 288.6L467.1 290.6M467.7 288.6L469.7 288.1M453.3 293.5L451.5 291.8M451.5 291.8L452 289.8M451.5 291.8L449.6 292.4M451.3 309L453.5 311.7M453.5 311.7L452.7 313.6M453.5 311.7L455.5 311.4M445.3 306.5L442.5 306.9M446.7 303L444.6 300.3M452.7 305.5L456.3 305M442.6 317.5L441.4 320.7M440.7 314.7L437.9 315.2M442.1 311.1L440.5 308.8M447.3 313.3L450.1 312.8M476.9 291.5L475.9 294.8M475.9 294.8L473.9 295.2M475.9 294.8L477.3 296.3M474.5 288.6L471.7 289.1M471.7 289.1L470.4 287.5M471.7 289.1L471.1 291M479.1 284.5L479.8 282.2M489.1 293.5L489.9 296.1M486.9 286.5L486.1 284.1M500 293.8L502.9 295.4M493.5 293.3L490.6 294.4M497.4 288.9L497.9 285.8M489 304L491.6 305.7M491.6 305.7L491.5 307.7M491.6 305.7L493.4 304.7M483.2 303.8L480.1 305.7M480.1 305.7L478.3 304.7M480.1 305.7L480.3 307.7M483 300L480.3 298.2M483.5 312.7L487 313.5M475.8 324.7L477.4 326.9M470.6 322.8L468.4 323.2M468.4 323.2L467 321.7M468.4 323.2L467.8 325.2M472.2 319.3L470.6 317.1M477.4 321.2L480.3 320.6M474.4 330L477.4 330M477.4 330L478.4 331.8M477.4 330L478.4 328.2M472.6 333.3L473.8 335.7M473.8 335.7L472.6 337.4M473.8 335.7L475.8 335.8M469.2 333.3L467.9 335.5M467.9 335.5L465.9 335.5M467.9 335.5L469 337.3M467.6 330L465 330M465 330L464 328.2M465 330L464 331.8M469.4 326.7L468.4 324.6M460.7 279L463.2 279.2M453.3 278.4L451 278.2M451 278.2L450.2 276.3M451 278.2L449.9 279.9M455.5 275.2L454.1 272.2M504.4 286.4L506.3 289.4M500.8 280.3L499.3 277.8M499.3 277.8L500.3 276M499.3 277.8L497.2 277.9M504.1 279.9L505.3 276.8M505.3 276.8L507.3 276.6M505.3 276.8L504 275.2M505.9 282.9L508.1 282.6M508.1 282.6L509.4 284.2M508.1 282.6L508.9 280.7M445.2 298L442.9 300.3M444.2 294.5L441 293.7M446.8 292L445.9 288.9M472.9 282.4L474.3 280.4M489.3 282.4L486.2 281.2M491.8 279.9L491.6 277.1M494.7 281.1L497.2 278.6M497.2 278.6L499.2 279.2M497.2 278.6L496.6 276.6M467.7 295.3L469.5 297.6M469.5 297.6L468.7 299.5M469.5 297.6L471.5 297.3M464 295.7L463 298.1M469.1 291.9L471.6 291.7M481.1 298.2L480.3 301.2M480.3 301.2L478.3 301.7M480.3 301.2L481.8 302.6M478.5 295.6L475.1 296.2M483 291.5L483.7 289M500.1 302.3L501.9 304.4M496.5 303.1L495.6 305.6M499.1 296.1L500.1 293.4M501.5 298.8L504.9 298M504.9 298L506.3 299.6M504.9 298L505.5 296.1M461.6 270.1L460.8 272.7M459.1 267.5L456.6 268.2M460.2 263.9L458 261.7M458 261.7L458.6 259.7M458 261.7L456 262.2M463.8 262.9L464.6 260.5M452.1 286.5L449.3 284.9M449.3 284.9L449.3 282.9M449.3 284.9L447.5 286" fill="none" stroke="#d6ce20" stroke-width="1.2" stroke-linecap="round" stroke-linejoin="round"/>
<path d="M399.3 318L396.5 320.6L393.2 319.6L392.7 316L395.5 313.4L398.8 314.4ZM411.4 314.5L408.2 316.1L404.8 314.6L404.6 311.5L407.8 309.9L411.2 311.4ZM422.5 312.7L418.9 313.6L416.4 310.9L417.5 307.3L421.1 306.4L423.6 309.1ZM436.3 300.8L433.1 302.6L429.8 300.8L429.7 297.2L432.9 295.4L436.2 297.2ZM439.9 316.2L436.4 317.5L433.4 315.3L434.1 311.8L437.6 310.5L440.6 312.7ZM429.8 331.3L426.2 332.5L423.4 330.1L424.2 326.7L427.8 325.5L430.6 327.9ZM447.1 332.9L443.5 333.5L441.4 330.6L442.9 327.1L446.5 326.5L448.6 329.4ZM456.5 336.3L453.4 338.6L450 337.3L449.5 333.7L452.6 331.4L456 332.7ZM414.6 340.8L411 341.3L408.4 338.5L409.4 335.2L413 334.7L415.6 337.5ZM415.5 351.2L412.5 353.5L409 352.3L408.5 348.8L411.5 346.5L415 347.7ZM418.6 361.8L415.3 363.5L412.6 361.6L413.4 358.2L416.7 356.5L419.4 358.4ZM433.9 346.5L430.4 347.6L427.6 345.1L428.1 341.5L431.6 340.4L434.4 342.9ZM429.6 338.7L426.3 339.9L423.1 337.9L423.3 334.7L426.5 333.5L429.7 335.5ZM434.2 308.2L430.9 309.6L427.7 307.8L427.8 304.5L431.2 303.2L434.4 305ZM446.9 319.4L444.1 321.9L440.5 320.7L439.7 317L442.5 314.6L446.1 315.8ZM432.4 321.2L428.7 321.5L426.4 318.5L427.9 315.2L431.7 314.9L433.9 317.9ZM439 331.9L436.7 334.7L433.1 334L431.6 330.6L433.9 327.8L437.5 328.5ZM423.9 325.9L421.8 329L418 328.9L416.3 325.7L418.4 322.6L422.2 322.7ZM435.4 292.2L432.5 294.4L429 293.7L428.4 290.7L431.3 288.5L434.8 289.2ZM445.2 339.5L441.6 340.5L438.8 338.2L439.7 335L443.3 334L446.1 336.3ZM446.6 309L444.3 311.6L440.6 310.8L439.3 307.3L441.7 304.7L445.3 305.6ZM398.8 314.4L401.8 315.6L404.8 314.6M411.2 311.4L413.8 311L416.4 310.9M423.6 309.1L426 309.6L427.7 307.8M434.1 311.8L434.4 310L434.2 308.2M427.8 325.5L428.9 323.6L428.7 321.5M447.1 332.9L448 334L449.5 333.7M446.5 326.5L446.3 323.7L444.1 321.9M441.4 330.6L440.7 332.2L439 331.9M450 337.3L447.8 337.7L446.1 336.3M411 341.3L412 343.8L411.5 346.5M412.5 353.5L413.3 355.8L413.4 358.2M428.1 341.5L427 340.9L426.3 339.9M429.7 335.5L431.3 334.5L433.1 334M423.3 334.7L421.4 332.1L421.8 329M430.9 309.6L430.8 312.3L431.7 314.9M434.2 308.2L436.6 306.6L439.3 307.3M442.5 314.6L442.8 312.8L444.3 311.6M426.4 318.5L424.4 320.7L422.2 322.7M436.7 334.7L438.2 335.1L439.7 335M401.8 315.6L401.7 318M413.8 311L413.6 308.6M426 309.6L426.8 311.8M434.4 310L436.8 310.1M428.9 323.6L431.3 324.1M448 334L447.3 336.3M446.3 323.7L448.5 322.6M440.7 332.2L441.8 334.3M447.8 337.7L447.2 340.1M412 343.8L414.3 343.6M413.3 355.8L415.6 355.3M427 340.9L425.4 342.7M431.3 334.5L430.3 332.3M421.4 332.1L419.1 332.7M430.8 312.3L428.5 312.7M436.6 306.6L436.2 304.2M442.8 312.8L440.7 311.5M424.4 320.7L426.1 322.4M438.2 335.1L438 337.5M399.3 318L401.6 318.7M396.5 320.6L396.9 323.2M393.2 319.6L391.5 321.1M392.7 316L389.7 315.1M395.5 313.4L395 310.2M395 310.2L396.6 308.9M395 310.2L393.1 309.4M411.4 314.5L414.6 315.9M408.2 316.1L408.3 318.5M404.6 311.5L401.9 310.3M407.8 309.9L407.7 306.5M418.9 313.6L417.9 316.9M417.5 307.3L415.4 305M421.1 306.4L421.8 303.9M429.7 297.2L426.8 295.6M426.8 295.6L426.8 293.6M426.8 295.6L425.1 296.7M436.2 297.2L438.8 295.7M436.4 317.5L435.9 320.1M435.9 320.1L434 320.8M435.9 320.1L437.5 321.4M430.6 327.9L433.9 326.9M442.9 327.1L441.4 325.1M441.4 325.1L442.3 323.2M441.4 325.1L439.4 325.3M456.5 336.3L459.7 337.5M453.4 338.6L453.8 341.9M453.8 341.9L452.1 343.1M453.8 341.9L455.7 342.7M452.6 331.4L452.2 327.9M456 332.7L458.3 331M414.6 340.8L416.3 342.7M416.3 342.7L415.7 344.7M416.3 342.7L418.3 342.2M408.4 338.5L405.8 338.9M409.4 335.2L407.7 333.4M413 334.7L413.8 332M415.6 337.5L418.4 337M415.5 351.2L418.6 352.4M418.6 352.4L419 354.4M418.6 352.4L420.2 351M409 352.3L406.7 354.1M408.5 348.8L405.3 347.6M415 347.7L417.2 346M417.2 346L419.1 346.8M417.2 346L416.9 344M418.6 361.8L421.5 363.9M421.5 363.9L421.3 365.9M421.5 363.9L423.3 363M415.3 363.5L414.5 366.8M414.5 366.8L412.6 367.4M414.5 366.8L416.1 368.1M412.6 361.6L409.9 363M409.9 363L408.2 361.8M409.9 363L409.7 365M419.4 358.4L422.2 357M422.2 357L423.9 358.2M422.2 357L422.3 354.9M433.9 346.5L436.3 348.6M436.3 348.6L435.9 350.6M436.3 348.6L438.2 347.9M430.4 347.6L430 350.1M427.6 345.1L424.8 346M424.8 346L423.3 344.6M424.8 346L424.5 348M431.6 340.4L432 337.5M429.6 338.7L431.7 339.9M423.1 337.9L420.8 338.8M420.8 338.8L419.2 337.4M420.8 338.8L420.4 340.8M427.8 304.5L424.7 302.8M434.4 305L436.8 304M436.8 304L438.4 305.2M436.8 304L437 301.9M446.9 319.4L450.1 320.5M440.5 320.7L437.9 323.1M446.1 315.8L448.1 314M432.4 321.2L434.5 324M434.5 324L433.6 325.9M434.5 324L436.5 323.7M427.9 315.2L426.1 312.7M433.9 317.9L437.1 317.6M433.9 327.8L432.5 324.6M432.5 324.6L433.8 323M432.5 324.6L430.5 324.3M437.5 328.5L439.2 326.4M418 328.9L416 331.8M416 331.8L414 331.7M416 331.8L416.9 333.7M416.3 325.7L413.6 325.6M418.4 322.6L417.2 320.3M417.2 320.3L418.4 318.6M417.2 320.3L415.2 320.3M435.4 292.2L438.6 292.9M428.4 290.7L425 290M431.3 288.5L430.8 285.9M434.8 289.2L437.5 287.1M441.6 340.5L440.7 343.7M438.8 338.2L435.3 339.1M441.7 304.7L440.4 301.5M445.3 305.6L447.4 303.3" fill="none" stroke="#8e0c0c" stroke-width="2" stroke-linecap="round" stroke-linejoin="round"/>
<path d="M399.3 318L396.5 320.6L393.2 319.6L392.7 316L395.5 313.4L398.8 314.4ZM411.4 314.5L408.2 316.1L404.8 314.6L404.6 311.5L407.8 309.9L411.2 311.4ZM422.5 312.7L418.9 313.6L416.4 310.9L417.5 307.3L421.1 306.4L423.6 309.1ZM436.3 300.8L433.1 302.6L429.8 300.8L429.7 297.2L432.9 295.4L436.2 297.2ZM439.9 316.2L436.4 317.5L433.4 315.3L434.1 311.8L437.6 310.5L440.6 312.7ZM429.8 331.3L426.2 332.5L423.4 330.1L424.2 326.7L427.8 325.5L430.6 327.9ZM447.1 332.9L443.5 333.5L441.4 330.6L442.9 327.1L446.5 326.5L448.6 329.4ZM456.5 336.3L453.4 338.6L450 337.3L449.5 333.7L452.6 331.4L456 332.7ZM414.6 340.8L411 341.3L408.4 338.5L409.4 335.2L413 334.7L415.6 337.5ZM415.5 351.2L412.5 353.5L409 352.3L408.5 348.8L411.5 346.5L415 347.7ZM418.6 361.8L415.3 363.5L412.6 361.6L413.4 358.2L416.7 356.5L419.4 358.4ZM433.9 346.5L430.4 347.6L427.6 345.1L428.1 341.5L431.6 340.4L434.4 342.9ZM429.6 338.7L426.3 339.9L423.1 337.9L423.3 334.7L426.5 333.5L429.7 335.5ZM434.2 308.2L430.9 309.6L427.7 307.8L427.8 304.5L431.2 303.2L434.4 305ZM446.9 319.4L444.1 321.9L440.5 320.7L439.7 317L442.5 314.6L446.1 315.8ZM432.4 321.2L428.7 321.5L426.4 318.5L427.9 315.2L431.7 314.9L433.9 317.9ZM439 331.9L436.7 334.7L433.1 334L431.6 330.6L433.9 327.8L437.5 328.5ZM423.9 325.9L421.8 329L418 328.9L416.3 325.7L418.4 322.6L422.2 322.7ZM435.4 292.2L432.5 294.4L429 293.7L428.4 290.7L431.3 288.5L434.8 289.2ZM445.2 339.5L441.6 340.5L438.8 338.2L439.7 335L443.3 334L446.1 336.3ZM446.6 309L444.3 311.6L440.6 310.8L439.3 307.3L441.7 304.7L445.3 305.6ZM398.8 314.4L401.8 315.6L404.8 314.6M411.2 311.4L413.8 311L416.4 310.9M423.6 309.1L426 309.6L427.7 307.8M434.1 311.8L434.4 310L434.2 308.2M427.8 325.5L428.9 323.6L428.7 321.5M447.1 332.9L448 334L449.5 333.7M446.5 326.5L446.3 323.7L444.1 321.9M441.4 330.6L440.7 332.2L439 331.9M450 337.3L447.8 337.7L446.1 336.3M411 341.3L412 343.8L411.5 346.5M412.5 353.5L413.3 355.8L413.4 358.2M428.1 341.5L427 340.9L426.3 339.9M429.7 335.5L431.3 334.5L433.1 334M423.3 334.7L421.4 332.1L421.8 329M430.9 309.6L430.8 312.3L431.7 314.9M434.2 308.2L436.6 306.6L439.3 307.3M442.5 314.6L442.8 312.8L444.3 311.6M426.4 318.5L424.4 320.7L422.2 322.7M436.7 334.7L438.2 335.1L439.7 335M401.8 315.6L401.7 318M413.8 311L413.6 308.6M426 309.6L426.8 311.8M434.4 310L436.8 310.1M428.9 323.6L431.3 324.1M448 334L447.3 336.3M446.3 323.7L448.5 322.6M440.7 332.2L441.8 334.3M447.8 337.7L447.2 340.1M412 343.8L414.3 343.6M413.3 355.8L415.6 355.3M427 340.9L425.4 342.7M431.3 334.5L430.3 332.3M421.4 332.1L419.1 332.7M430.8 312.3L428.5 312.7M436.6 306.6L436.2 304.2M442.8 312.8L440.7 311.5M424.4 320.7L426.1 322.4M438.2 335.1L438 337.5M399.3 318L401.6 318.7M396.5 320.6L396.9 323.2M393.2 319.6L391.5 321.1M392.7 316L389.7 315.1M395.5 313.4L395 310.2M395 310.2L396.6 308.9M395 310.2L393.1 309.4M411.4 314.5L414.6 315.9M408.2 316.1L408.3 318.5M404.6 311.5L401.9 310.3M407.8 309.9L407.7 306.5M418.9 313.6L417.9 316.9M417.5 307.3L415.4 305M421.1 306.4L421.8 303.9M429.7 297.2L426.8 295.6M426.8 295.6L426.8 293.6M426.8 295.6L425.1 296.7M436.2 297.2L438.8 295.7M436.4 317.5L435.9 320.1M435.9 320.1L434 320.8M435.9 320.1L437.5 321.4M430.6 327.9L433.9 326.9M442.9 327.1L441.4 325.1M441.4 325.1L442.3 323.2M441.4 325.1L439.4 325.3M456.5 336.3L459.7 337.5M453.4 338.6L453.8 341.9M453.8 341.9L452.1 343.1M453.8 341.9L455.7 342.7M452.6 331.4L452.2 327.9M456 332.7L458.3 331M414.6 340.8L416.3 342.7M416.3 342.7L415.7 344.7M416.3 342.7L418.3 342.2M408.4 338.5L405.8 338.9M409.4 335.2L407.7 333.4M413 334.7L413.8 332M415.6 337.5L418.4 337M415.5 351.2L418.6 352.4M418.6 352.4L419 354.4M418.6 352.4L420.2 351M409 352.3L406.7 354.1M408.5 348.8L405.3 347.6M415 347.7L417.2 346M417.2 346L419.1 346.8M417.2 346L416.9 344M418.6 361.8L421.5 363.9M421.5 363.9L421.3 365.9M421.5 363.9L423.3 363M415.3 363.5L414.5 366.8M414.5 366.8L412.6 367.4M414.5 366.8L416.1 368.1M412.6 361.6L409.9 363M409.9 363L408.2 361.8M409.9 363L409.7 365M419.4 358.4L422.2 357M422.2 357L423.9 358.2M422.2 357L422.3 354.9M433.9 346.5L436.3 348.6M436.3 348.6L435.9 350.6M436.3 348.6L438.2 347.9M430.4 347.6L430 350.1M427.6 345.1L424.8 346M424.8 346L423.3 344.6M424.8 346L424.5 348M431.6 340.4L432 337.5M429.6 338.7L431.7 339.9M423.1 337.9L420.8 338.8M420.8 338.8L419.2 337.4M420.8 338.8L420.4 340.8M427.8 304.5L424.7 302.8M434.4 305L436.8 304M436.8 304L438.4 305.2M436.8 304L437 301.9M446.9 319.4L450.1 320.5M440.5 320.7L437.9 323.1M446.1 315.8L448.1 314M432.4 321.2L434.5 324M434.5 324L433.6 325.9M434.5 324L436.5 323.7M427.9 315.2L426.1 312.7M433.9 317.9L437.1 317.6M433.9 327.8L432.5 324.6M432.5 324.6L433.8 323M432.5 324.6L430.5 324.3M437.5 328.5L439.2 326.4M418 328.9L416 331.8M416 331.8L414 331.7M416 331.8L416.9 333.7M416.3 325.7L413.6 325.6M418.4 322.6L417.2 320.3M417.2 320.3L418.4 318.6M417.2 320.3L415.2 320.3M435.4 292.2L438.6 292.9M428.4 290.7L425 290M431.3 288.5L430.8 285.9M434.8 289.2L437.5 287.1M441.6 340.5L440.7 343.7M438.8 338.2L435.3 339.1M441.7 304.7L440.4 301.5M445.3 305.6L447.4 303.3" fill="none" stroke="#d01414" stroke-width="1.2" stroke-linecap="round" stroke-linejoin="round"/>
<path d="M441.9 345.2L438.6 345.3L436.7 342L438.1 338.8L441.4 338.7L443.3 342ZM455.2 342.1L451.9 343.3L448.8 341.2L448.8 337.9L452.1 336.7L455.2 338.8ZM465.5 343.5L462.4 344.7L459.9 342.3L460.5 338.5L463.6 337.3L466.1 339.7ZM440.4 354.5L438.9 357.3L435.5 356.7L433.6 353.5L435.1 350.7L438.5 351.3ZM451.1 357.1L448 359.3L444.9 358.2L444.9 354.9L448 352.7L451.1 353.8ZM461 354.4L457.6 355.7L454.6 353.3L455 349.6L458.4 348.3L461.4 350.7ZM442.5 370.2L439.4 371.7L436.8 369.5L437.5 365.8L440.6 364.3L443.2 366.5ZM455.2 370.9L452.3 373.4L449.1 372.5L448.8 369.1L451.7 366.6L454.9 367.5ZM435.2 376.5L433.3 379.5L430.1 379L428.8 375.5L430.7 372.5L433.9 373ZM471.2 363.4L468.9 365.7L465.7 364.3L464.8 360.6L467.1 358.3L470.3 359.7ZM479.7 367.4L476.5 369.4L473.3 368L473.3 364.6L476.5 362.6L479.7 364ZM438.9 362.7L436.2 364.5L432.6 363.3L431.7 360.2L434.5 358.4L438.1 359.6ZM435.9 343.2L433 344.9L429.5 343.4L428.9 340.2L431.8 338.5L435.3 340ZM451.7 347.5L449.6 349.7L446 348.7L444.5 345.5L446.5 343.4L450.1 344.3ZM448.9 337.6L445.5 338.7L442.5 336.4L443 332.9L446.4 331.7L449.4 334.1ZM443.3 342L446.2 342.5L448.8 341.2M438.6 345.3L438 348.3L438.5 351.3M441.9 345.2L443.1 346.6L444.5 345.5M441.4 338.7L442.7 337.9L442.5 336.4M455.2 342.1L457.5 341.7L459.9 342.3M462.4 344.7L460.3 346.5L458.4 348.3M440.4 354.5L442.6 355.7L444.9 354.9M451.1 353.8L452.9 354.3L454.6 353.3M448 352.7L448.1 350.8L449.6 349.7M455 349.6L453.7 348.1L451.7 347.5M443.2 366.5L446 367.8L448.8 369.1M436.8 369.5L435.8 371.6L433.9 373M471.2 363.4L471.7 364.9L473.3 364.6M446.5 343.4L446.9 340.9L445.5 338.7M446.2 342.5L446.5 344.9M438 348.3L435.6 348.2M443.1 346.6L442.8 348.9M442.7 337.9L444.8 339M457.5 341.7L457.6 339.3M460.3 346.5L458.7 344.7M442.6 355.7L442.3 358.1M452.9 354.3L453.3 356.7M448.1 350.8L446 349.7M453.7 348.1L454.9 346.1M446 367.8L447 365.6M435.8 371.6L437.6 373.2M471.7 364.9L470.5 367M446.9 340.9L449.2 340.3M438.1 338.8L436.3 335.9M455.2 338.8L457.8 337.8M465.5 343.5L467.2 345.2M460.5 338.5L458.8 336.8M463.6 337.3L464 335M464 335L466 334.3M464 335L462.4 333.7M466.1 339.7L468.7 338.7M438.9 357.3L440.6 360.2M433.6 353.5L430.2 353M435.1 350.7L433.6 348M451.1 357.1L454.3 358.1M454.3 358.1L454.6 360.2M454.3 358.1L455.8 356.7M448 359.3L448 361.7M444.9 358.2L442.9 359.6M442.9 359.6L441.1 358.7M442.9 359.6L443.2 361.7M461 354.4L463.4 356.3M457.6 355.7L457.3 358.3M457.3 358.3L455.3 359.1M457.3 358.3L458.9 359.5M461.4 350.7L463.8 349.7M440.6 364.3L441.1 361.1M455.2 370.9L458.1 371.7M452.3 373.4L452.7 376.9M449.1 372.5L446.7 374.6M454.9 367.5L457.6 365.1M457.6 365.1L459.5 365.8M457.6 365.1L457.1 363.1M435.2 376.5L437.8 377M433.3 379.5L434.5 382.7M430.1 379L428.8 381M428.8 381L426.8 380.8M428.8 381L429.8 382.8M428.8 375.5L425.3 374.9M430.7 372.5L429.8 370.1M468.9 365.7L469.5 368.6M467.1 358.3L466.4 355.2M466.4 355.2L467.9 353.8M466.4 355.2L464.4 354.6M470.3 359.7L472.8 357.2M479.7 367.4L482 368.4M476.5 369.4L476.5 371.9M473.3 368L470.6 369.7M470.6 369.7L468.8 368.7M470.6 369.7L470.7 371.7M476.5 362.6L476.5 360.1M479.7 364L482.5 362.3M438.9 362.7L441.4 363.5M441.4 363.5L441.8 365.5M441.4 363.5L442.9 362.1M431.7 360.2L429.5 359.5M438.1 359.6L440.2 358.2M433 344.9L433.6 348.2M433.6 348.2L432 349.5M433.6 348.2L435.5 348.8M429.5 343.4L427.2 344.8M428.9 340.2L426.3 339.2M431.8 338.5L431.2 335.5M435.3 340L437.9 338.4M446 348.7L443.8 351M443 332.9L440.3 330.8M446.4 331.7L446.7 329.4M446.7 329.4L448.7 328.6M446.7 329.4L445.1 328.2M449.4 334.1L452 333.2" fill="none" stroke="#0a0a8c" stroke-width="2.1" stroke-linecap="round" stroke-linejoin="round"/>
<path d="M441.9 345.2L438.6 345.3L436.7 342L438.1 338.8L441.4 338.7L443.3 342ZM455.2 342.1L451.9 343.3L448.8 341.2L448.8 337.9L452.1 336.7L455.2 338.8ZM465.5 343.5L462.4 344.7L459.9 342.3L460.5 338.5L463.6 337.3L466.1 339.7ZM440.4 354.5L438.9 357.3L435.5 356.7L433.6 353.5L435.1 350.7L438.5 351.3ZM451.1 357.1L448 359.3L444.9 358.2L444.9 354.9L448 352.7L451.1 353.8ZM461 354.4L457.6 355.7L454.6 353.3L455 349.6L458.4 348.3L461.4 350.7ZM442.5 370.2L439.4 371.7L436.8 369.5L437.5 365.8L440.6 364.3L443.2 366.5ZM455.2 370.9L452.3 373.4L449.1 372.5L448.8 369.1L451.7 366.6L454.9 367.5ZM435.2 376.5L433.3 379.5L430.1 379L428.8 375.5L430.7 372.5L433.9 373ZM471.2 363.4L468.9 365.7L465.7 364.3L464.8 360.6L467.1 358.3L470.3 359.7ZM479.7 367.4L476.5 369.4L473.3 368L473.3 364.6L476.5 362.6L479.7 364ZM438.9 362.7L436.2 364.5L432.6 363.3L431.7 360.2L434.5 358.4L438.1 359.6ZM435.9 343.2L433 344.9L429.5 343.4L428.9 340.2L431.8 338.5L435.3 340ZM451.7 347.5L449.6 349.7L446 348.7L444.5 345.5L446.5 343.4L450.1 344.3ZM448.9 337.6L445.5 338.7L442.5 336.4L443 332.9L446.4 331.7L449.4 334.1ZM443.3 342L446.2 342.5L448.8 341.2M438.6 345.3L438 348.3L438.5 351.3M441.9 345.2L443.1 346.6L444.5 345.5M441.4 338.7L442.7 337.9L442.5 336.4M455.2 342.1L457.5 341.7L459.9 342.3M462.4 344.7L460.3 346.5L458.4 348.3M440.4 354.5L442.6 355.7L444.9 354.9M451.1 353.8L452.9 354.3L454.6 353.3M448 352.7L448.1 350.8L449.6 349.7M455 349.6L453.7 348.1L451.7 347.5M443.2 366.5L446 367.8L448.8 369.1M436.8 369.5L435.8 371.6L433.9 373M471.2 363.4L471.7 364.9L473.3 364.6M446.5 343.4L446.9 340.9L445.5 338.7M446.2 342.5L446.5 344.9M438 348.3L435.6 348.2M443.1 346.6L442.8 348.9M442.7 337.9L444.8 339M457.5 341.7L457.6 339.3M460.3 346.5L458.7 344.7M442.6 355.7L442.3 358.1M452.9 354.3L453.3 356.7M448.1 350.8L446 349.7M453.7 348.1L454.9 346.1M446 367.8L447 365.6M435.8 371.6L437.6 373.2M471.7 364.9L470.5 367M446.9 340.9L449.2 340.3M438.1 338.8L436.3 335.9M455.2 338.8L457.8 337.8M465.5 343.5L467.2 345.2M460.5 338.5L458.8 336.8M463.6 337.3L464 335M464 335L466 334.3M464 335L462.4 333.7M466.1 339.7L468.7 338.7M438.9 357.3L440.6 360.2M433.6 353.5L430.2 353M435.1 350.7L433.6 348M451.1 357.1L454.3 358.1M454.3 358.1L454.6 360.2M454.3 358.1L455.8 356.7M448 359.3L448 361.7M444.9 358.2L442.9 359.6M442.9 359.6L441.1 358.7M442.9 359.6L443.2 361.7M461 354.4L463.4 356.3M457.6 355.7L457.3 358.3M457.3 358.3L455.3 359.1M457.3 358.3L458.9 359.5M461.4 350.7L463.8 349.7M440.6 364.3L441.1 361.1M455.2 370.9L458.1 371.7M452.3 373.4L452.7 376.9M449.1 372.5L446.7 374.6M454.9 367.5L457.6 365.1M457.6 365.1L459.5 365.8M457.6 365.1L457.1 363.1M435.2 376.5L437.8 377M433.3 379.5L434.5 382.7M430.1 379L428.8 381M428.8 381L426.8 380.8M428.8 381L429.8 382.8M428.8 375.5L425.3 374.9M430.7 372.5L429.8 370.1M468.9 365.7L469.5 368.6M467.1 358.3L466.4 355.2M466.4 355.2L467.9 353.8M466.4 355.2L464.4 354.6M470.3 359.7L472.8 357.2M479.7 367.4L482 368.4M476.5 369.4L476.5 371.9M473.3 368L470.6 369.7M470.6 369.7L468.8 368.7M470.6 369.7L470.7 371.7M476.5 362.6L476.5 360.1M479.7 364L482.5 362.3M438.9 362.7L441.4 363.5M441.4 363.5L441.8 365.5M441.4 363.5L442.9 362.1M431.7 360.2L429.5 359.5M438.1 359.6L440.2 358.2M433 344.9L433.6 348.2M433.6 348.2L432 349.5M433.6 348.2L435.5 348.8M429.5 343.4L427.2 344.8M428.9 340.2L426.3 339.2M431.8 338.5L431.2 335.5M435.3 340L437.9 338.4M446 348.7L443.8 351M443 332.9L440.3 330.8M446.4 331.7L446.7 329.4M446.7 329.4L448.7 328.6M446.7 329.4L445.1 328.2M449.4 334.1L452 333.2" fill="none" stroke="#1414cc" stroke-width="1.4" stroke-linecap="round" stroke-linejoin="round"/>
<path d="M440 393.2L436.4 393.2L434.4 390L436 386.8L439.6 386.8L441.6 390ZM456.4 392.4L453.3 394.6L449.9 393.2L449.6 389.6L452.7 387.4L456.1 388.8ZM471.5 388.1L469.7 391.3L466.2 391.2L464.5 387.9L466.3 384.7L469.8 384.8ZM481.4 391.2L479.3 394.3L475.8 394.1L474.6 390.8L476.7 387.7L480.2 387.9ZM442.6 406.5L439 407.6L436.4 405.1L437.4 401.5L441 400.4L443.6 402.9ZM459.6 408.3L456.8 410.6L453.2 409.3L452.4 405.7L455.2 403.4L458.8 404.7ZM466.9 420.9L463.6 422.7L460.7 420.8L461.1 417.1L464.4 415.3L467.3 417.2ZM431.3 426L428.1 428.2L424.9 427.1L424.7 424L427.9 421.8L431.1 422.9ZM443.6 428.4L441.9 431.2L438.2 430.8L436.4 427.6L438.1 424.8L441.8 425.2ZM454.5 432.4L451.1 433.7L448.6 431.3L449.5 427.6L452.9 426.3L455.4 428.7ZM472.1 431.9L469.2 434.3L466.1 433.4L465.9 430.1L468.8 427.7L471.9 428.6ZM481.4 434.9L479.2 438L475.8 438.1L474.6 435.1L476.8 432L480.2 431.9ZM466.4 406.5L462.7 407.2L460.3 404.6L461.6 401.1L465.3 400.3L467.7 403ZM460.7 398.2L458.3 401.1L454.6 400.5L453.4 396.9L455.8 394L459.5 394.6ZM449.4 407.6L446.1 408.4L444.4 405.9L446 402.6L449.4 401.8L451.1 404.3ZM458 416.6L455.6 418.4L452.4 416.7L451.6 413.2L454 411.4L457.2 413.1ZM447 385.8L444.3 388.4L440.8 387.4L440.1 383.8L442.8 381.2L446.3 382.2ZM449.6 389.6L448.4 387.6L447 385.8M471.5 388.1L473.2 389.3L474.6 390.8M455.2 403.4L455.3 401.9L454.6 400.5M453.2 409.3L452.5 410.7L454 411.4M461.1 417.1L459.5 417.4L458 416.6M431.3 426L433.5 427.7L436.4 427.6M443.6 428.4L446.4 429.3L448.6 431.3M472.1 431.9L473.5 433.4L474.6 435.1M461.6 401.1L461.9 399.4L460.7 398.2M454.6 400.5L452.8 402.3L451.1 404.3M449.4 407.6L451.3 410L454 411.4M448.4 387.6L450.4 386.2M473.2 389.3L474.8 387.5M455.3 401.9L457.6 401.4M452.5 410.7L450.3 411.6M459.5 417.4L459.1 419.8M433.5 427.7L432.9 430M446.4 429.3L447.6 427.2M473.5 433.4L475.3 432M461.9 399.4L464.2 398.7M452.8 402.3L451 400.7M451.3 410L449.8 411.9M436.4 393.2L434.8 396.3M434.4 390L432 389.9M436 386.8L434.3 384M441.6 390L444.6 390.1M444.6 390.1L445.6 391.9M444.6 390.1L445.6 388.3M449.9 393.2L447 395.2M452.7 387.4L452.4 384.4M452.4 384.4L454.1 383.2M452.4 384.4L450.5 383.5M456.1 388.8L458.3 387.3M469.7 391.3L471.2 394.2M464.5 387.9L461 387.8M461 387.8L460 386M461 387.8L459.9 389.6M466.3 384.7L464.8 381.9M469.8 384.8L471.3 382M471.3 382L473.3 382M471.3 382L470.2 380.2M481.4 391.2L484.3 391.4M479.3 394.3L480.4 397.2M475.8 394.1L474 396.7M474 396.7L472 396.5M474 396.7L474.9 398.5M476.7 387.7L475.9 385.5M475.9 385.5L477.2 383.9M475.9 385.5L473.8 385.2M480.2 387.9L481.5 386M436.4 405.1L434.1 405.7M434.1 405.7L432.7 404.3M434.1 405.7L433.7 407.8M437.4 401.5L435.4 399.6M441 400.4L441.7 397.9M443.6 402.9L446.5 402.1M459.6 408.3L462.6 409.4M456.8 410.6L457.3 413M466.9 420.9L469.1 422.3M460.7 420.8L458.5 422.1M464.4 415.3L464.7 412M428.1 428.2L428.3 431M428.3 431L426.5 432.1M428.3 431L430.1 431.9M424.9 427.1L423 428.4M424.7 424L422.5 423.2M427.9 421.8L427.7 418.4M427.7 418.4L429.5 417.4M427.7 418.4L425.9 417.5M431.1 422.9L433.7 421.1M438.1 424.8L436.9 422.7M441.8 425.2L443.5 422.6M454.5 432.4L456.6 434.4M451.1 433.7L450.3 436.8M449.5 427.6L446.9 425.1M455.4 428.7L458.5 427.6M466.1 433.4L463.3 435.6M463.3 435.6L461.4 434.9M463.3 435.6L463.7 437.7M465.9 430.1L462.7 429.2M468.8 427.7L468.7 425.1M468.7 425.1L470.4 424M468.7 425.1L466.8 424.2M471.9 428.6L474.2 426.7M481.4 434.9L484.9 434.8M479.2 438L480.3 440.8M480.3 440.8L479 442.4M480.3 440.8L482.3 441.1M475.8 438.1L474 440.6M476.8 432L475.9 429.6M475.9 429.6L477.2 428M475.9 429.6L473.8 429.3M480.2 431.9L481.7 429.9M466.4 406.5L468.3 408.6M462.7 407.2L461.6 410.2M465.3 400.3L466.1 398.1M467.7 403L470.8 402.4M458.3 401.1L459.3 403.9M446.1 408.4L445 410.6M446 402.6L444.3 400M444.3 400L445.2 398.1M444.3 400L442.2 400.1M449.4 401.8L450.6 399.6M455.6 418.4L456.2 421.3M456.2 421.3L454.6 422.6M456.2 421.3L458.1 421.9M452.4 416.7L450.2 418.4M450.2 418.4L448.3 417.6M450.2 418.4L450.5 420.4M451.6 413.2L448.7 411.7M448.7 411.7L448.7 409.6M448.7 411.7L447 412.8M444.3 388.4L444.7 390.7M440.1 383.8L437.4 383M442.8 381.2L442.3 378.6M446.3 382.2L448.1 380.4" fill="none" stroke="#5c3434" stroke-width="1.8" stroke-linecap="round" stroke-linejoin="round"/>
<path d="M440 393.2L436.4 393.2L434.4 390L436 386.8L439.6 386.8L441.6 390ZM456.4 392.4L453.3 394.6L449.9 393.2L449.6 389.6L452.7 387.4L456.1 388.8ZM471.5 388.1L469.7 391.3L466.2 391.2L464.5 387.9L466.3 384.7L469.8 384.8ZM481.4 391.2L479.3 394.3L475.8 394.1L474.6 390.8L476.7 387.7L480.2 387.9ZM442.6 406.5L439 407.6L436.4 405.1L437.4 401.5L441 400.4L443.6 402.9ZM459.6 408.3L456.8 410.6L453.2 409.3L452.4 405.7L455.2 403.4L458.8 404.7ZM466.9 420.9L463.6 422.7L460.7 420.8L461.1 417.1L464.4 415.3L467.3 417.2ZM431.3 426L428.1 428.2L424.9 427.1L424.7 424L427.9 421.8L431.1 422.9ZM443.6 428.4L441.9 431.2L438.2 430.8L436.4 427.6L438.1 424.8L441.8 425.2ZM454.5 432.4L451.1 433.7L448.6 431.3L449.5 427.6L452.9 426.3L455.4 428.7ZM472.1 431.9L469.2 434.3L466.1 433.4L465.9 430.1L468.8 427.7L471.9 428.6ZM481.4 434.9L479.2 438L475.8 438.1L474.6 435.1L476.8 432L480.2 431.9ZM466.4 406.5L462.7 407.2L460.3 404.6L461.6 401.1L465.3 400.3L467.7 403ZM460.7 398.2L458.3 401.1L454.6 400.5L453.4 396.9L455.8 394L459.5 394.6ZM449.4 407.6L446.1 408.4L444.4 405.9L446 402.6L449.4 401.8L451.1 404.3ZM458 416.6L455.6 418.4L452.4 416.7L451.6 413.2L454 411.4L457.2 413.1ZM447 385.8L444.3 388.4L440.8 387.4L440.1 383.8L442.8 381.2L446.3 382.2ZM449.6 389.6L448.4 387.6L447 385.8M471.5 388.1L473.2 389.3L474.6 390.8M455.2 403.4L455.3 401.9L454.6 400.5M453.2 409.3L452.5 410.7L454 411.4M461.1 417.1L459.5 417.4L458 416.6M431.3 426L433.5 427.7L436.4 427.6M443.6 428.4L446.4 429.3L448.6 431.3M472.1 431.9L473.5 433.4L474.6 435.1M461.6 401.1L461.9 399.4L460.7 398.2M454.6 400.5L452.8 402.3L451.1 404.3M449.4 407.6L451.3 410L454 411.4M448.4 387.6L450.4 386.2M473.2 389.3L474.8 387.5M455.3 401.9L457.6 401.4M452.5 410.7L450.3 411.6M459.5 417.4L459.1 419.8M433.5 427.7L432.9 430M446.4 429.3L447.6 427.2M473.5 433.4L475.3 432M461.9 399.4L464.2 398.7M452.8 402.3L451 400.7M451.3 410L449.8 411.9M436.4 393.2L434.8 396.3M434.4 390L432 389.9M436 386.8L434.3 384M441.6 390L444.6 390.1M444.6 390.1L445.6 391.9M444.6 390.1L445.6 388.3M449.9 393.2L447 395.2M452.7 387.4L452.4 384.4M452.4 384.4L454.1 383.2M452.4 384.4L450.5 383.5M456.1 388.8L458.3 387.3M469.7 391.3L471.2 394.2M464.5 387.9L461 387.8M461 387.8L460 386M461 387.8L459.9 389.6M466.3 384.7L464.8 381.9M469.8 384.8L471.3 382M471.3 382L473.3 382M471.3 382L470.2 380.2M481.4 391.2L484.3 391.4M479.3 394.3L480.4 397.2M475.8 394.1L474 396.7M474 396.7L472 396.5M474 396.7L474.9 398.5M476.7 387.7L475.9 385.5M475.9 385.5L477.2 383.9M475.9 385.5L473.8 385.2M480.2 387.9L481.5 386M436.4 405.1L434.1 405.7M434.1 405.7L432.7 404.3M434.1 405.7L433.7 407.8M437.4 401.5L435.4 399.6M441 400.4L441.7 397.9M443.6 402.9L446.5 402.1M459.6 408.3L462.6 409.4M456.8 410.6L457.3 413M466.9 420.9L469.1 422.3M460.7 420.8L458.5 422.1M464.4 415.3L464.7 412M428.1 428.2L428.3 431M428.3 431L426.5 432.1M428.3 431L430.1 431.9M424.9 427.1L423 428.4M424.7 424L422.5 423.2M427.9 421.8L427.7 418.4M427.7 418.4L429.5 417.4M427.7 418.4L425.9 417.5M431.1 422.9L433.7 421.1M438.1 424.8L436.9 422.7M441.8 425.2L443.5 422.6M454.5 432.4L456.6 434.4M451.1 433.7L450.3 436.8M449.5 427.6L446.9 425.1M455.4 428.7L458.5 427.6M466.1 433.4L463.3 435.6M463.3 435.6L461.4 434.9M463.3 435.6L463.7 437.7M465.9 430.1L462.7 429.2M468.8 427.7L468.7 425.1M468.7 425.1L470.4 424M468.7 425.1L466.8 424.2M471.9 428.6L474.2 426.7M481.4 434.9L484.9 434.8M479.2 438L480.3 440.8M480.3 440.8L479 442.4M480.3 440.8L482.3 441.1M475.8 438.1L474 440.6M476.8 432L475.9 429.6M475.9 429.6L477.2 428M475.9 429.6L473.8 429.3M480.2 431.9L481.7 429.9M466.4 406.5L468.3 408.6M462.7 407.2L461.6 410.2M465.3 400.3L466.1 398.1M467.7 403L470.8 402.4M458.3 401.1L459.3 403.9M446.1 408.4L445 410.6M446 402.6L444.3 400M444.3 400L445.2 398.1M444.3 400L442.2 400.1M449.4 401.8L450.6 399.6M455.6 418.4L456.2 421.3M456.2 421.3L454.6 422.6M456.2 421.3L458.1 421.9M452.4 416.7L450.2 418.4M450.2 418.4L448.3 417.6M450.2 418.4L450.5 420.4M451.6 413.2L448.7 411.7M448.7 411.7L448.7 409.6M448.7 411.7L447 412.8M444.3 388.4L444.7 390.7M440.1 383.8L437.4 383M442.8 381.2L442.3 378.6M446.3 382.2L448.1 380.4" fill="none" stroke="#c28484" stroke-width="1" stroke-linecap="round" stroke-linejoin="round"/>
<path d="M606.9 282.4L603.4 283.8L600.5 281.4L601.1 277.6L604.6 276.2L607.5 278.6ZM613.9 293.1L611.1 294.7L608.2 292.6L608.1 288.9L610.9 287.3L613.8 289.4ZM624.5 300.6L621.1 301.7L618.5 299.1L619.5 295.4L622.9 294.3L625.5 296.9ZM637.7 292.6L635.3 295.6L631.6 294.9L630.3 291.4L632.7 288.4L636.4 289.1ZM646.6 284.4L643.1 285.6L640.5 283.2L641.4 279.6L644.9 278.4L647.5 280.8ZM653.3 276.8L650 277.6L647.7 274.8L648.7 271.2L652 270.4L654.3 273.2ZM639 305.9L636.6 308.6L633.6 307.7L633 304.1L635.4 301.4L638.4 302.3ZM648.5 317.3L645.9 319.6L642.4 318.3L641.5 314.7L644.1 312.4L647.6 313.7ZM651.1 331.7L647.5 332.4L645.4 329.7L646.9 326.3L650.5 325.6L652.6 328.3ZM633.7 320.2L632 323L628.3 322.8L626.3 319.8L628 317L631.7 317.2ZM606.5 316.8L603.8 319.5L600.3 318.7L599.5 315.2L602.2 312.5L605.7 313.3ZM602.8 326.1L599.3 327.6L596.5 325.5L597.2 321.9L600.7 320.4L603.5 322.5ZM655.9 316L652.6 316.8L649.8 314.3L650.3 310.9L653.6 310L656.4 312.6ZM632.6 310.3L629.2 312L626 310.5L626.2 307.2L629.5 305.5L632.7 307.1ZM638.6 316.8L635.1 317.8L633 315.3L634.4 311.8L637.8 310.8L639.9 313.3ZM636 285.3L633 287.4L630.1 285.7L630.2 282L633.3 280L636.2 281.6ZM629.9 329.8L626.5 330.8L623.7 328.2L624.5 324.5L627.9 323.6L630.6 326.2ZM637.1 329.9L633.5 330.3L631.6 327.4L633.2 323.9L636.8 323.5L638.7 326.5ZM645.6 294.4L643 296.7L639.5 295.4L638.7 291.7L641.3 289.4L644.8 290.8ZM645.9 303.9L642.4 304.9L639.4 302.8L640 299.6L643.5 298.6L646.5 300.8ZM634 300.9L631.2 303.3L627.9 301.9L627.4 298.1L630.2 295.8L633.5 297.2ZM629.5 291.2L626.4 292.1L623.8 289.5L624.3 285.9L627.4 285L630 287.6ZM644.4 326.1L640.9 326.5L638.6 323.4L639.9 320L643.4 319.7L645.7 322.7ZM626 318L622.7 318L620.6 314.9L621.9 311.6L625.2 311.5L627.2 314.7ZM625.5 296.9L626.9 296.8L627.4 298.1M622.9 294.3L624.4 292.7L626.4 292.1M647.5 280.8L648.3 278.8L650 277.6M640.5 283.2L638.6 281.6L636.2 281.6M643.1 285.6L642.6 287.7L641.3 289.4M636.6 308.6L636.9 309.9L637.8 310.8M647.6 313.7L648.8 313.8L649.8 314.3M646.9 326.3L645.8 325L644.4 326.1M628 317L629.3 314.7L629.2 312M631.7 317.2L631.7 315.8L633 315.3M633.7 320.2L636.1 322L638.6 323.4M632.6 310.3L633 311.6L634.4 311.8M629.5 305.5L631.2 305.1L631.2 303.3M635.1 317.8L636.7 320.4L636.8 323.5M638.6 316.8L638.4 318.7L639.9 320M633 315.3L630 315.8L627.2 314.7M627.9 323.6L626 321.1L626 318M639.4 302.8L637 300.8L634 300.9M630.2 295.8L630.7 293.4L629.5 291.2M626.9 296.8L628.1 294.7M624.4 292.7L623.1 290.7M648.3 278.8L646.4 277.3M638.6 281.6L639.5 279.4M642.6 287.7L644.8 288.7M636.9 309.9L634.8 311.1M648.8 313.8L649.3 311.5M645.8 325L645.9 322.6M629.3 314.7L631.7 315.3M631.7 315.8L629.7 314.4M636.1 322L634.7 324M633 311.6L631.5 313.5M631.2 305.1L633.2 306.5M636.7 320.4L639 319.7M638.4 318.7L636.2 319.6M630 315.8L629.8 318.2M626 321.1L623.7 321.9M637 300.8L637.8 298.5M630.7 293.4L633 293M606.9 282.4L608.8 284M603.4 283.8L602.9 287.2M602.9 287.2L600.9 287.9M602.9 287.2L604.5 288.5M600.5 281.4L598 282.4M601.1 277.6L599.3 276.1M599.3 276.1L599.6 274.1M599.3 276.1L597.4 276.9M604.6 276.2L604.9 273.9M607.5 278.6L609.8 277.7M611.1 294.7L611.2 298.2M608.2 292.6L605.8 294.1M610.9 287.3L610.8 284.7M624.5 300.6L626.9 303.2M626.9 303.2L626.3 305.1M626.9 303.2L628.9 302.6M621.1 301.7L620.4 304.2M620.4 304.2L618.4 304.7M620.4 304.2L621.9 305.6M618.5 299.1L615.6 300M619.5 295.4L617 292.8M617 292.8L617.6 290.8M617 292.8L615 293.3M635.3 295.6L636.2 298M636.4 289.1L638.5 286.5M638.5 286.5L640.5 286.9M638.5 286.5L637.7 284.6M646.6 284.4L648.6 286.4M641.4 279.6L639.2 277.4M644.9 278.4L645.8 274.9M653.3 276.8L655 278.9M647.7 274.8L644.9 275.6M644.9 275.6L643.5 274.1M644.9 275.6L644.4 277.6M652 270.4L652.7 267.8M654.3 273.2L657.5 272.3M633 304.1L629.6 303M629.6 303L629.2 301M629.6 303L628.1 304.5M648.5 317.3L650.8 318.1M645.9 319.6L646.7 322.6M646.7 322.6L645.2 324M646.7 322.6L648.7 323.1M651.1 331.7L652.8 333.9M647.5 332.4L646.3 334.9M650.5 325.6L651.9 322.8M651.9 322.8L653.9 322.6M651.9 322.8L650.7 321.1M652.6 328.3L655.1 327.9M606.5 316.8L609 317.4M603.8 319.5L604.5 323M599.5 315.2L596.4 314.4M602.2 312.5L601.7 309.9M605.7 313.3L608.2 310.8M608.2 310.8L610.2 311.4M608.2 310.8L607.6 308.8M602.8 326.1L605.1 327.9M605.1 327.9L604.8 329.9M605.1 327.9L607 327.1M599.3 327.6L598.8 330.2M598.8 330.2L596.8 330.8M598.8 330.2L600.4 331.5M596.5 325.5L594.3 326.4M597.2 321.9L594.7 319.9M603.5 322.5L605.6 321.6M605.6 321.6L607.3 322.9M605.6 321.6L605.9 319.6M655.9 316L657.6 317.6M657.6 317.6L657.1 319.6M657.6 317.6L659.6 317M652.6 316.8L652.1 320.1M650.3 310.9L648.4 309M653.6 310L654 307.5M654 307.5L655.9 306.7M654 307.5L652.4 306.2M656.4 312.6L659.6 311.9M626.2 307.2L623.5 305.9M623.5 305.9L623.4 303.9M623.5 305.9L621.8 307.1M630.2 282L627.1 280.3M633.3 280L633.4 277.4M633.4 277.4L635.2 276.5M633.4 277.4L631.6 276.3M629.9 329.8L631.7 331.6M623.7 328.2L620.7 329M620.7 329L619.2 327.6M620.7 329L620.2 331M637.1 329.9L638.7 332.4M638.7 332.4L637.7 334.2M638.7 332.4L640.8 332.3M633.5 330.3L631.9 333.5M638.7 326.5L641 326.2M645.6 294.4L648.5 295.5M639.5 295.4L637.4 297.1M644.8 290.8L647.1 288.8M645.9 303.9L648.6 305.9M648.6 305.9L648.3 308M648.6 305.9L650.5 305.1M642.4 304.9L641.8 307.7M640 299.6L637.7 297.9M646.5 300.8L649.3 300M627.9 301.9L625.4 303.9M633.5 297.2L636.2 294.9M623.8 289.5L621.2 290.3M621.2 290.3L619.7 288.9M621.2 290.3L620.7 292.4M624.3 285.9L622.2 283.7M622.2 283.7L622.7 281.7M622.2 283.7L620.2 284.3M627.4 285L627.8 282M640.9 326.5L639.9 329.2M645.7 322.7L649.2 322.3M622.7 318L621.6 320.8M620.6 314.9L618 314.9M621.9 311.6L620 308.7M620 308.7L621 306.9M620 308.7L617.9 308.8" fill="none" stroke="#9c940c" stroke-width="2" stroke-linecap="round" stroke-linejoin="round"/>
<path d="M606.9 282.4L603.4 283.8L600.5 281.4L601.1 277.6L604.6 276.2L607.5 278.6ZM613.9 293.1L611.1 294.7L608.2 292.6L608.1 288.9L610.9 287.3L613.8 289.4ZM624.5 300.6L621.1 301.7L618.5 299.1L619.5 295.4L622.9 294.3L625.5 296.9ZM637.7 292.6L635.3 295.6L631.6 294.9L630.3 291.4L632.7 288.4L636.4 289.1ZM646.6 284.4L643.1 285.6L640.5 283.2L641.4 279.6L644.9 278.4L647.5 280.8ZM653.3 276.8L650 277.6L647.7 274.8L648.7 271.2L652 270.4L654.3 273.2ZM639 305.9L636.6 308.6L633.6 307.7L633 304.1L635.4 301.4L638.4 302.3ZM648.5 317.3L645.9 319.6L642.4 318.3L641.5 314.7L644.1 312.4L647.6 313.7ZM651.1 331.7L647.5 332.4L645.4 329.7L646.9 326.3L650.5 325.6L652.6 328.3ZM633.7 320.2L632 323L628.3 322.8L626.3 319.8L628 317L631.7 317.2ZM606.5 316.8L603.8 319.5L600.3 318.7L599.5 315.2L602.2 312.5L605.7 313.3ZM602.8 326.1L599.3 327.6L596.5 325.5L597.2 321.9L600.7 320.4L603.5 322.5ZM655.9 316L652.6 316.8L649.8 314.3L650.3 310.9L653.6 310L656.4 312.6ZM632.6 310.3L629.2 312L626 310.5L626.2 307.2L629.5 305.5L632.7 307.1ZM638.6 316.8L635.1 317.8L633 315.3L634.4 311.8L637.8 310.8L639.9 313.3ZM636 285.3L633 287.4L630.1 285.7L630.2 282L633.3 280L636.2 281.6ZM629.9 329.8L626.5 330.8L623.7 328.2L624.5 324.5L627.9 323.6L630.6 326.2ZM637.1 329.9L633.5 330.3L631.6 327.4L633.2 323.9L636.8 323.5L638.7 326.5ZM645.6 294.4L643 296.7L639.5 295.4L638.7 291.7L641.3 289.4L644.8 290.8ZM645.9 303.9L642.4 304.9L639.4 302.8L640 299.6L643.5 298.6L646.5 300.8ZM634 300.9L631.2 303.3L627.9 301.9L627.4 298.1L630.2 295.8L633.5 297.2ZM629.5 291.2L626.4 292.1L623.8 289.5L624.3 285.9L627.4 285L630 287.6ZM644.4 326.1L640.9 326.5L638.6 323.4L639.9 320L643.4 319.7L645.7 322.7ZM626 318L622.7 318L620.6 314.9L621.9 311.6L625.2 311.5L627.2 314.7ZM625.5 296.9L626.9 296.8L627.4 298.1M622.9 294.3L624.4 292.7L626.4 292.1M647.5 280.8L648.3 278.8L650 277.6M640.5 283.2L638.6 281.6L636.2 281.6M643.1 285.6L642.6 287.7L641.3 289.4M636.6 308.6L636.9 309.9L637.8 310.8M647.6 313.7L648.8 313.8L649.8 314.3M646.9 326.3L645.8 325L644.4 326.1M628 317L629.3 314.7L629.2 312M631.7 317.2L631.7 315.8L633 315.3M633.7 320.2L636.1 322L638.6 323.4M632.6 310.3L633 311.6L634.4 311.8M629.5 305.5L631.2 305.1L631.2 303.3M635.1 317.8L636.7 320.4L636.8 323.5M638.6 316.8L638.4 318.7L639.9 320M633 315.3L630 315.8L627.2 314.7M627.9 323.6L626 321.1L626 318M639.4 302.8L637 300.8L634 300.9M630.2 295.8L630.7 293.4L629.5 291.2M626.9 296.8L628.1 294.7M624.4 292.7L623.1 290.7M648.3 278.8L646.4 277.3M638.6 281.6L639.5 279.4M642.6 287.7L644.8 288.7M636.9 309.9L634.8 311.1M648.8 313.8L649.3 311.5M645.8 325L645.9 322.6M629.3 314.7L631.7 315.3M631.7 315.8L629.7 314.4M636.1 322L634.7 324M633 311.6L631.5 313.5M631.2 305.1L633.2 306.5M636.7 320.4L639 319.7M638.4 318.7L636.2 319.6M630 315.8L629.8 318.2M626 321.1L623.7 321.9M637 300.8L637.8 298.5M630.7 293.4L633 293M606.9 282.4L608.8 284M603.4 283.8L602.9 287.2M602.9 287.2L600.9 287.9M602.9 287.2L604.5 288.5M600.5 281.4L598 282.4M601.1 277.6L599.3 276.1M599.3 276.1L599.6 274.1M599.3 276.1L597.4 276.9M604.6 276.2L604.9 273.9M607.5 278.6L609.8 277.7M611.1 294.7L611.2 298.2M608.2 292.6L605.8 294.1M610.9 287.3L610.8 284.7M624.5 300.6L626.9 303.2M626.9 303.2L626.3 305.1M626.9 303.2L628.9 302.6M621.1 301.7L620.4 304.2M620.4 304.2L618.4 304.7M620.4 304.2L621.9 305.6M618.5 299.1L615.6 300M619.5 295.4L617 292.8M617 292.8L617.6 290.8M617 292.8L615 293.3M635.3 295.6L636.2 298M636.4 289.1L638.5 286.5M638.5 286.5L640.5 286.9M638.5 286.5L637.7 284.6M646.6 284.4L648.6 286.4M641.4 279.6L639.2 277.4M644.9 278.4L645.8 274.9M653.3 276.8L655 278.9M647.7 274.8L644.9 275.6M644.9 275.6L643.5 274.1M644.9 275.6L644.4 277.6M652 270.4L652.7 267.8M654.3 273.2L657.5 272.3M633 304.1L629.6 303M629.6 303L629.2 301M629.6 303L628.1 304.5M648.5 317.3L650.8 318.1M645.9 319.6L646.7 322.6M646.7 322.6L645.2 324M646.7 322.6L648.7 323.1M651.1 331.7L652.8 333.9M647.5 332.4L646.3 334.9M650.5 325.6L651.9 322.8M651.9 322.8L653.9 322.6M651.9 322.8L650.7 321.1M652.6 328.3L655.1 327.9M606.5 316.8L609 317.4M603.8 319.5L604.5 323M599.5 315.2L596.4 314.4M602.2 312.5L601.7 309.9M605.7 313.3L608.2 310.8M608.2 310.8L610.2 311.4M608.2 310.8L607.6 308.8M602.8 326.1L605.1 327.9M605.1 327.9L604.8 329.9M605.1 327.9L607 327.1M599.3 327.6L598.8 330.2M598.8 330.2L596.8 330.8M598.8 330.2L600.4 331.5M596.5 325.5L594.3 326.4M597.2 321.9L594.7 319.9M603.5 322.5L605.6 321.6M605.6 321.6L607.3 322.9M605.6 321.6L605.9 319.6M655.9 316L657.6 317.6M657.6 317.6L657.1 319.6M657.6 317.6L659.6 317M652.6 316.8L652.1 320.1M650.3 310.9L648.4 309M653.6 310L654 307.5M654 307.5L655.9 306.7M654 307.5L652.4 306.2M656.4 312.6L659.6 311.9M626.2 307.2L623.5 305.9M623.5 305.9L623.4 303.9M623.5 305.9L621.8 307.1M630.2 282L627.1 280.3M633.3 280L633.4 277.4M633.4 277.4L635.2 276.5M633.4 277.4L631.6 276.3M629.9 329.8L631.7 331.6M623.7 328.2L620.7 329M620.7 329L619.2 327.6M620.7 329L620.2 331M637.1 329.9L638.7 332.4M638.7 332.4L637.7 334.2M638.7 332.4L640.8 332.3M633.5 330.3L631.9 333.5M638.7 326.5L641 326.2M645.6 294.4L648.5 295.5M639.5 295.4L637.4 297.1M644.8 290.8L647.1 288.8M645.9 303.9L648.6 305.9M648.6 305.9L648.3 308M648.6 305.9L650.5 305.1M642.4 304.9L641.8 307.7M640 299.6L637.7 297.9M646.5 300.8L649.3 300M627.9 301.9L625.4 303.9M633.5 297.2L636.2 294.9M623.8 289.5L621.2 290.3M621.2 290.3L619.7 288.9M621.2 290.3L620.7 292.4M624.3 285.9L622.2 283.7M622.2 283.7L622.7 281.7M622.2 283.7L620.2 284.3M627.4 285L627.8 282M640.9 326.5L639.9 329.2M645.7 322.7L649.2 322.3M622.7 318L621.6 320.8M620.6 314.9L618 314.9M621.9 311.6L620 308.7M620 308.7L621 306.9M620 308.7L617.9 308.8" fill="none" stroke="#d6ce20" stroke-width="1.2" stroke-linecap="round" stroke-linejoin="round"/>
<path d="M586.6 338.7L584.3 341.6L580.7 340.9L579.4 337.3L581.7 334.4L585.3 335.1ZM596.2 346.7L592.8 347.6L590.5 344.9L591.8 341.3L595.2 340.4L597.5 343.1ZM608.5 338.5L604.9 339.6L602.4 337.1L603.5 333.5L607.1 332.4L609.6 334.9ZM612.7 320.9L610.7 324L607 324.1L605.3 321.1L607.3 318L611 317.9ZM621 342.1L617.8 343.8L614.8 341.7L615 337.9L618.2 336.2L621.2 338.3ZM632.5 347L630 349.7L626.5 348.7L625.5 345L628 342.3L631.5 343.3ZM601.8 358.3L598.8 358.1L596.9 354.8L598.2 351.7L601.2 351.9L603.1 355.2ZM611.5 361.9L609.2 364.8L605.7 364.9L604.5 362.1L606.8 359.2L610.3 359.1ZM622.9 353.6L619.5 355.3L616.6 353.7L617.1 350.4L620.5 348.7L623.4 350.3ZM621.7 332.4L619.7 335.7L615.9 335.5L614.2 332.2L616.2 329L619.9 329.1ZM605.1 345.8L602.1 348L598.7 346.4L598.3 342.7L601.3 340.5L604.7 342ZM601.5 336.6L598.1 338L595.1 335.7L595.5 332L599 330.6L602 332.9ZM586.6 338.7L589.4 339.6L591.8 341.3M596.2 346.7L598.2 348.8L598.2 351.7M595.2 340.4L596.2 338.7L598.1 338M609.6 334.9L611.9 337.1L615 337.9M609.6 334.9L611.5 332.9L614.2 332.2M604.9 339.6L604.9 340.8L604.7 342M621 342.1L623.2 343.7L625.5 345M617.8 343.8L619.4 346.1L620.5 348.7M626.5 348.7L625.4 350.3L623.4 350.3M601.8 358.3L603.4 360L604.5 362.1M601.2 351.9L601.3 349.9L602.1 348M601.3 340.5L601 338.5L601.5 336.6M589.4 339.6L590.4 337.5M598.2 348.8L600.4 348M596.2 338.7L594.7 336.8M611.9 337.1L610.7 339.2M611.5 332.9L610.2 330.9M604.9 340.8L607.3 341M623.2 343.7L621.8 345.7M619.4 346.1L621.5 345M625.4 350.3L626.5 352.4M603.4 360L605.4 358.6M601.3 349.9L598.9 349.3M601 338.5L598.6 338.4M580.7 340.9L579.2 342.7M579.2 342.7L577.2 342.3M579.2 342.7L580 344.6M579.4 337.3L576.9 336.8M581.7 334.4L580.6 331.2M580.6 331.2L582 329.7M580.6 331.2L578.6 330.9M585.3 335.1L587.1 332.9M592.8 347.6L591.7 350.8M591.7 350.8L589.7 351.2M591.7 350.8L593.1 352.3M590.5 344.9L587.8 345.7M587.8 345.7L586.3 344.2M587.8 345.7L587.3 347.7M608.5 338.5L610.4 340.4M603.5 333.5L601.3 331.2M601.3 331.2L601.8 329.2M601.3 331.2L599.3 331.8M612.7 320.9L616 320.9M610.7 324L612.4 327M605.3 321.1L601.7 321.1M601.7 321.1L600.6 319.4M601.7 321.1L600.7 323M607.3 318L606 315.7M606 315.7L607.1 313.9M606 315.7L603.9 315.7M611 317.9L612.8 315.3M612.8 315.3L614.9 315.5M612.8 315.3L611.9 313.5M614.8 341.7L612.2 343.1M621.2 338.3L623.3 337.1M623.3 337.1L625 338.2M623.3 337.1L623.3 335.1M632.5 347L634.7 347.6M630 349.7L630.6 352.2M598.8 358.1L597.8 360.8M597.8 360.8L595.7 361.1M597.8 360.8L599.1 362.4M596.9 354.8L593.8 354.7M593.8 354.7L592.9 352.8M593.8 354.7L592.7 356.4M603.1 355.2L605.5 355.3M605.5 355.3L606.4 357.1M605.5 355.3L606.6 353.5M609.2 364.8L610.2 367.2M605.7 364.9L603.6 367.6M603.6 367.6L601.6 367.2M603.6 367.6L604.4 369.5M606.8 359.2L605.6 356.4M610.3 359.1L612 357M622.9 353.6L625.5 355M619.5 355.3L619.1 358.5M616.6 353.7L614.4 354.8M617.1 350.4L614.2 348.8M615.9 335.5L614.3 338.2M614.3 338.2L612.2 338.1M614.3 338.2L615.3 340M616.2 329L614.6 326.1M614.6 326.1L615.7 324.4M614.6 326.1L612.6 326.1M619.9 329.1L621.4 326.7M605.1 345.8L607.7 347.1M607.7 347.1L607.9 349.1M607.7 347.1L609.4 345.8M598.7 346.4L596.7 347.9M595.1 335.7L592.4 336.8M592.4 336.8L590.8 335.5M592.4 336.8L592.1 338.9M599 330.6L599.4 327.4M602 332.9L605.1 331.6" fill="none" stroke="#8e0c0c" stroke-width="2" stroke-linecap="round" stroke-linejoin="round"/>
<path d="M586.6 338.7L584.3 341.6L580.7 340.9L579.4 337.3L581.7 334.4L585.3 335.1ZM596.2 346.7L592.8 347.6L590.5 344.9L591.8 341.3L595.2 340.4L597.5 343.1ZM608.5 338.5L604.9 339.6L602.4 337.1L603.5 333.5L607.1 332.4L609.6 334.9ZM612.7 320.9L610.7 324L607 324.1L605.3 321.1L607.3 318L611 317.9ZM621 342.1L617.8 343.8L614.8 341.7L615 337.9L618.2 336.2L621.2 338.3ZM632.5 347L630 349.7L626.5 348.7L625.5 345L628 342.3L631.5 343.3ZM601.8 358.3L598.8 358.1L596.9 354.8L598.2 351.7L601.2 351.9L603.1 355.2ZM611.5 361.9L609.2 364.8L605.7 364.9L604.5 362.1L606.8 359.2L610.3 359.1ZM622.9 353.6L619.5 355.3L616.6 353.7L617.1 350.4L620.5 348.7L623.4 350.3ZM621.7 332.4L619.7 335.7L615.9 335.5L614.2 332.2L616.2 329L619.9 329.1ZM605.1 345.8L602.1 348L598.7 346.4L598.3 342.7L601.3 340.5L604.7 342ZM601.5 336.6L598.1 338L595.1 335.7L595.5 332L599 330.6L602 332.9ZM586.6 338.7L589.4 339.6L591.8 341.3M596.2 346.7L598.2 348.8L598.2 351.7M595.2 340.4L596.2 338.7L598.1 338M609.6 334.9L611.9 337.1L615 337.9M609.6 334.9L611.5 332.9L614.2 332.2M604.9 339.6L604.9 340.8L604.7 342M621 342.1L623.2 343.7L625.5 345M617.8 343.8L619.4 346.1L620.5 348.7M626.5 348.7L625.4 350.3L623.4 350.3M601.8 358.3L603.4 360L604.5 362.1M601.2 351.9L601.3 349.9L602.1 348M601.3 340.5L601 338.5L601.5 336.6M589.4 339.6L590.4 337.5M598.2 348.8L600.4 348M596.2 338.7L594.7 336.8M611.9 337.1L610.7 339.2M611.5 332.9L610.2 330.9M604.9 340.8L607.3 341M623.2 343.7L621.8 345.7M619.4 346.1L621.5 345M625.4 350.3L626.5 352.4M603.4 360L605.4 358.6M601.3 349.9L598.9 349.3M601 338.5L598.6 338.4M580.7 340.9L579.2 342.7M579.2 342.7L577.2 342.3M579.2 342.7L580 344.6M579.4 337.3L576.9 336.8M581.7 334.4L580.6 331.2M580.6 331.2L582 329.7M580.6 331.2L578.6 330.9M585.3 335.1L587.1 332.9M592.8 347.6L591.7 350.8M591.7 350.8L589.7 351.2M591.7 350.8L593.1 352.3M590.5 344.9L587.8 345.7M587.8 345.7L586.3 344.2M587.8 345.7L587.3 347.7M608.5 338.5L610.4 340.4M603.5 333.5L601.3 331.2M601.3 331.2L601.8 329.2M601.3 331.2L599.3 331.8M612.7 320.9L616 320.9M610.7 324L612.4 327M605.3 321.1L601.7 321.1M601.7 321.1L600.6 319.4M601.7 321.1L600.7 323M607.3 318L606 315.7M606 315.7L607.1 313.9M606 315.7L603.9 315.7M611 317.9L612.8 315.3M612.8 315.3L614.9 315.5M612.8 315.3L611.9 313.5M614.8 341.7L612.2 343.1M621.2 338.3L623.3 337.1M623.3 337.1L625 338.2M623.3 337.1L623.3 335.1M632.5 347L634.7 347.6M630 349.7L630.6 352.2M598.8 358.1L597.8 360.8M597.8 360.8L595.7 361.1M597.8 360.8L599.1 362.4M596.9 354.8L593.8 354.7M593.8 354.7L592.9 352.8M593.8 354.7L592.7 356.4M603.1 355.2L605.5 355.3M605.5 355.3L606.4 357.1M605.5 355.3L606.6 353.5M609.2 364.8L610.2 367.2M605.7 364.9L603.6 367.6M603.6 367.6L601.6 367.2M603.6 367.6L604.4 369.5M606.8 359.2L605.6 356.4M610.3 359.1L612 357M622.9 353.6L625.5 355M619.5 355.3L619.1 358.5M616.6 353.7L614.4 354.8M617.1 350.4L614.2 348.8M615.9 335.5L614.3 338.2M614.3 338.2L612.2 338.1M614.3 338.2L615.3 340M616.2 329L614.6 326.1M614.6 326.1L615.7 324.4M614.6 326.1L612.6 326.1M619.9 329.1L621.4 326.7M605.1 345.8L607.7 347.1M607.7 347.1L607.9 349.1M607.7 347.1L609.4 345.8M598.7 346.4L596.7 347.9M595.1 335.7L592.4 336.8M592.4 336.8L590.8 335.5M592.4 336.8L592.1 338.9M599 330.6L599.4 327.4M602 332.9L605.1 331.6" fill="none" stroke="#d01414" stroke-width="1.2" stroke-linecap="round" stroke-linejoin="round"/>
<path d="M648 353.2L644.8 353L642.8 349.8L644 346.8L647.2 347L649.2 350.2ZM640.2 362.5L636.9 363.6L634.7 361.1L635.8 357.5L639.1 356.4L641.3 358.9ZM628.9 370.4L625.7 371.5L622.8 369.1L623.1 365.6L626.3 364.5L629.2 366.9ZM616.8 378.6L614.4 381.5L610.6 380.9L609.2 377.4L611.6 374.5L615.4 375.1ZM644.5 378L641.3 379.6L638.8 377.6L639.5 374L642.7 372.4L645.2 374.4ZM631.6 386.6L628.6 387.6L626 385L626.4 381.4L629.4 380.4L632 383ZM650.6 389.6L646.9 390.5L644.3 387.9L645.4 384.4L649.1 383.5L651.7 386.1ZM639.4 385.6L635.7 386.3L633.2 383.6L634.3 380.2L637.9 379.4L640.5 382.1ZM631.7 362.5L628.1 363.3L625.4 360.7L626.2 357.2L629.8 356.4L632.5 359ZM633.1 377.8L629.8 378.4L626.9 375.9L627.4 372.9L630.7 372.3L633.5 374.8ZM651.1 373.3L647.6 374.8L644.7 372.8L645.3 369.2L648.8 367.7L651.7 369.7ZM621.8 371.2L618.5 372.5L615.2 370.8L615.2 367.7L618.4 366.4L621.7 368.1ZM640.5 353.4L637.7 356L634.3 355L633.6 351.5L636.4 348.9L639.8 349.9ZM623.1 364.8L619.5 365.3L617.7 362.5L619.5 359.2L623.1 358.7L624.9 361.5ZM641.8 370.1L638.8 371.8L635.5 370L635.2 366.5L638.2 364.8L641.5 366.6ZM647.8 365.3L644 365.6L641.9 362.7L643.6 359.5L647.4 359.3L649.5 362.2ZM653.7 379.4L651.5 382.5L647.8 382.1L646.3 378.6L648.4 375.6L652.1 376ZM644.8 353L642.1 354.9L639.1 356.4M642.8 349.8L641.3 350.2L639.8 349.9M648 353.2L646.9 356.2L647.4 359.3M634.7 361.1L634.2 359.4L632.5 359M629.2 366.9L632.3 367.8L635.2 366.5M615.4 375.1L616.9 373.7L618.5 372.5M641.3 379.6L643 382.3L645.4 384.4M638.8 377.6L635.9 378.6L633.1 377.8M639.5 374L638.6 373.1L638.8 371.8M645.4 384.4L642.8 383.7L640.5 382.1M634.3 380.2L633.6 379L633.1 377.8M632.5 359L632.4 356.6L634.3 355M631.7 362.5L633.7 364.2L635.2 366.5M633.5 374.8L635.2 372.7L635.5 370M645.3 369.2L643.3 368.8L641.8 370.1M648.8 367.7L648.9 366.2L647.8 365.3M641.5 366.6L642.5 365.4L644 365.6M642.1 354.9L643.3 357M641.3 350.2L641.4 352.6M646.9 356.2L644.5 355.9M634.2 359.4L635.9 357.7M632.3 367.8L632.5 370.2M616.9 373.7L615.4 371.9M643 382.3L641.1 383.9M635.9 378.6L636 381M638.6 373.1L636.3 373.7M642.8 383.7L641.7 385.9M633.6 379L631.5 380.1M632.4 356.6L630.2 355.6M633.7 364.2L635.5 362.7M635.2 372.7L637.4 373.6M643.3 368.8L642.7 366.4M648.9 366.2L651.2 365.3M642.5 365.4L641.6 363.1M644 346.8L642.4 344.2M642.4 344.2L643.4 342.4M642.4 344.2L640.3 344.3M647.2 347L648.1 344.8M648.1 344.8L650.2 344.5M648.1 344.8L646.8 343.2M635.8 357.5L633.6 355M628.9 370.4L631.2 372.3M616.8 378.6L620.3 379.1M614.4 381.5L615.6 384.5M610.6 380.9L608.6 383.3M609.2 377.4L606.9 377.1M606.9 377.1L606.2 375.2M606.9 377.1L605.7 378.7M611.6 374.5L610.5 371.7M631.6 386.6L633.7 388.8M628.6 387.6L628.1 391.1M626 385L623.5 385.8M623.5 385.8L622 384.4M623.5 385.8L623.1 387.9M626.4 381.4L624.8 379.7M650.6 389.6L652.5 391.5M646.9 390.5L646 393.5M646 393.5L644 393.9M646 393.5L647.5 395M644.3 387.9L641.8 388.5M639.4 385.6L641.7 388M635.7 386.3L635 388.6M626.2 357.2L623.9 355M623.9 355L624.4 353M623.9 355L621.9 355.6M626.9 375.9L624.6 376.4M630.7 372.3L631 369.8M631 369.8L632.9 369M631 369.8L629.4 368.5M651.1 373.3L654 375.3M654 375.3L653.8 377.3M654 375.3L655.9 374.4M651.7 369.7L654.4 368.5M621.8 371.2L624 372.4M615.2 370.8L612.1 372.1M615.2 367.7L612.9 366.5M640.5 353.4L643.8 354.2M617.7 362.5L614.4 362.9M614.4 362.9L613.2 361.3M614.4 362.9L613.6 364.8M619.5 359.2L618.1 357M623.1 358.7L624.4 356.2M643.6 359.5L641.9 357.1M641.9 357.1L642.8 355.2M641.9 357.1L639.8 357.3M651.5 382.5L652.5 384.8M652.5 384.8L651.3 386.4M652.5 384.8L654.6 385M652.1 376L653.6 373.8" fill="none" stroke="#0a0a8c" stroke-width="2.1" stroke-linecap="round" stroke-linejoin="round"/>
<path d="M648 353.2L644.8 353L642.8 349.8L644 346.8L647.2 347L649.2 350.2ZM640.2 362.5L636.9 363.6L634.7 361.1L635.8 357.5L639.1 356.4L641.3 358.9ZM628.9 370.4L625.7 371.5L622.8 369.1L623.1 365.6L626.3 364.5L629.2 366.9ZM616.8 378.6L614.4 381.5L610.6 380.9L609.2 377.4L611.6 374.5L615.4 375.1ZM644.5 378L641.3 379.6L638.8 377.6L639.5 374L642.7 372.4L645.2 374.4ZM631.6 386.6L628.6 387.6L626 385L626.4 381.4L629.4 380.4L632 383ZM650.6 389.6L646.9 390.5L644.3 387.9L645.4 384.4L649.1 383.5L651.7 386.1ZM639.4 385.6L635.7 386.3L633.2 383.6L634.3 380.2L637.9 379.4L640.5 382.1ZM631.7 362.5L628.1 363.3L625.4 360.7L626.2 357.2L629.8 356.4L632.5 359ZM633.1 377.8L629.8 378.4L626.9 375.9L627.4 372.9L630.7 372.3L633.5 374.8ZM651.1 373.3L647.6 374.8L644.7 372.8L645.3 369.2L648.8 367.7L651.7 369.7ZM621.8 371.2L618.5 372.5L615.2 370.8L615.2 367.7L618.4 366.4L621.7 368.1ZM640.5 353.4L637.7 356L634.3 355L633.6 351.5L636.4 348.9L639.8 349.9ZM623.1 364.8L619.5 365.3L617.7 362.5L619.5 359.2L623.1 358.7L624.9 361.5ZM641.8 370.1L638.8 371.8L635.5 370L635.2 366.5L638.2 364.8L641.5 366.6ZM647.8 365.3L644 365.6L641.9 362.7L643.6 359.5L647.4 359.3L649.5 362.2ZM653.7 379.4L651.5 382.5L647.8 382.1L646.3 378.6L648.4 375.6L652.1 376ZM644.8 353L642.1 354.9L639.1 356.4M642.8 349.8L641.3 350.2L639.8 349.9M648 353.2L646.9 356.2L647.4 359.3M634.7 361.1L634.2 359.4L632.5 359M629.2 366.9L632.3 367.8L635.2 366.5M615.4 375.1L616.9 373.7L618.5 372.5M641.3 379.6L643 382.3L645.4 384.4M638.8 377.6L635.9 378.6L633.1 377.8M639.5 374L638.6 373.1L638.8 371.8M645.4 384.4L642.8 383.7L640.5 382.1M634.3 380.2L633.6 379L633.1 377.8M632.5 359L632.4 356.6L634.3 355M631.7 362.5L633.7 364.2L635.2 366.5M633.5 374.8L635.2 372.7L635.5 370M645.3 369.2L643.3 368.8L641.8 370.1M648.8 367.7L648.9 366.2L647.8 365.3M641.5 366.6L642.5 365.4L644 365.6M642.1 354.9L643.3 357M641.3 350.2L641.4 352.6M646.9 356.2L644.5 355.9M634.2 359.4L635.9 357.7M632.3 367.8L632.5 370.2M616.9 373.7L615.4 371.9M643 382.3L641.1 383.9M635.9 378.6L636 381M638.6 373.1L636.3 373.7M642.8 383.7L641.7 385.9M633.6 379L631.5 380.1M632.4 356.6L630.2 355.6M633.7 364.2L635.5 362.7M635.2 372.7L637.4 373.6M643.3 368.8L642.7 366.4M648.9 366.2L651.2 365.3M642.5 365.4L641.6 363.1M644 346.8L642.4 344.2M642.4 344.2L643.4 342.4M642.4 344.2L640.3 344.3M647.2 347L648.1 344.8M648.1 344.8L650.2 344.5M648.1 344.8L646.8 343.2M635.8 357.5L633.6 355M628.9 370.4L631.2 372.3M616.8 378.6L620.3 379.1M614.4 381.5L615.6 384.5M610.6 380.9L608.6 383.3M609.2 377.4L606.9 377.1M606.9 377.1L606.2 375.2M606.9 377.1L605.7 378.7M611.6 374.5L610.5 371.7M631.6 386.6L633.7 388.8M628.6 387.6L628.1 391.1M626 385L623.5 385.8M623.5 385.8L622 384.4M623.5 385.8L623.1 387.9M626.4 381.4L624.8 379.7M650.6 389.6L652.5 391.5M646.9 390.5L646 393.5M646 393.5L644 393.9M646 393.5L647.5 395M644.3 387.9L641.8 388.5M639.4 385.6L641.7 388M635.7 386.3L635 388.6M626.2 357.2L623.9 355M623.9 355L624.4 353M623.9 355L621.9 355.6M626.9 375.9L624.6 376.4M630.7 372.3L631 369.8M631 369.8L632.9 369M631 369.8L629.4 368.5M651.1 373.3L654 375.3M654 375.3L653.8 377.3M654 375.3L655.9 374.4M651.7 369.7L654.4 368.5M621.8 371.2L624 372.4M615.2 370.8L612.1 372.1M615.2 367.7L612.9 366.5M640.5 353.4L643.8 354.2M617.7 362.5L614.4 362.9M614.4 362.9L613.2 361.3M614.4 362.9L613.6 364.8M619.5 359.2L618.1 357M623.1 358.7L624.4 356.2M643.6 359.5L641.9 357.1M641.9 357.1L642.8 355.2M641.9 357.1L639.8 357.3M651.5 382.5L652.5 384.8M652.5 384.8L651.3 386.4M652.5 384.8L654.6 385M652.1 376L653.6 373.8" fill="none" stroke="#1414cc" stroke-width="1.4" stroke-linecap="round" stroke-linejoin="round"/>
<path d="M622.2 392.8L618.5 392.8L616.3 390L617.8 387.2L621.5 387.2L623.7 390ZM636.9 396.4L633.4 397.8L630.6 395.4L631.1 391.6L634.6 390.2L637.4 392.6ZM650.5 398.6L647.4 399.7L644.9 397.1L645.5 393.4L648.6 392.3L651.1 394.9ZM615 403.9L611.5 405L608.5 403.1L609 400.1L612.5 399L615.5 400.9ZM606.4 410.7L603.3 412.2L599.9 410.5L599.6 407.3L602.7 405.8L606.1 407.5ZM599.1 416.8L595.5 417.5L593.5 414.7L594.9 411.2L598.5 410.5L600.5 413.3ZM610.8 419.4L608 421.7L605.2 420.3L605.2 416.6L608 414.3L610.8 415.7ZM622.8 419.8L620.7 422.7L617 422.9L615.2 420.2L617.3 417.3L621 417.1ZM634.4 413.3L631.8 415.7L628.4 414.3L627.6 410.7L630.2 408.3L633.6 409.7ZM631.2 427.6L629.1 430.6L625.9 429.9L624.8 426.4L626.9 423.4L630.1 424.1ZM627 438.3L623.8 439.6L620.9 437.3L621 433.7L624.2 432.4L627.1 434.7ZM641.9 401.6L638.8 403.5L635.3 402.1L635 398.8L638.1 396.9L641.6 398.3ZM632.2 388.8L630 391.9L626.4 391.6L625 388.3L627.3 385.3L630.9 385.5ZM623.7 390L624.1 388.9L625 388.3M644.9 397.1L643.5 398.5L641.6 398.3M608.5 403.1L607.9 405.6L606.1 407.5M606.4 410.7L606.2 413L608 414.3M600.5 413.3L603.5 414.1L605.2 416.6M610.8 419.4L613 419.8L615.2 420.2M620.7 422.7L622 425.4L624.8 426.4M625.9 429.9L624.7 430.9L624.2 432.4M624.1 388.9L622.2 387.5M643.5 398.5L644.4 400.8M607.9 405.6L610 406.8M606.2 413L604 414M603.5 414.1L604.8 412.1M613 419.8L612.6 422.2M622 425.4L620.4 427.1M624.7 430.9L622.7 429.5M622.2 392.8L624.4 395.6M616.3 390L613 389.9M613 389.9L612 388.1M613 389.9L612 391.7M617.8 387.2L615.9 384.8M633.4 397.8L633 400.7M633 400.7L631.1 401.4M633 400.7L634.6 402M630.6 395.4L628.1 396.4M650.5 398.6L652.1 400.4M647.4 399.7L647 402M645.5 393.4L643.5 391.3M643.5 391.3L644.1 389.3M643.5 391.3L641.5 391.8M648.6 392.3L649.1 389.6M649.1 389.6L651 388.9M649.1 389.6L647.5 388.3M651.1 394.9L654.5 393.8M615 403.9L617.3 405.3M611.5 405L611.1 407.3M609 400.1L606.1 398.3M612.5 399L613.1 395.7M615.5 400.9L618.5 399.9M603.3 412.2L603.5 414.7M599.6 407.3L597.3 406.2M602.7 405.8L602.5 402.7M602.5 402.7L604.2 401.6M602.5 402.7L600.6 401.8M599.1 416.8L601 419.5M595.5 417.5L594.6 419.9M593.5 414.7L590.1 415.3M608 421.7L608 424.9M608 424.9L606.2 425.9M608 424.9L609.8 425.9M605.2 420.3L603.2 421.9M603.2 421.9L601.2 421.2M603.2 421.9L603.5 424M610.8 415.7L613.5 413.6M622.8 419.8L625 419.7M617 422.9L615.1 425.6M617.3 417.3L615.8 414.9M621 417.1L622.7 414.7M634.4 413.3L637.6 414.5M637.6 414.5L637.9 416.6M637.6 414.5L639.2 413.2M631.8 415.7L632.6 418.9M628.4 414.3L626.4 416.2M627.6 410.7L624.7 409.6M630.2 408.3L629.6 406.1M633.6 409.7L635.3 408.1M635.3 408.1L637.3 408.8M635.3 408.1L634.9 406.1M629.1 430.6L629.9 433M630.1 424.1L632 421.4M632 421.4L634.1 421.6M632 421.4L631.2 419.5M627 438.3L628.9 439.8M623.8 439.6L623.7 443.2M620.9 437.3L618.5 438.3M621 433.7L618.3 431.6M618.3 431.6L618.6 429.5M618.3 431.6L616.4 432.4M641.9 401.6L644.8 402.7M644.8 402.7L645.1 404.8M644.8 402.7L646.4 401.4M638.8 403.5L639.1 406.8M632.2 388.8L635.1 389M626.4 391.6L624.5 394.1M627.3 385.3L626 382M630.9 385.5L632.3 383.6" fill="none" stroke="#5c3434" stroke-width="1.8" stroke-linecap="round" stroke-linejoin="round"/>
<path d="M622.2 392.8L618.5 392.8L616.3 390L617.8 387.2L621.5 387.2L623.7 390ZM636.9 396.4L633.4 397.8L630.6 395.4L631.1 391.6L634.6 390.2L637.4 392.6ZM650.5 398.6L647.4 399.7L644.9 397.1L645.5 393.4L648.6 392.3L651.1 394.9ZM615 403.9L611.5 405L608.5 403.1L609 400.1L612.5 399L615.5 400.9ZM606.4 410.7L603.3 412.2L599.9 410.5L599.6 407.3L602.7 405.8L606.1 407.5ZM599.1 416.8L595.5 417.5L593.5 414.7L594.9 411.2L598.5 410.5L600.5 413.3ZM610.8 419.4L608 421.7L605.2 420.3L605.2 416.6L608 414.3L610.8 415.7ZM622.8 419.8L620.7 422.7L617 422.9L615.2 420.2L617.3 417.3L621 417.1ZM634.4 413.3L631.8 415.7L628.4 414.3L627.6 410.7L630.2 408.3L633.6 409.7ZM631.2 427.6L629.1 430.6L625.9 429.9L624.8 426.4L626.9 423.4L630.1 424.1ZM627 438.3L623.8 439.6L620.9 437.3L621 433.7L624.2 432.4L627.1 434.7ZM641.9 401.6L638.8 403.5L635.3 402.1L635 398.8L638.1 396.9L641.6 398.3ZM632.2 388.8L630 391.9L626.4 391.6L625 388.3L627.3 385.3L630.9 385.5ZM623.7 390L624.1 388.9L625 388.3M644.9 397.1L643.5 398.5L641.6 398.3M608.5 403.1L607.9 405.6L606.1 407.5M606.4 410.7L606.2 413L608 414.3M600.5 413.3L603.5 414.1L605.2 416.6M610.8 419.4L613 419.8L615.2 420.2M620.7 422.7L622 425.4L624.8 426.4M625.9 429.9L624.7 430.9L624.2 432.4M624.1 388.9L622.2 387.5M643.5 398.5L644.4 400.8M607.9 405.6L610 406.8M606.2 413L604 414M603.5 414.1L604.8 412.1M613 419.8L612.6 422.2M622 425.4L620.4 427.1M624.7 430.9L622.7 429.5M622.2 392.8L624.4 395.6M616.3 390L613 389.9M613 389.9L612 388.1M613 389.9L612 391.7M617.8 387.2L615.9 384.8M633.4 397.8L633 400.7M633 400.7L631.1 401.4M633 400.7L634.6 402M630.6 395.4L628.1 396.4M650.5 398.6L652.1 400.4M647.4 399.7L647 402M645.5 393.4L643.5 391.3M643.5 391.3L644.1 389.3M643.5 391.3L641.5 391.8M648.6 392.3L649.1 389.6M649.1 389.6L651 388.9M649.1 389.6L647.5 388.3M651.1 394.9L654.5 393.8M615 403.9L617.3 405.3M611.5 405L611.1 407.3M609 400.1L606.1 398.3M612.5 399L613.1 395.7M615.5 400.9L618.5 399.9M603.3 412.2L603.5 414.7M599.6 407.3L597.3 406.2M602.7 405.8L602.5 402.7M602.5 402.7L604.2 401.6M602.5 402.7L600.6 401.8M599.1 416.8L601 419.5M595.5 417.5L594.6 419.9M593.5 414.7L590.1 415.3M608 421.7L608 424.9M608 424.9L606.2 425.9M608 424.9L609.8 425.9M605.2 420.3L603.2 421.9M603.2 421.9L601.2 421.2M603.2 421.9L603.5 424M610.8 415.7L613.5 413.6M622.8 419.8L625 419.7M617 422.9L615.1 425.6M617.3 417.3L615.8 414.9M621 417.1L622.7 414.7M634.4 413.3L637.6 414.5M637.6 414.5L637.9 416.6M637.6 414.5L639.2 413.2M631.8 415.7L632.6 418.9M628.4 414.3L626.4 416.2M627.6 410.7L624.7 409.6M630.2 408.3L629.6 406.1M633.6 409.7L635.3 408.1M635.3 408.1L637.3 408.8M635.3 408.1L634.9 406.1M629.1 430.6L629.9 433M630.1 424.1L632 421.4M632 421.4L634.1 421.6M632 421.4L631.2 419.5M627 438.3L628.9 439.8M623.8 439.6L623.7 443.2M620.9 437.3L618.5 438.3M621 433.7L618.3 431.6M618.3 431.6L618.6 429.5M618.3 431.6L616.4 432.4M641.9 401.6L644.8 402.7M644.8 402.7L645.1 404.8M644.8 402.7L646.4 401.4M638.8 403.5L639.1 406.8M632.2 388.8L635.1 389M626.4 391.6L624.5 394.1M627.3 385.3L626 382M630.9 385.5L632.3 383.6" fill="none" stroke="#c28484" stroke-width="1" stroke-linecap="round" stroke-linejoin="round"/>
</g>
<path d="M507 259C505.3 260.8 500.3 266 497 270C493.7 274 490.2 278.7 487 283C483.8 287.3 481.5 292.2 478 296C474.5 299.8 470.3 303.2 466 306C461.7 308.8 455.7 310.7 452 313C448.3 315.3 446 316.8 444 320C442 323.2 440.3 328 440 332C439.7 336 440.5 340 442 344C443.5 348 446.8 352 449 356C451.2 360 453.8 363.8 455 368C456.2 372.2 456.7 376.8 456 381C455.3 385.2 452.3 389.2 451 393C449.7 396.8 448.2 399.8 448 404C447.8 408.2 449.2 413.3 450 418C450.8 422.7 452.4 428.3 453 432C453.6 435.7 453.4 438.7 453.5 440" fill="none" stroke="#f26468" stroke-width="2.3" stroke-linecap="round" stroke-linejoin="round" />
<polygon points="453.8,445.2 451.2,437.8 455.8,437.7" fill="#f26468"/>
<path d="M634.7 260.3C633.9 261.2 631.5 264.3 630 266C628.5 267.7 626.4 268.4 625.4 270.6C624.4 272.8 624 276.1 624 279C624 281.9 624.7 285.2 625.5 288C626.3 290.8 628.4 293.3 628.8 296C629.2 298.7 629.1 301.5 628 304C626.9 306.5 624 308.7 622 311C620 313.3 617.8 315.5 616 318C614.2 320.5 612.3 323.3 611.5 326C610.7 328.7 610.4 331.3 611 334C611.6 336.7 613 339.3 615 342C617 344.7 620.7 347.3 623 350C625.3 352.7 627.6 354.7 629 358C630.4 361.3 631.3 366.2 631.5 370C631.7 373.8 631.1 377.5 630 381C628.9 384.5 626.3 387.5 625 391C623.7 394.5 622.2 398.8 622.4 401.8C622.6 404.8 624.2 406.7 626 409C627.8 411.3 630.5 413.8 633 415.5C635.5 417.2 638.6 417.7 641 419C643.4 420.3 645.8 421.5 647.5 423.5C649.2 425.5 650.8 429.8 651.5 431" fill="none" stroke="#f26468" stroke-width="2.3" stroke-linecap="round" stroke-linejoin="round" />
<polygon points="654.3,437.3 649.4,431.3 653.7,429.5" fill="#f26468"/>
<path d="M586.3 285C586.6 285.8 587 288.3 588 290C589 291.7 590 293.2 592 295C594 296.8 597.2 299.1 600 301C602.8 302.9 606.3 304.7 609 306.5C611.7 308.3 614.3 310.4 616 312C617.7 313.6 618.5 315.3 619 316" fill="none" stroke="#f26468" stroke-width="2.1" stroke-linecap="round" stroke-linejoin="round" />
<path d="M584.5 363.7C585.6 364.1 588.4 365.3 591 366C593.6 366.7 596.8 367.5 600 367.8C603.2 368.1 606.8 368.1 610 368C613.2 367.9 616.3 367.3 619 367C621.7 366.7 624.8 366.2 626 366" fill="none" stroke="#f26468" stroke-width="2.3" stroke-linecap="round" stroke-linejoin="round" />
<path d="M436 275.7C436.8 277.6 439 283.1 441 287C443 290.9 445.3 294.7 448 299C450.7 303.3 453.7 308.2 457 313C460.3 317.8 465 323.5 468 328C471 332.5 472.8 336.5 475 340C477.2 343.5 480 347.5 481 349" fill="none" stroke="#62c4f2" stroke-width="2.5" stroke-linecap="round" stroke-linejoin="round" stroke-dasharray="0.1 4.6"/>
<polygon points="486.9,357.4 479.8,351.9 484.2,348.8" fill="#62c4f2"/>
<path d="M385.5 366.8C388.8 367.5 398.4 369.6 405 371C411.6 372.4 418.3 374 425 375.5C431.7 377 438.3 378.4 445 380C451.7 381.6 459.2 383.3 465 385C470.8 386.7 476 388.6 480 390C484 391.4 487.5 392.9 489 393.5" fill="none" stroke="#62c4f2" stroke-width="2.5" stroke-linecap="round" stroke-linejoin="round" stroke-dasharray="0.1 4.6"/>
<polygon points="498,397.6 489,396.6 491.2,391.7" fill="#62c4f2"/>
<text x="534.4" y="331.6" font-size="12.3" font-weight="bold" text-anchor="middle" fill="#000" >Crystal-</text>
<text x="534.7" y="345.4" font-size="12.3" font-weight="bold" text-anchor="middle" fill="#000" >rearrangement</text>
<polygon points="508.2,359.8 551,359.8 551,355 563.8,364.8 551,374.6 551,370 508.2,370" fill="#e9bcbc"/>
<line x1="460.5" y1="455.8" x2="491" y2="455.8" stroke="#f26468" stroke-width="2.7"/>
<polygon points="498.7,455.8 489.8,458.5 489.8,453.1" fill="#f26468"/>
<line x1="461" y1="472.2" x2="490" y2="472.2" stroke="#62c4f2" stroke-width="2.5" stroke-dasharray="0.1 4.8" stroke-linecap="round"/>
<polygon points="498.7,472.2 489.8,474.9 489.8,469.5" fill="#62c4f2"/>
<text x="507.8" y="459.6" font-size="12.1" font-weight="bold" text-anchor="start" fill="#000" >Intracage nanochannels</text>
<text x="507.8" y="476.1" font-size="12.1" font-weight="bold" text-anchor="start" fill="#000" >Intercage nanochannels</text>
</g>
<defs><filter id="b04" x="0" y="0" width="100%" height="100%" filterUnits="userSpaceOnUse"><feGaussianBlur stdDeviation="0.35"/></filter></defs>
</svg>
</body></html>
